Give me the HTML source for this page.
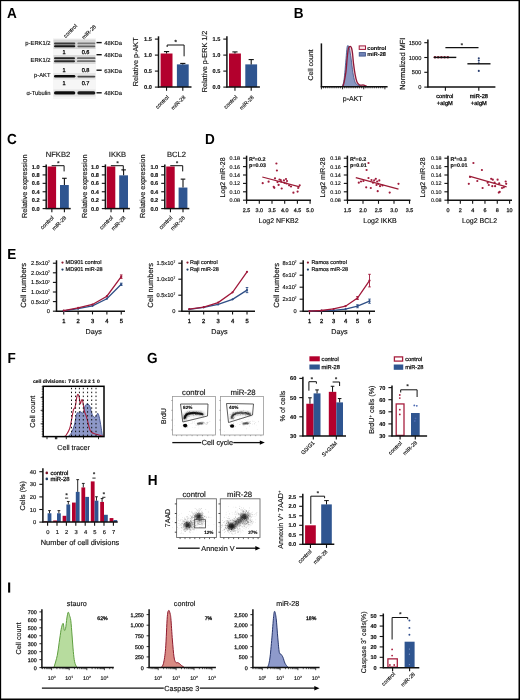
<!DOCTYPE html><html><head><meta charset="utf-8"><style>html,body{margin:0;padding:0;background:#fff;font-family:"Liberation Sans", sans-serif;}svg{display:block;will-change:transform;}</style></head><body><svg width="520" height="700" viewBox="0 0 520 700" font-family="&quot;Liberation Sans&quot;, sans-serif" text-rendering="geometricPrecision">
<defs><filter id="b1" x="-20%" y="-50%" width="140%" height="200%"><feGaussianBlur stdDeviation="0.6"/></filter><filter id="b2" x="-50%" y="-50%" width="200%" height="200%"><feGaussianBlur stdDeviation="1.2"/></filter><filter id="b3" x="-50%" y="-50%" width="200%" height="200%"><feGaussianBlur stdDeviation="0.35"/></filter></defs>
<rect x="0.00" y="0.00" width="520.00" height="700.00" fill="#fff"/>
<text transform="translate(7.00 18.00) scale(0.93 1)" font-size="14.6" font-weight="bold" fill="#000">A</text>
<rect x="53.00" y="38.00" width="43.00" height="61.00" fill="#f6f6f6"/>
<rect x="53.50" y="39.50" width="42.00" height="9.50" fill="#d6d6d6" filter="url(#b1)"/>
<rect x="53.50" y="55.00" width="42.00" height="9.00" fill="#d9d9d9" filter="url(#b1)"/>
<rect x="53.50" y="73.00" width="42.00" height="6.50" fill="#e4e4e4" filter="url(#b1)"/>
<rect x="53.50" y="89.50" width="42.00" height="7.00" fill="#e4e4e4" filter="url(#b1)"/>
<rect x="54.00" y="42.40" width="21.30" height="2.00" rx="1.00" fill="#3a3a3a" filter="url(#b1)"/>
<rect x="77.40" y="42.55" width="17.90" height="1.70" rx="0.85" fill="#7a7a7a" filter="url(#b1)"/>
<rect x="54.00" y="45.25" width="21.30" height="2.10" rx="1.05" fill="#151515" filter="url(#b1)"/>
<rect x="77.40" y="45.40" width="17.90" height="1.80" rx="0.90" fill="#5f5f5f" filter="url(#b1)"/>
<rect x="54.00" y="57.20" width="21.00" height="2.00" rx="1.00" fill="#222" filter="url(#b1)"/>
<rect x="77.00" y="57.30" width="18.50" height="1.80" rx="0.90" fill="#666" filter="url(#b1)"/>
<rect x="54.00" y="60.20" width="21.00" height="2.00" rx="1.00" fill="#2a2a2a" filter="url(#b1)"/>
<rect x="77.00" y="60.30" width="18.50" height="1.80" rx="0.90" fill="#6f6f6f" filter="url(#b1)"/>
<rect x="54.00" y="75.05" width="21.30" height="2.50" rx="1.25" fill="#111" filter="url(#b1)"/>
<rect x="77.40" y="75.65" width="17.90" height="1.90" rx="0.95" fill="#484848" filter="url(#b1)"/>
<rect x="54.00" y="91.20" width="21.30" height="3.40" rx="1.70" fill="#111" filter="url(#b1)"/>
<rect x="77.40" y="91.35" width="17.90" height="3.10" rx="1.55" fill="#1c1c1c" filter="url(#b1)"/>
<text x="64.00" y="54.42" font-size="5.6" text-anchor="middle" fill="#111" stroke="#111" stroke-width="0.3">1</text>
<text x="85.60" y="54.42" font-size="5.6" text-anchor="middle" fill="#111" stroke="#111" stroke-width="0.3">0.6</text>
<text x="64.00" y="71.52" font-size="5.6" text-anchor="middle" fill="#111" stroke="#111" stroke-width="0.3">1</text>
<text x="85.60" y="71.52" font-size="5.6" text-anchor="middle" fill="#111" stroke="#111" stroke-width="0.3">0.8</text>
<text x="64.00" y="85.02" font-size="5.6" text-anchor="middle" fill="#111" stroke="#111" stroke-width="0.3">1</text>
<text x="85.60" y="85.02" font-size="5.6" text-anchor="middle" fill="#111" stroke="#111" stroke-width="0.3">0.7</text>
<text x="50.50" y="45.09" font-size="5.8" text-anchor="end" fill="#111" stroke="#111" stroke-width="0.15">p-ERK1/2</text>
<text x="50.50" y="62.09" font-size="5.8" text-anchor="end" fill="#111" stroke="#111" stroke-width="0.15">ERK1/2</text>
<text x="50.50" y="76.59" font-size="5.8" text-anchor="end" fill="#111" stroke="#111" stroke-width="0.15">p-AKT</text>
<text x="50.50" y="95.09" font-size="5.8" text-anchor="end" fill="#111" stroke="#111" stroke-width="0.15">&#945;-Tubulin</text>
<line x1="96.50" y1="42.60" x2="101.70" y2="42.60" stroke="#111" stroke-width="1.4"/>
<text x="104.30" y="44.99" font-size="5.8" text-anchor="start" fill="#111" stroke="#111" stroke-width="0.15">48KDa</text>
<line x1="96.50" y1="54.70" x2="101.70" y2="54.70" stroke="#111" stroke-width="1.4"/>
<text x="104.30" y="57.09" font-size="5.8" text-anchor="start" fill="#111" stroke="#111" stroke-width="0.15">48KDa</text>
<line x1="96.50" y1="70.20" x2="101.70" y2="70.20" stroke="#111" stroke-width="1.4"/>
<text x="104.30" y="72.59" font-size="5.8" text-anchor="start" fill="#111" stroke="#111" stroke-width="0.15">63KDa</text>
<line x1="96.50" y1="92.80" x2="101.70" y2="92.80" stroke="#111" stroke-width="1.4"/>
<text x="104.30" y="95.19" font-size="5.8" text-anchor="start" fill="#111" stroke="#111" stroke-width="0.15">48KDa</text>
<text x="77.50" y="26.50" font-size="5.5" text-anchor="end" fill="#111" stroke="#111" stroke-width="0.15" transform="rotate(-45 77.50 26.50)">control</text>
<text x="96.50" y="27.00" font-size="5.5" text-anchor="end" fill="#111" stroke="#111" stroke-width="0.15" transform="rotate(-45 96.50 27.00)">miR-28</text>
<rect x="160.60" y="53.50" width="11.90" height="33.60" fill="#b3002d"/>
<rect x="176.90" y="64.38" width="11.80" height="22.72" fill="#2f5590"/>
<line x1="166.55" y1="53.50" x2="166.55" y2="51.58" stroke="#111" stroke-width="1.1"/>
<line x1="163.95" y1="51.58" x2="169.15" y2="51.58" stroke="#111" stroke-width="1.1"/>
<line x1="182.80" y1="64.38" x2="182.80" y2="63.42" stroke="#111" stroke-width="1.1"/>
<line x1="180.20" y1="63.42" x2="185.40" y2="63.42" stroke="#111" stroke-width="1.1"/>
<line x1="158.50" y1="36.30" x2="158.50" y2="87.60" stroke="#111" stroke-width="1.5"/>
<line x1="154.90" y1="39.10" x2="158.50" y2="39.10" stroke="#111" stroke-width="1.1"/>
<text x="151.90" y="41.12" font-size="5.6" text-anchor="end" font-weight="bold" fill="#111" stroke="#111" stroke-width="0.15">1.5</text>
<line x1="154.90" y1="55.10" x2="158.50" y2="55.10" stroke="#111" stroke-width="1.1"/>
<text x="151.90" y="57.12" font-size="5.6" text-anchor="end" font-weight="bold" fill="#111" stroke="#111" stroke-width="0.15">1.0</text>
<line x1="154.90" y1="71.10" x2="158.50" y2="71.10" stroke="#111" stroke-width="1.1"/>
<text x="151.90" y="73.12" font-size="5.6" text-anchor="end" font-weight="bold" fill="#111" stroke="#111" stroke-width="0.15">0.5</text>
<line x1="154.90" y1="87.10" x2="158.50" y2="87.10" stroke="#111" stroke-width="1.1"/>
<text x="151.90" y="89.12" font-size="5.6" text-anchor="end" font-weight="bold" fill="#111" stroke="#111" stroke-width="0.15">0.0</text>
<line x1="158.00" y1="87.10" x2="191.50" y2="87.10" stroke="#111" stroke-width="1.5"/>
<line x1="166.55" y1="87.10" x2="166.55" y2="90.70" stroke="#111" stroke-width="1.1"/>
<line x1="182.80" y1="87.10" x2="182.80" y2="90.70" stroke="#111" stroke-width="1.1"/>
<text x="169.35" y="97.60" font-size="5.5" text-anchor="end" fill="#111" stroke="#111" stroke-width="0.15" transform="rotate(-45 169.35 97.60)">control</text>
<text x="185.90" y="97.60" font-size="5.5" text-anchor="end" fill="#111" stroke="#111" stroke-width="0.15" transform="rotate(-45 185.90 97.60)">miR-28</text>
<text x="137.99" y="61.80" font-size="7.25" text-anchor="middle" fill="#111" stroke="#111" stroke-width="0.15" transform="rotate(-90 137.99 61.80)">Relative p-AKT</text>
<path d="M167.15,47 L167.15,45 L184.10,45 L184.10,56.3" fill="none" stroke="#111" stroke-width="1.0"/>
<text x="175.62" y="43.66" font-size="6" text-anchor="middle" font-weight="bold" fill="#111" stroke="#111" stroke-width="0.15">*</text>
<rect x="229.00" y="53.50" width="11.90" height="33.60" fill="#b3002d"/>
<rect x="245.30" y="64.38" width="11.80" height="22.72" fill="#2f5590"/>
<line x1="234.95" y1="53.50" x2="234.95" y2="51.90" stroke="#111" stroke-width="1.1"/>
<line x1="232.35" y1="51.90" x2="237.55" y2="51.90" stroke="#111" stroke-width="1.1"/>
<line x1="251.20" y1="64.38" x2="251.20" y2="59.58" stroke="#111" stroke-width="1.1"/>
<line x1="248.60" y1="59.58" x2="253.80" y2="59.58" stroke="#111" stroke-width="1.1"/>
<line x1="226.90" y1="36.30" x2="226.90" y2="87.60" stroke="#111" stroke-width="1.5"/>
<line x1="223.30" y1="39.10" x2="226.90" y2="39.10" stroke="#111" stroke-width="1.1"/>
<text x="220.30" y="41.12" font-size="5.6" text-anchor="end" font-weight="bold" fill="#111" stroke="#111" stroke-width="0.15">1.5</text>
<line x1="223.30" y1="55.10" x2="226.90" y2="55.10" stroke="#111" stroke-width="1.1"/>
<text x="220.30" y="57.12" font-size="5.6" text-anchor="end" font-weight="bold" fill="#111" stroke="#111" stroke-width="0.15">1.0</text>
<line x1="223.30" y1="71.10" x2="226.90" y2="71.10" stroke="#111" stroke-width="1.1"/>
<text x="220.30" y="73.12" font-size="5.6" text-anchor="end" font-weight="bold" fill="#111" stroke="#111" stroke-width="0.15">0.5</text>
<line x1="223.30" y1="87.10" x2="226.90" y2="87.10" stroke="#111" stroke-width="1.1"/>
<text x="220.30" y="89.12" font-size="5.6" text-anchor="end" font-weight="bold" fill="#111" stroke="#111" stroke-width="0.15">0.0</text>
<line x1="226.40" y1="87.10" x2="259.90" y2="87.10" stroke="#111" stroke-width="1.5"/>
<line x1="234.95" y1="87.10" x2="234.95" y2="90.70" stroke="#111" stroke-width="1.1"/>
<line x1="251.20" y1="87.10" x2="251.20" y2="90.70" stroke="#111" stroke-width="1.1"/>
<text x="237.75" y="97.60" font-size="5.5" text-anchor="end" fill="#111" stroke="#111" stroke-width="0.15" transform="rotate(-45 237.75 97.60)">control</text>
<text x="254.30" y="97.60" font-size="5.5" text-anchor="end" fill="#111" stroke="#111" stroke-width="0.15" transform="rotate(-45 254.30 97.60)">miR-28</text>
<text x="207.39" y="61.50" font-size="7.25" text-anchor="middle" fill="#111" stroke="#111" stroke-width="0.15" transform="rotate(-90 207.39 61.50)">Relative p-ERK 1/2</text>
<text transform="translate(293.70 17.70) scale(0.93 1)" font-size="14.6" font-weight="bold" fill="#000">B</text>
<path d="M342.80,86.50 C343.03,85.72 343.67,84.32 344.20,81.80 C344.73,79.28 345.52,75.23 346.00,71.40 C346.48,67.57 346.72,62.53 347.10,58.80 C347.48,55.07 347.92,51.00 348.30,49.00 C348.68,47.00 349.02,47.22 349.40,46.80 C349.78,46.38 350.23,46.27 350.60,46.50 C350.97,46.73 351.28,47.12 351.60,48.20 C351.92,49.28 352.18,50.47 352.50,53.00 C352.82,55.53 353.05,59.75 353.50,63.40 C353.95,67.05 354.63,71.83 355.20,74.90 C355.77,77.97 356.23,80.17 356.90,81.80 C357.57,83.43 358.43,84.13 359.20,84.70 C359.97,85.27 360.87,85.17 361.50,85.20 C362.13,85.23 362.42,84.83 363.00,84.90 C363.58,84.97 364.33,85.33 365.00,85.60 C365.67,85.87 366.67,86.35 367.00,86.50 Z" fill="#f4d6dc"/>
<path d="M342.20,86.50 C342.45,85.72 343.27,84.12 343.70,81.80 C344.13,79.48 344.42,76.43 344.80,72.60 C345.18,68.77 345.62,63.03 346.00,58.80 C346.38,54.57 346.72,49.37 347.10,47.20 C347.48,45.03 347.92,45.60 348.30,45.80 C348.68,46.00 348.93,46.23 349.40,48.40 C349.87,50.57 350.52,54.77 351.10,58.80 C351.68,62.83 352.32,68.95 352.90,72.60 C353.48,76.25 354.03,78.78 354.60,80.70 C355.17,82.62 355.53,83.28 356.30,84.10 C357.07,84.92 358.25,85.23 359.20,85.60 C360.15,85.97 360.87,86.15 362.00,86.30 C363.13,86.45 365.33,86.47 366.00,86.50 Z" fill="#7d8fbe" fill-opacity="0.9"/>
<path d="M342.20,86.50 C342.45,85.72 343.27,84.12 343.70,81.80 C344.13,79.48 344.42,76.43 344.80,72.60 C345.18,68.77 345.62,63.03 346.00,58.80 C346.38,54.57 346.72,49.37 347.10,47.20 C347.48,45.03 347.92,45.60 348.30,45.80 C348.68,46.00 348.93,46.23 349.40,48.40 C349.87,50.57 350.52,54.77 351.10,58.80 C351.68,62.83 352.32,68.95 352.90,72.60 C353.48,76.25 354.03,78.78 354.60,80.70 C355.17,82.62 355.53,83.28 356.30,84.10 C357.07,84.92 358.25,85.23 359.20,85.60 C360.15,85.97 360.87,86.15 362.00,86.30 C363.13,86.45 365.33,86.47 366.00,86.50" fill="none" stroke="#3b4f86" stroke-width="0.8"/>
<path d="M342.80,86.50 C343.03,85.72 343.67,84.32 344.20,81.80 C344.73,79.28 345.52,75.23 346.00,71.40 C346.48,67.57 346.72,62.53 347.10,58.80 C347.48,55.07 347.92,51.00 348.30,49.00 C348.68,47.00 349.02,47.22 349.40,46.80 C349.78,46.38 350.23,46.27 350.60,46.50 C350.97,46.73 351.28,47.12 351.60,48.20 C351.92,49.28 352.18,50.47 352.50,53.00 C352.82,55.53 353.05,59.75 353.50,63.40 C353.95,67.05 354.63,71.83 355.20,74.90 C355.77,77.97 356.23,80.17 356.90,81.80 C357.57,83.43 358.43,84.13 359.20,84.70 C359.97,85.27 360.87,85.17 361.50,85.20 C362.13,85.23 362.42,84.83 363.00,84.90 C363.58,84.97 364.33,85.33 365.00,85.60 C365.67,85.87 366.67,86.35 367.00,86.50" fill="none" stroke="#8e1838" stroke-width="1.3"/>
<line x1="321.40" y1="43.40" x2="321.40" y2="87.30" stroke="#111" stroke-width="1.5"/>
<line x1="320.80" y1="86.70" x2="387.60" y2="86.70" stroke="#111" stroke-width="1.5"/>
<line x1="321.40" y1="86.70" x2="321.40" y2="89.30" stroke="#111" stroke-width="0.9"/>
<line x1="323.52" y1="86.70" x2="323.52" y2="88.30" stroke="#111" stroke-width="0.8"/>
<line x1="325.63" y1="86.70" x2="325.63" y2="88.30" stroke="#111" stroke-width="0.8"/>
<line x1="327.75" y1="86.70" x2="327.75" y2="88.30" stroke="#111" stroke-width="0.8"/>
<line x1="329.87" y1="86.70" x2="329.87" y2="88.30" stroke="#111" stroke-width="0.8"/>
<line x1="331.98" y1="86.70" x2="331.98" y2="88.30" stroke="#111" stroke-width="0.8"/>
<line x1="334.10" y1="86.70" x2="334.10" y2="88.30" stroke="#111" stroke-width="0.8"/>
<line x1="336.22" y1="86.70" x2="336.22" y2="88.30" stroke="#111" stroke-width="0.8"/>
<line x1="338.33" y1="86.70" x2="338.33" y2="88.30" stroke="#111" stroke-width="0.8"/>
<line x1="340.45" y1="86.70" x2="340.45" y2="88.30" stroke="#111" stroke-width="0.8"/>
<line x1="342.57" y1="86.70" x2="342.57" y2="89.30" stroke="#111" stroke-width="0.9"/>
<line x1="344.68" y1="86.70" x2="344.68" y2="88.30" stroke="#111" stroke-width="0.8"/>
<line x1="346.80" y1="86.70" x2="346.80" y2="88.30" stroke="#111" stroke-width="0.8"/>
<line x1="348.92" y1="86.70" x2="348.92" y2="88.30" stroke="#111" stroke-width="0.8"/>
<line x1="351.03" y1="86.70" x2="351.03" y2="88.30" stroke="#111" stroke-width="0.8"/>
<line x1="353.15" y1="86.70" x2="353.15" y2="88.30" stroke="#111" stroke-width="0.8"/>
<line x1="355.27" y1="86.70" x2="355.27" y2="88.30" stroke="#111" stroke-width="0.8"/>
<line x1="357.38" y1="86.70" x2="357.38" y2="88.30" stroke="#111" stroke-width="0.8"/>
<line x1="359.50" y1="86.70" x2="359.50" y2="88.30" stroke="#111" stroke-width="0.8"/>
<line x1="361.62" y1="86.70" x2="361.62" y2="88.30" stroke="#111" stroke-width="0.8"/>
<line x1="363.73" y1="86.70" x2="363.73" y2="89.30" stroke="#111" stroke-width="0.9"/>
<line x1="365.85" y1="86.70" x2="365.85" y2="88.30" stroke="#111" stroke-width="0.8"/>
<line x1="367.97" y1="86.70" x2="367.97" y2="88.30" stroke="#111" stroke-width="0.8"/>
<line x1="370.08" y1="86.70" x2="370.08" y2="88.30" stroke="#111" stroke-width="0.8"/>
<line x1="372.20" y1="86.70" x2="372.20" y2="88.30" stroke="#111" stroke-width="0.8"/>
<line x1="374.32" y1="86.70" x2="374.32" y2="88.30" stroke="#111" stroke-width="0.8"/>
<line x1="376.43" y1="86.70" x2="376.43" y2="88.30" stroke="#111" stroke-width="0.8"/>
<line x1="378.55" y1="86.70" x2="378.55" y2="88.30" stroke="#111" stroke-width="0.8"/>
<line x1="380.67" y1="86.70" x2="380.67" y2="88.30" stroke="#111" stroke-width="0.8"/>
<line x1="382.78" y1="86.70" x2="382.78" y2="88.30" stroke="#111" stroke-width="0.8"/>
<line x1="384.90" y1="86.70" x2="384.90" y2="89.30" stroke="#111" stroke-width="0.9"/>
<rect x="359.20" y="45.90" width="6.30" height="3.50" fill="#fbe8ec" stroke="#a0183a" stroke-width="1.0"/>
<rect x="359.20" y="52.60" width="6.30" height="3.50" fill="#6f82b5" stroke="#3b4f86" stroke-width="0.8"/>
<text x="367.30" y="49.82" font-size="5.6" text-anchor="start" font-weight="bold" fill="#111" stroke="#111" stroke-width="0.15">control</text>
<text x="367.30" y="56.32" font-size="5.6" text-anchor="start" font-weight="bold" fill="#111" stroke="#111" stroke-width="0.15">miR-28</text>
<text x="313.11" y="65.00" font-size="7" text-anchor="middle" fill="#111" stroke="#111" stroke-width="0.15" transform="rotate(-90 313.11 65.00)">Cell count</text>
<text x="352.70" y="100.92" font-size="7" text-anchor="middle" fill="#111" stroke="#111" stroke-width="0.15">p-AKT</text>
<line x1="427.90" y1="39.60" x2="427.90" y2="87.60" stroke="#111" stroke-width="1.5"/>
<line x1="424.30" y1="42.70" x2="427.90" y2="42.70" stroke="#111" stroke-width="1.1"/>
<text x="421.30" y="44.75" font-size="5.7" text-anchor="end" fill="#111" stroke="#111" stroke-width="0.15">1500</text>
<line x1="424.30" y1="57.50" x2="427.90" y2="57.50" stroke="#111" stroke-width="1.1"/>
<text x="421.30" y="59.55" font-size="5.7" text-anchor="end" fill="#111" stroke="#111" stroke-width="0.15">1000</text>
<line x1="424.30" y1="72.30" x2="427.90" y2="72.30" stroke="#111" stroke-width="1.1"/>
<text x="421.30" y="74.35" font-size="5.7" text-anchor="end" fill="#111" stroke="#111" stroke-width="0.15">500</text>
<line x1="424.30" y1="87.10" x2="427.90" y2="87.10" stroke="#111" stroke-width="1.1"/>
<text x="421.30" y="89.15" font-size="5.7" text-anchor="end" fill="#111" stroke="#111" stroke-width="0.15">0</text>
<line x1="427.40" y1="87.10" x2="495.40" y2="87.10" stroke="#111" stroke-width="1.5"/>
<line x1="445.40" y1="87.10" x2="445.40" y2="90.70" stroke="#111" stroke-width="1.1"/>
<line x1="478.80" y1="87.10" x2="478.80" y2="90.70" stroke="#111" stroke-width="1.1"/>
<circle cx="435.00" cy="57.30" r="1.3" fill="#8a1830"/>
<circle cx="438.20" cy="57.30" r="1.3" fill="#8a1830"/>
<circle cx="441.40" cy="57.30" r="1.3" fill="#8a1830"/>
<circle cx="444.60" cy="57.30" r="1.3" fill="#8a1830"/>
<circle cx="447.80" cy="57.30" r="1.3" fill="#8a1830"/>
<line x1="433.80" y1="57.40" x2="456.30" y2="57.40" stroke="#111" stroke-width="1.4"/>
<circle cx="478.80" cy="58.20" r="1.05" fill="#2a3f70"/>
<circle cx="478.80" cy="60.60" r="1.05" fill="#2a3f70"/>
<circle cx="478.80" cy="63.30" r="1.05" fill="#2a3f70"/>
<circle cx="478.80" cy="70.90" r="1.05" fill="#2a3f70"/>
<line x1="467.40" y1="63.80" x2="490.50" y2="63.80" stroke="#111" stroke-width="1.4"/>
<line x1="445.40" y1="47.60" x2="478.50" y2="47.60" stroke="#111" stroke-width="1.4"/>
<text x="461.80" y="46.78" font-size="5.5" text-anchor="middle" font-weight="bold" fill="#111" stroke="#111" stroke-width="0.15">*</text>
<text x="444.80" y="98.35" font-size="5.7" text-anchor="middle" fill="#111" stroke="#111" stroke-width="0.3">control</text>
<text x="444.80" y="104.75" font-size="5.7" text-anchor="middle" fill="#111" stroke="#111" stroke-width="0.3">+aIgM</text>
<text x="478.80" y="98.35" font-size="5.7" text-anchor="middle" fill="#111" stroke="#111" stroke-width="0.3">miR-28</text>
<text x="478.80" y="104.75" font-size="5.7" text-anchor="middle" fill="#111" stroke="#111" stroke-width="0.3">+aIgM</text>
<text x="404.74" y="63.70" font-size="7.4" text-anchor="middle" fill="#111" stroke="#111" stroke-width="0.15" transform="rotate(-90 404.74 63.70)">Normalized MFI</text>
<text transform="translate(7.00 143.80) scale(0.93 1)" font-size="14.6" font-weight="bold" fill="#000">C</text>
<rect x="47.60" y="166.50" width="8.50" height="42.10" fill="#b3002d"/>
<rect x="60.00" y="185.02" width="8.80" height="23.58" fill="#2f5590"/>
<line x1="64.40" y1="185.02" x2="64.40" y2="178.29" stroke="#111" stroke-width="1.1"/>
<line x1="62.10" y1="178.29" x2="66.70" y2="178.29" stroke="#111" stroke-width="1.1"/>
<line x1="46.20" y1="164.40" x2="46.20" y2="209.10" stroke="#111" stroke-width="1.5"/>
<line x1="42.60" y1="208.60" x2="46.20" y2="208.60" stroke="#111" stroke-width="1.1"/>
<text x="39.60" y="210.62" font-size="5.6" text-anchor="end" font-weight="bold" fill="#111" stroke="#111" stroke-width="0.15">0.0</text>
<line x1="42.60" y1="200.18" x2="46.20" y2="200.18" stroke="#111" stroke-width="1.1"/>
<text x="39.60" y="202.20" font-size="5.6" text-anchor="end" font-weight="bold" fill="#111" stroke="#111" stroke-width="0.15">0.2</text>
<line x1="42.60" y1="191.76" x2="46.20" y2="191.76" stroke="#111" stroke-width="1.1"/>
<text x="39.60" y="193.78" font-size="5.6" text-anchor="end" font-weight="bold" fill="#111" stroke="#111" stroke-width="0.15">0.4</text>
<line x1="42.60" y1="183.34" x2="46.20" y2="183.34" stroke="#111" stroke-width="1.1"/>
<text x="39.60" y="185.36" font-size="5.6" text-anchor="end" font-weight="bold" fill="#111" stroke="#111" stroke-width="0.15">0.6</text>
<line x1="42.60" y1="174.92" x2="46.20" y2="174.92" stroke="#111" stroke-width="1.1"/>
<text x="39.60" y="176.94" font-size="5.6" text-anchor="end" font-weight="bold" fill="#111" stroke="#111" stroke-width="0.15">0.8</text>
<line x1="42.60" y1="166.50" x2="46.20" y2="166.50" stroke="#111" stroke-width="1.1"/>
<text x="39.60" y="168.52" font-size="5.6" text-anchor="end" font-weight="bold" fill="#111" stroke="#111" stroke-width="0.15">1.0</text>
<line x1="45.70" y1="208.60" x2="70.70" y2="208.60" stroke="#111" stroke-width="1.5"/>
<line x1="51.85" y1="208.60" x2="51.85" y2="212.20" stroke="#111" stroke-width="1.1"/>
<line x1="64.40" y1="208.60" x2="64.40" y2="212.20" stroke="#111" stroke-width="1.1"/>
<text x="54.25" y="218.20" font-size="5.5" text-anchor="end" fill="#111" stroke="#111" stroke-width="0.15" transform="rotate(-45 54.25 218.20)">control</text>
<text x="66.80" y="218.20" font-size="5.5" text-anchor="end" fill="#111" stroke="#111" stroke-width="0.15" transform="rotate(-45 66.80 218.20)">miR-28</text>
<text x="58.00" y="157.14" font-size="7.6" text-anchor="middle" fill="#111" stroke="#111" stroke-width="0.15">NFKB2</text>
<text x="27.21" y="186.20" font-size="7.3" text-anchor="middle" fill="#111" stroke="#111" stroke-width="0.15" transform="rotate(-90 27.21 186.20)">Relative expression</text>
<path d="M51.65,165.7 L64.10,165.7 L64.10,171.4" fill="none" stroke="#111" stroke-width="1.0"/>
<text x="58.38" y="164.58" font-size="5.5" text-anchor="middle" font-weight="bold" fill="#111" stroke="#111" stroke-width="0.15">*</text>
<rect x="106.80" y="166.50" width="8.50" height="42.10" fill="#b3002d"/>
<rect x="119.20" y="175.34" width="8.80" height="33.26" fill="#2f5590"/>
<line x1="123.60" y1="175.34" x2="123.60" y2="169.87" stroke="#111" stroke-width="1.1"/>
<line x1="121.30" y1="169.87" x2="125.90" y2="169.87" stroke="#111" stroke-width="1.1"/>
<line x1="105.40" y1="164.40" x2="105.40" y2="209.10" stroke="#111" stroke-width="1.5"/>
<line x1="101.80" y1="208.60" x2="105.40" y2="208.60" stroke="#111" stroke-width="1.1"/>
<text x="98.80" y="210.62" font-size="5.6" text-anchor="end" font-weight="bold" fill="#111" stroke="#111" stroke-width="0.15">0.0</text>
<line x1="101.80" y1="200.18" x2="105.40" y2="200.18" stroke="#111" stroke-width="1.1"/>
<text x="98.80" y="202.20" font-size="5.6" text-anchor="end" font-weight="bold" fill="#111" stroke="#111" stroke-width="0.15">0.2</text>
<line x1="101.80" y1="191.76" x2="105.40" y2="191.76" stroke="#111" stroke-width="1.1"/>
<text x="98.80" y="193.78" font-size="5.6" text-anchor="end" font-weight="bold" fill="#111" stroke="#111" stroke-width="0.15">0.4</text>
<line x1="101.80" y1="183.34" x2="105.40" y2="183.34" stroke="#111" stroke-width="1.1"/>
<text x="98.80" y="185.36" font-size="5.6" text-anchor="end" font-weight="bold" fill="#111" stroke="#111" stroke-width="0.15">0.6</text>
<line x1="101.80" y1="174.92" x2="105.40" y2="174.92" stroke="#111" stroke-width="1.1"/>
<text x="98.80" y="176.94" font-size="5.6" text-anchor="end" font-weight="bold" fill="#111" stroke="#111" stroke-width="0.15">0.8</text>
<line x1="101.80" y1="166.50" x2="105.40" y2="166.50" stroke="#111" stroke-width="1.1"/>
<text x="98.80" y="168.52" font-size="5.6" text-anchor="end" font-weight="bold" fill="#111" stroke="#111" stroke-width="0.15">1.0</text>
<line x1="104.90" y1="208.60" x2="129.90" y2="208.60" stroke="#111" stroke-width="1.5"/>
<line x1="111.05" y1="208.60" x2="111.05" y2="212.20" stroke="#111" stroke-width="1.1"/>
<line x1="123.60" y1="208.60" x2="123.60" y2="212.20" stroke="#111" stroke-width="1.1"/>
<text x="113.45" y="218.20" font-size="5.5" text-anchor="end" fill="#111" stroke="#111" stroke-width="0.15" transform="rotate(-45 113.45 218.20)">control</text>
<text x="126.00" y="218.20" font-size="5.5" text-anchor="end" fill="#111" stroke="#111" stroke-width="0.15" transform="rotate(-45 126.00 218.20)">miR-28</text>
<text x="117.50" y="157.14" font-size="7.6" text-anchor="middle" fill="#111" stroke="#111" stroke-width="0.15">IKKB</text>
<text x="86.61" y="186.20" font-size="7.3" text-anchor="middle" fill="#111" stroke="#111" stroke-width="0.15" transform="rotate(-90 86.61 186.20)">Relative expression</text>
<path d="M110.85,165.7 L123.30,165.7 L123.30,171.4" fill="none" stroke="#111" stroke-width="1.0"/>
<text x="117.58" y="164.58" font-size="5.5" text-anchor="middle" font-weight="bold" fill="#111" stroke="#111" stroke-width="0.15">*</text>
<rect x="166.20" y="166.50" width="8.50" height="42.10" fill="#b3002d"/>
<rect x="178.60" y="187.55" width="8.80" height="21.05" fill="#2f5590"/>
<line x1="183.00" y1="187.55" x2="183.00" y2="179.13" stroke="#111" stroke-width="1.1"/>
<line x1="180.70" y1="179.13" x2="185.30" y2="179.13" stroke="#111" stroke-width="1.1"/>
<line x1="164.80" y1="164.40" x2="164.80" y2="209.10" stroke="#111" stroke-width="1.5"/>
<line x1="161.20" y1="208.60" x2="164.80" y2="208.60" stroke="#111" stroke-width="1.1"/>
<text x="158.20" y="210.62" font-size="5.6" text-anchor="end" font-weight="bold" fill="#111" stroke="#111" stroke-width="0.15">0.0</text>
<line x1="161.20" y1="200.18" x2="164.80" y2="200.18" stroke="#111" stroke-width="1.1"/>
<text x="158.20" y="202.20" font-size="5.6" text-anchor="end" font-weight="bold" fill="#111" stroke="#111" stroke-width="0.15">0.2</text>
<line x1="161.20" y1="191.76" x2="164.80" y2="191.76" stroke="#111" stroke-width="1.1"/>
<text x="158.20" y="193.78" font-size="5.6" text-anchor="end" font-weight="bold" fill="#111" stroke="#111" stroke-width="0.15">0.4</text>
<line x1="161.20" y1="183.34" x2="164.80" y2="183.34" stroke="#111" stroke-width="1.1"/>
<text x="158.20" y="185.36" font-size="5.6" text-anchor="end" font-weight="bold" fill="#111" stroke="#111" stroke-width="0.15">0.6</text>
<line x1="161.20" y1="174.92" x2="164.80" y2="174.92" stroke="#111" stroke-width="1.1"/>
<text x="158.20" y="176.94" font-size="5.6" text-anchor="end" font-weight="bold" fill="#111" stroke="#111" stroke-width="0.15">0.8</text>
<line x1="161.20" y1="166.50" x2="164.80" y2="166.50" stroke="#111" stroke-width="1.1"/>
<text x="158.20" y="168.52" font-size="5.6" text-anchor="end" font-weight="bold" fill="#111" stroke="#111" stroke-width="0.15">1.0</text>
<line x1="164.30" y1="208.60" x2="189.30" y2="208.60" stroke="#111" stroke-width="1.5"/>
<line x1="170.45" y1="208.60" x2="170.45" y2="212.20" stroke="#111" stroke-width="1.1"/>
<line x1="183.00" y1="208.60" x2="183.00" y2="212.20" stroke="#111" stroke-width="1.1"/>
<text x="172.85" y="218.20" font-size="5.5" text-anchor="end" fill="#111" stroke="#111" stroke-width="0.15" transform="rotate(-45 172.85 218.20)">control</text>
<text x="185.40" y="218.20" font-size="5.5" text-anchor="end" fill="#111" stroke="#111" stroke-width="0.15" transform="rotate(-45 185.40 218.20)">miR-28</text>
<text x="176.50" y="157.14" font-size="7.6" text-anchor="middle" fill="#111" stroke="#111" stroke-width="0.15">BCL2</text>
<text x="144.91" y="186.20" font-size="7.3" text-anchor="middle" fill="#111" stroke="#111" stroke-width="0.15" transform="rotate(-90 144.91 186.20)">Relative expression</text>
<path d="M170.25,165.7 L182.70,165.7 L182.70,171.4" fill="none" stroke="#111" stroke-width="1.0"/>
<text x="176.98" y="164.58" font-size="5.5" text-anchor="middle" font-weight="bold" fill="#111" stroke="#111" stroke-width="0.15">*</text>
<text transform="translate(205.10 143.90) scale(0.93 1)" font-size="14.6" font-weight="bold" fill="#000">D</text>
<line x1="246.60" y1="155.70" x2="246.60" y2="200.70" stroke="#111" stroke-width="1.5"/>
<line x1="243.00" y1="200.20" x2="246.60" y2="200.20" stroke="#111" stroke-width="1.1"/>
<text x="240.00" y="202.14" font-size="5.4" text-anchor="end" fill="#111" stroke="#111" stroke-width="0.15">0.08</text>
<line x1="243.00" y1="191.80" x2="246.60" y2="191.80" stroke="#111" stroke-width="1.1"/>
<text x="240.00" y="193.74" font-size="5.4" text-anchor="end" fill="#111" stroke="#111" stroke-width="0.15">0.10</text>
<line x1="243.00" y1="183.40" x2="246.60" y2="183.40" stroke="#111" stroke-width="1.1"/>
<text x="240.00" y="185.34" font-size="5.4" text-anchor="end" fill="#111" stroke="#111" stroke-width="0.15">0.12</text>
<line x1="243.00" y1="175.00" x2="246.60" y2="175.00" stroke="#111" stroke-width="1.1"/>
<text x="240.00" y="176.94" font-size="5.4" text-anchor="end" fill="#111" stroke="#111" stroke-width="0.15">0.14</text>
<line x1="243.00" y1="166.60" x2="246.60" y2="166.60" stroke="#111" stroke-width="1.1"/>
<text x="240.00" y="168.54" font-size="5.4" text-anchor="end" fill="#111" stroke="#111" stroke-width="0.15">0.16</text>
<line x1="243.00" y1="158.20" x2="246.60" y2="158.20" stroke="#111" stroke-width="1.1"/>
<text x="240.00" y="160.14" font-size="5.4" text-anchor="end" fill="#111" stroke="#111" stroke-width="0.15">0.18</text>
<line x1="246.10" y1="200.20" x2="311.00" y2="200.20" stroke="#111" stroke-width="1.5"/>
<line x1="246.60" y1="200.20" x2="246.60" y2="203.80" stroke="#111" stroke-width="1.1"/>
<text x="246.60" y="211.54" font-size="5.4" text-anchor="middle" fill="#111" stroke="#111" stroke-width="0.25">2.5</text>
<line x1="259.30" y1="200.20" x2="259.30" y2="203.80" stroke="#111" stroke-width="1.1"/>
<text x="259.30" y="211.54" font-size="5.4" text-anchor="middle" fill="#111" stroke="#111" stroke-width="0.25">3.0</text>
<line x1="272.00" y1="200.20" x2="272.00" y2="203.80" stroke="#111" stroke-width="1.1"/>
<text x="272.00" y="211.54" font-size="5.4" text-anchor="middle" fill="#111" stroke="#111" stroke-width="0.25">3.5</text>
<line x1="284.70" y1="200.20" x2="284.70" y2="203.80" stroke="#111" stroke-width="1.1"/>
<text x="284.70" y="211.54" font-size="5.4" text-anchor="middle" fill="#111" stroke="#111" stroke-width="0.25">4.0</text>
<line x1="297.40" y1="200.20" x2="297.40" y2="203.80" stroke="#111" stroke-width="1.1"/>
<text x="297.40" y="211.54" font-size="5.4" text-anchor="middle" fill="#111" stroke="#111" stroke-width="0.25">4.5</text>
<line x1="310.10" y1="200.20" x2="310.10" y2="203.80" stroke="#111" stroke-width="1.1"/>
<text x="310.10" y="211.54" font-size="5.4" text-anchor="middle" fill="#111" stroke="#111" stroke-width="0.25">5.0</text>
<text x="278.60" y="223.22" font-size="7" text-anchor="middle" fill="#111" stroke="#111" stroke-width="0.15">Log2 NFKB2</text>
<text x="224.81" y="177.50" font-size="7" text-anchor="middle" fill="#111" stroke="#111" stroke-width="0.15" transform="rotate(-90 224.81 177.50)">Log2 miR-28</text>
<text x="249.10" y="160.54" font-size="5.4" text-anchor="start" font-weight="bold" fill="#111" stroke="#111" stroke-width="0.15">R<tspan font-size="3.2" dy="-1.8">2</tspan><tspan dy="1.8">=0.2</tspan></text>
<text x="249.10" y="166.74" font-size="5.4" text-anchor="start" font-weight="bold" fill="#111" stroke="#111" stroke-width="0.15">p=0.03</text>
<circle cx="262.70" cy="183.20" r="1.1" fill="#a01c3c"/>
<circle cx="268.60" cy="181.70" r="1.1" fill="#a01c3c"/>
<circle cx="276.40" cy="163.50" r="1.1" fill="#a01c3c"/>
<circle cx="276.90" cy="170.50" r="1.1" fill="#a01c3c"/>
<circle cx="275.00" cy="178.30" r="1.1" fill="#a01c3c"/>
<circle cx="273.70" cy="186.80" r="1.1" fill="#a01c3c"/>
<circle cx="274.30" cy="187.80" r="1.1" fill="#a01c3c"/>
<circle cx="278.60" cy="184.90" r="1.1" fill="#a01c3c"/>
<circle cx="280.70" cy="180.00" r="1.1" fill="#a01c3c"/>
<circle cx="281.30" cy="181.70" r="1.1" fill="#a01c3c"/>
<circle cx="281.70" cy="188.50" r="1.1" fill="#a01c3c"/>
<circle cx="283.90" cy="180.40" r="1.1" fill="#a01c3c"/>
<circle cx="286.00" cy="179.00" r="1.1" fill="#a01c3c"/>
<circle cx="287.00" cy="181.00" r="1.1" fill="#a01c3c"/>
<circle cx="289.10" cy="185.30" r="1.1" fill="#a01c3c"/>
<circle cx="293.40" cy="192.70" r="1.1" fill="#a01c3c"/>
<circle cx="297.60" cy="191.60" r="1.1" fill="#a01c3c"/>
<circle cx="298.20" cy="188.00" r="1.1" fill="#a01c3c"/>
<circle cx="299.70" cy="185.30" r="1.1" fill="#a01c3c"/>
<circle cx="277.50" cy="182.10" r="1.1" fill="#a01c3c"/>
<circle cx="279.50" cy="179.50" r="1.1" fill="#a01c3c"/>
<circle cx="284.50" cy="182.80" r="1.1" fill="#a01c3c"/>
<circle cx="291.00" cy="186.50" r="1.1" fill="#a01c3c"/>
<circle cx="286.50" cy="183.50" r="1.1" fill="#a01c3c"/>
<line x1="262.30" y1="177.00" x2="299.70" y2="186.80" stroke="#9b1b35" stroke-width="1.2"/>
<line x1="347.40" y1="155.70" x2="347.40" y2="200.70" stroke="#111" stroke-width="1.5"/>
<line x1="343.80" y1="200.20" x2="347.40" y2="200.20" stroke="#111" stroke-width="1.1"/>
<text x="340.80" y="202.14" font-size="5.4" text-anchor="end" fill="#111" stroke="#111" stroke-width="0.15">0.08</text>
<line x1="343.80" y1="191.80" x2="347.40" y2="191.80" stroke="#111" stroke-width="1.1"/>
<text x="340.80" y="193.74" font-size="5.4" text-anchor="end" fill="#111" stroke="#111" stroke-width="0.15">0.10</text>
<line x1="343.80" y1="183.40" x2="347.40" y2="183.40" stroke="#111" stroke-width="1.1"/>
<text x="340.80" y="185.34" font-size="5.4" text-anchor="end" fill="#111" stroke="#111" stroke-width="0.15">0.12</text>
<line x1="343.80" y1="175.00" x2="347.40" y2="175.00" stroke="#111" stroke-width="1.1"/>
<text x="340.80" y="176.94" font-size="5.4" text-anchor="end" fill="#111" stroke="#111" stroke-width="0.15">0.14</text>
<line x1="343.80" y1="166.60" x2="347.40" y2="166.60" stroke="#111" stroke-width="1.1"/>
<text x="340.80" y="168.54" font-size="5.4" text-anchor="end" fill="#111" stroke="#111" stroke-width="0.15">0.16</text>
<line x1="343.80" y1="158.20" x2="347.40" y2="158.20" stroke="#111" stroke-width="1.1"/>
<text x="340.80" y="160.14" font-size="5.4" text-anchor="end" fill="#111" stroke="#111" stroke-width="0.15">0.18</text>
<line x1="346.90" y1="200.20" x2="410.50" y2="200.20" stroke="#111" stroke-width="1.5"/>
<line x1="347.50" y1="200.20" x2="347.50" y2="203.80" stroke="#111" stroke-width="1.1"/>
<text x="347.50" y="211.54" font-size="5.4" text-anchor="middle" fill="#111" stroke="#111" stroke-width="0.25">1.5</text>
<line x1="363.00" y1="200.20" x2="363.00" y2="203.80" stroke="#111" stroke-width="1.1"/>
<text x="363.00" y="211.54" font-size="5.4" text-anchor="middle" fill="#111" stroke="#111" stroke-width="0.25">2.0</text>
<line x1="378.50" y1="200.20" x2="378.50" y2="203.80" stroke="#111" stroke-width="1.1"/>
<text x="378.50" y="211.54" font-size="5.4" text-anchor="middle" fill="#111" stroke="#111" stroke-width="0.25">2.5</text>
<line x1="394.00" y1="200.20" x2="394.00" y2="203.80" stroke="#111" stroke-width="1.1"/>
<text x="394.00" y="211.54" font-size="5.4" text-anchor="middle" fill="#111" stroke="#111" stroke-width="0.25">3.0</text>
<line x1="409.50" y1="200.20" x2="409.50" y2="203.80" stroke="#111" stroke-width="1.1"/>
<text x="409.50" y="211.54" font-size="5.4" text-anchor="middle" fill="#111" stroke="#111" stroke-width="0.25">3.5</text>
<text x="380.00" y="223.22" font-size="7" text-anchor="middle" fill="#111" stroke="#111" stroke-width="0.15">Log2 IKKB</text>
<text x="324.61" y="177.50" font-size="7" text-anchor="middle" fill="#111" stroke="#111" stroke-width="0.15" transform="rotate(-90 324.61 177.50)">Log2 miR-28</text>
<text x="349.90" y="160.54" font-size="5.4" text-anchor="start" font-weight="bold" fill="#111" stroke="#111" stroke-width="0.15">R<tspan font-size="3.2" dy="-1.8">2</tspan><tspan dy="1.8">=0.2</tspan></text>
<text x="349.90" y="166.74" font-size="5.4" text-anchor="start" font-weight="bold" fill="#111" stroke="#111" stroke-width="0.15">p=0.01</text>
<circle cx="368.50" cy="163.00" r="1.1" fill="#a01c3c"/>
<circle cx="366.60" cy="170.00" r="1.1" fill="#a01c3c"/>
<circle cx="358.80" cy="182.70" r="1.1" fill="#a01c3c"/>
<circle cx="363.40" cy="181.00" r="1.1" fill="#a01c3c"/>
<circle cx="366.20" cy="187.30" r="1.1" fill="#a01c3c"/>
<circle cx="370.80" cy="188.00" r="1.1" fill="#a01c3c"/>
<circle cx="373.00" cy="182.70" r="1.1" fill="#a01c3c"/>
<circle cx="374.20" cy="180.40" r="1.1" fill="#a01c3c"/>
<circle cx="375.80" cy="178.80" r="1.1" fill="#a01c3c"/>
<circle cx="377.20" cy="181.50" r="1.1" fill="#a01c3c"/>
<circle cx="378.20" cy="183.80" r="1.1" fill="#a01c3c"/>
<circle cx="379.30" cy="180.40" r="1.1" fill="#a01c3c"/>
<circle cx="377.70" cy="191.20" r="1.1" fill="#a01c3c"/>
<circle cx="380.00" cy="186.20" r="1.1" fill="#a01c3c"/>
<circle cx="389.70" cy="192.60" r="1.1" fill="#a01c3c"/>
<circle cx="398.50" cy="183.80" r="1.1" fill="#a01c3c"/>
<circle cx="361.00" cy="181.50" r="1.1" fill="#a01c3c"/>
<circle cx="368.50" cy="178.00" r="1.1" fill="#a01c3c"/>
<circle cx="371.50" cy="180.00" r="1.1" fill="#a01c3c"/>
<circle cx="376.50" cy="185.00" r="1.1" fill="#a01c3c"/>
<circle cx="382.50" cy="185.50" r="1.1" fill="#a01c3c"/>
<line x1="355.80" y1="177.60" x2="398.50" y2="189.20" stroke="#9b1b35" stroke-width="1.2"/>
<line x1="448.00" y1="155.70" x2="448.00" y2="200.70" stroke="#111" stroke-width="1.5"/>
<line x1="444.40" y1="200.20" x2="448.00" y2="200.20" stroke="#111" stroke-width="1.1"/>
<text x="441.40" y="202.14" font-size="5.4" text-anchor="end" fill="#111" stroke="#111" stroke-width="0.15">0.08</text>
<line x1="444.40" y1="191.80" x2="448.00" y2="191.80" stroke="#111" stroke-width="1.1"/>
<text x="441.40" y="193.74" font-size="5.4" text-anchor="end" fill="#111" stroke="#111" stroke-width="0.15">0.10</text>
<line x1="444.40" y1="183.40" x2="448.00" y2="183.40" stroke="#111" stroke-width="1.1"/>
<text x="441.40" y="185.34" font-size="5.4" text-anchor="end" fill="#111" stroke="#111" stroke-width="0.15">0.12</text>
<line x1="444.40" y1="175.00" x2="448.00" y2="175.00" stroke="#111" stroke-width="1.1"/>
<text x="441.40" y="176.94" font-size="5.4" text-anchor="end" fill="#111" stroke="#111" stroke-width="0.15">0.14</text>
<line x1="444.40" y1="166.60" x2="448.00" y2="166.60" stroke="#111" stroke-width="1.1"/>
<text x="441.40" y="168.54" font-size="5.4" text-anchor="end" fill="#111" stroke="#111" stroke-width="0.15">0.16</text>
<line x1="444.40" y1="158.20" x2="448.00" y2="158.20" stroke="#111" stroke-width="1.1"/>
<text x="441.40" y="160.14" font-size="5.4" text-anchor="end" fill="#111" stroke="#111" stroke-width="0.15">0.18</text>
<line x1="447.50" y1="200.20" x2="512.00" y2="200.20" stroke="#111" stroke-width="1.5"/>
<line x1="448.00" y1="200.20" x2="448.00" y2="203.80" stroke="#111" stroke-width="1.1"/>
<text x="448.00" y="211.54" font-size="5.4" text-anchor="middle" fill="#111" stroke="#111" stroke-width="0.25">0</text>
<line x1="460.32" y1="200.20" x2="460.32" y2="203.80" stroke="#111" stroke-width="1.1"/>
<text x="460.32" y="211.54" font-size="5.4" text-anchor="middle" fill="#111" stroke="#111" stroke-width="0.25">2</text>
<line x1="472.64" y1="200.20" x2="472.64" y2="203.80" stroke="#111" stroke-width="1.1"/>
<text x="472.64" y="211.54" font-size="5.4" text-anchor="middle" fill="#111" stroke="#111" stroke-width="0.25">4</text>
<line x1="484.96" y1="200.20" x2="484.96" y2="203.80" stroke="#111" stroke-width="1.1"/>
<text x="484.96" y="211.54" font-size="5.4" text-anchor="middle" fill="#111" stroke="#111" stroke-width="0.25">6</text>
<line x1="497.28" y1="200.20" x2="497.28" y2="203.80" stroke="#111" stroke-width="1.1"/>
<text x="497.28" y="211.54" font-size="5.4" text-anchor="middle" fill="#111" stroke="#111" stroke-width="0.25">8</text>
<line x1="509.60" y1="200.20" x2="509.60" y2="203.80" stroke="#111" stroke-width="1.1"/>
<text x="509.60" y="211.54" font-size="5.4" text-anchor="middle" fill="#111" stroke="#111" stroke-width="0.25">10</text>
<text x="479.60" y="223.22" font-size="7" text-anchor="middle" fill="#111" stroke="#111" stroke-width="0.15">Log2 BCL2</text>
<text x="424.91" y="177.50" font-size="7" text-anchor="middle" fill="#111" stroke="#111" stroke-width="0.15" transform="rotate(-90 424.91 177.50)">Log2 miR-28</text>
<text x="450.50" y="160.54" font-size="5.4" text-anchor="start" font-weight="bold" fill="#111" stroke="#111" stroke-width="0.15">R<tspan font-size="3.2" dy="-1.8">2</tspan><tspan dy="1.8">=0.3</tspan></text>
<text x="450.50" y="166.74" font-size="5.4" text-anchor="start" font-weight="bold" fill="#111" stroke="#111" stroke-width="0.15">p=0.01</text>
<circle cx="473.40" cy="163.00" r="1.1" fill="#a01c3c"/>
<circle cx="481.90" cy="170.00" r="1.1" fill="#a01c3c"/>
<circle cx="468.80" cy="183.80" r="1.1" fill="#a01c3c"/>
<circle cx="470.00" cy="177.00" r="1.1" fill="#a01c3c"/>
<circle cx="477.30" cy="181.00" r="1.1" fill="#a01c3c"/>
<circle cx="482.60" cy="188.00" r="1.1" fill="#a01c3c"/>
<circle cx="487.70" cy="182.70" r="1.1" fill="#a01c3c"/>
<circle cx="491.20" cy="178.80" r="1.1" fill="#a01c3c"/>
<circle cx="492.80" cy="179.70" r="1.1" fill="#a01c3c"/>
<circle cx="494.60" cy="182.70" r="1.1" fill="#a01c3c"/>
<circle cx="495.10" cy="186.20" r="1.1" fill="#a01c3c"/>
<circle cx="497.60" cy="179.70" r="1.1" fill="#a01c3c"/>
<circle cx="499.20" cy="183.40" r="1.1" fill="#a01c3c"/>
<circle cx="499.70" cy="191.90" r="1.1" fill="#a01c3c"/>
<circle cx="498.80" cy="192.60" r="1.1" fill="#a01c3c"/>
<circle cx="502.00" cy="188.00" r="1.1" fill="#a01c3c"/>
<circle cx="503.80" cy="187.30" r="1.1" fill="#a01c3c"/>
<circle cx="505.70" cy="181.50" r="1.1" fill="#a01c3c"/>
<circle cx="506.20" cy="183.80" r="1.1" fill="#a01c3c"/>
<circle cx="492.30" cy="186.20" r="1.1" fill="#a01c3c"/>
<circle cx="488.80" cy="185.00" r="1.1" fill="#a01c3c"/>
<line x1="469.20" y1="176.20" x2="506.60" y2="186.80" stroke="#9b1b35" stroke-width="1.2"/>
<text transform="translate(7.30 258.70) scale(0.93 1)" font-size="14.6" font-weight="bold" fill="#000">E</text>
<line x1="56.50" y1="260.30" x2="56.50" y2="311.80" stroke="#111" stroke-width="1.5"/>
<line x1="52.90" y1="311.20" x2="56.50" y2="311.20" stroke="#111" stroke-width="1.1"/>
<text x="49.90" y="313.25" font-size="5.7" text-anchor="end" fill="#111" stroke="#111" stroke-width="0.15">0</text>
<line x1="52.90" y1="301.60" x2="56.50" y2="301.60" stroke="#111" stroke-width="1.1"/>
<text x="49.90" y="303.65" font-size="5.7" text-anchor="end" fill="#111" stroke="#111" stroke-width="0.15">0.5x10<tspan font-size="3.2" dy="-1.8">7</tspan></text>
<line x1="52.90" y1="292.00" x2="56.50" y2="292.00" stroke="#111" stroke-width="1.1"/>
<text x="49.90" y="294.05" font-size="5.7" text-anchor="end" fill="#111" stroke="#111" stroke-width="0.15">1.0x10<tspan font-size="3.2" dy="-1.8">7</tspan></text>
<line x1="52.90" y1="282.40" x2="56.50" y2="282.40" stroke="#111" stroke-width="1.1"/>
<text x="49.90" y="284.45" font-size="5.7" text-anchor="end" fill="#111" stroke="#111" stroke-width="0.15">1.5x10<tspan font-size="3.2" dy="-1.8">7</tspan></text>
<line x1="52.90" y1="272.80" x2="56.50" y2="272.80" stroke="#111" stroke-width="1.1"/>
<text x="49.90" y="274.85" font-size="5.7" text-anchor="end" fill="#111" stroke="#111" stroke-width="0.15">2.0x10<tspan font-size="3.2" dy="-1.8">7</tspan></text>
<line x1="52.90" y1="263.20" x2="56.50" y2="263.20" stroke="#111" stroke-width="1.1"/>
<text x="49.90" y="265.25" font-size="5.7" text-anchor="end" fill="#111" stroke="#111" stroke-width="0.15">2.5x10<tspan font-size="3.2" dy="-1.8">7</tspan></text>
<line x1="55.90" y1="311.20" x2="125.00" y2="311.20" stroke="#111" stroke-width="1.5"/>
<line x1="63.75" y1="311.20" x2="63.75" y2="314.40" stroke="#111" stroke-width="1.1"/>
<text x="63.75" y="322.69" font-size="5.8" text-anchor="middle" fill="#111" stroke="#111" stroke-width="0.3">1</text>
<line x1="78.12" y1="311.20" x2="78.12" y2="314.40" stroke="#111" stroke-width="1.1"/>
<text x="78.12" y="322.69" font-size="5.8" text-anchor="middle" fill="#111" stroke="#111" stroke-width="0.3">2</text>
<line x1="92.50" y1="311.20" x2="92.50" y2="314.40" stroke="#111" stroke-width="1.1"/>
<text x="92.50" y="322.69" font-size="5.8" text-anchor="middle" fill="#111" stroke="#111" stroke-width="0.3">3</text>
<line x1="106.88" y1="311.20" x2="106.88" y2="314.40" stroke="#111" stroke-width="1.1"/>
<text x="106.88" y="322.69" font-size="5.8" text-anchor="middle" fill="#111" stroke="#111" stroke-width="0.3">4</text>
<line x1="121.25" y1="311.20" x2="121.25" y2="314.40" stroke="#111" stroke-width="1.1"/>
<text x="121.25" y="322.69" font-size="5.8" text-anchor="middle" fill="#111" stroke="#111" stroke-width="0.3">5</text>
<text x="93.75" y="334.09" font-size="7.2" text-anchor="middle" fill="#111" stroke="#111" stroke-width="0.15">Days</text>
<text x="25.51" y="285.30" font-size="7.6" text-anchor="middle" fill="#111" stroke="#111" stroke-width="0.15" transform="rotate(-90 25.51 285.30)">Cell numbers</text>
<path d="M63.75,310.82 L78.12,308.70 L92.50,305.82 L106.88,298.72 L121.25,284.32" fill="none" stroke="#2f4f86" stroke-width="1.3"/>
<circle cx="63.75" cy="310.82" r="1.1" fill="#2f4f86"/>
<circle cx="78.12" cy="308.70" r="1.1" fill="#2f4f86"/>
<circle cx="92.50" cy="305.82" r="1.1" fill="#2f4f86"/>
<circle cx="106.88" cy="298.72" r="1.1" fill="#2f4f86"/>
<circle cx="121.25" cy="284.32" r="1.1" fill="#2f4f86"/>
<line x1="121.25" y1="283.17" x2="121.25" y2="285.47" stroke="#2f4f86" stroke-width="0.9"/>
<line x1="119.95" y1="283.17" x2="122.55" y2="283.17" stroke="#2f4f86" stroke-width="0.9"/>
<line x1="119.95" y1="285.47" x2="122.55" y2="285.47" stroke="#2f4f86" stroke-width="0.9"/>
<path d="M63.75,310.62 L78.12,307.94 L92.50,304.48 L106.88,296.22 L121.25,276.64" fill="none" stroke="#a0183a" stroke-width="1.3"/>
<circle cx="63.75" cy="310.62" r="1.1" fill="#a0183a"/>
<circle cx="78.12" cy="307.94" r="1.1" fill="#a0183a"/>
<circle cx="92.50" cy="304.48" r="1.1" fill="#a0183a"/>
<circle cx="106.88" cy="296.22" r="1.1" fill="#a0183a"/>
<circle cx="121.25" cy="276.64" r="1.1" fill="#a0183a"/>
<line x1="121.25" y1="274.91" x2="121.25" y2="278.37" stroke="#a0183a" stroke-width="0.9"/>
<line x1="119.95" y1="274.91" x2="122.55" y2="274.91" stroke="#a0183a" stroke-width="0.9"/>
<line x1="119.95" y1="278.37" x2="122.55" y2="278.37" stroke="#a0183a" stroke-width="0.9"/>
<circle cx="62.50" cy="262.60" r="1.1" fill="#8a1a30"/>
<circle cx="62.50" cy="269.60" r="1.1" fill="#1f3f66"/>
<text x="65.60" y="264.28" font-size="5.5" text-anchor="start" fill="#111" stroke="#111" stroke-width="0.2">MD901 control</text>
<text x="65.60" y="271.38" font-size="5.5" text-anchor="start" fill="#111" stroke="#111" stroke-width="0.2">MD901 miR-28</text>
<line x1="181.90" y1="260.30" x2="181.90" y2="311.80" stroke="#111" stroke-width="1.5"/>
<line x1="178.30" y1="311.20" x2="181.90" y2="311.20" stroke="#111" stroke-width="1.1"/>
<text x="175.30" y="313.25" font-size="5.7" text-anchor="end" fill="#111" stroke="#111" stroke-width="0.15">0</text>
<line x1="178.30" y1="295.20" x2="181.90" y2="295.20" stroke="#111" stroke-width="1.1"/>
<text x="175.30" y="297.25" font-size="5.7" text-anchor="end" fill="#111" stroke="#111" stroke-width="0.15">0.5x10<tspan font-size="3.2" dy="-1.8">7</tspan></text>
<line x1="178.30" y1="279.20" x2="181.90" y2="279.20" stroke="#111" stroke-width="1.1"/>
<text x="175.30" y="281.25" font-size="5.7" text-anchor="end" fill="#111" stroke="#111" stroke-width="0.15">1.0x10<tspan font-size="3.2" dy="-1.8">7</tspan></text>
<line x1="178.30" y1="263.20" x2="181.90" y2="263.20" stroke="#111" stroke-width="1.1"/>
<text x="175.30" y="265.25" font-size="5.7" text-anchor="end" fill="#111" stroke="#111" stroke-width="0.15">1.5x10<tspan font-size="3.2" dy="-1.8">7</tspan></text>
<line x1="181.30" y1="311.20" x2="255.00" y2="311.20" stroke="#111" stroke-width="1.5"/>
<line x1="189.25" y1="311.20" x2="189.25" y2="314.40" stroke="#111" stroke-width="1.1"/>
<text x="189.25" y="322.69" font-size="5.8" text-anchor="middle" fill="#111" stroke="#111" stroke-width="0.3">1</text>
<line x1="203.69" y1="311.20" x2="203.69" y2="314.40" stroke="#111" stroke-width="1.1"/>
<text x="203.69" y="322.69" font-size="5.8" text-anchor="middle" fill="#111" stroke="#111" stroke-width="0.3">2</text>
<line x1="218.13" y1="311.20" x2="218.13" y2="314.40" stroke="#111" stroke-width="1.1"/>
<text x="218.13" y="322.69" font-size="5.8" text-anchor="middle" fill="#111" stroke="#111" stroke-width="0.3">3</text>
<line x1="232.57" y1="311.20" x2="232.57" y2="314.40" stroke="#111" stroke-width="1.1"/>
<text x="232.57" y="322.69" font-size="5.8" text-anchor="middle" fill="#111" stroke="#111" stroke-width="0.3">4</text>
<line x1="247.01" y1="311.20" x2="247.01" y2="314.40" stroke="#111" stroke-width="1.1"/>
<text x="247.01" y="322.69" font-size="5.8" text-anchor="middle" fill="#111" stroke="#111" stroke-width="0.3">5</text>
<text x="219.50" y="334.09" font-size="7.2" text-anchor="middle" fill="#111" stroke="#111" stroke-width="0.15">Days</text>
<text x="152.51" y="285.30" font-size="7.6" text-anchor="middle" fill="#111" stroke="#111" stroke-width="0.15" transform="rotate(-90 152.51 285.30)">Cell numbers</text>
<path d="M189.25,309.28 L203.69,307.36 L218.13,304.48 L232.57,299.36 L247.01,290.08" fill="none" stroke="#2f4f86" stroke-width="1.3"/>
<circle cx="189.25" cy="309.28" r="1.1" fill="#2f4f86"/>
<circle cx="203.69" cy="307.36" r="1.1" fill="#2f4f86"/>
<circle cx="218.13" cy="304.48" r="1.1" fill="#2f4f86"/>
<circle cx="232.57" cy="299.36" r="1.1" fill="#2f4f86"/>
<circle cx="247.01" cy="290.08" r="1.1" fill="#2f4f86"/>
<line x1="247.01" y1="287.52" x2="247.01" y2="292.64" stroke="#2f4f86" stroke-width="0.9"/>
<line x1="245.71" y1="287.52" x2="248.31" y2="287.52" stroke="#2f4f86" stroke-width="0.9"/>
<line x1="245.71" y1="292.64" x2="248.31" y2="292.64" stroke="#2f4f86" stroke-width="0.9"/>
<path d="M189.25,309.20 L203.69,307.04 L218.13,302.56 L232.57,292.32 L247.01,271.84" fill="none" stroke="#a0183a" stroke-width="1.3"/>
<circle cx="189.25" cy="309.20" r="1.1" fill="#a0183a"/>
<circle cx="203.69" cy="307.04" r="1.1" fill="#a0183a"/>
<circle cx="218.13" cy="302.56" r="1.1" fill="#a0183a"/>
<circle cx="232.57" cy="292.32" r="1.1" fill="#a0183a"/>
<circle cx="247.01" cy="271.84" r="1.1" fill="#a0183a"/>
<circle cx="187.50" cy="262.60" r="1.1" fill="#8a1a30"/>
<circle cx="187.50" cy="269.60" r="1.1" fill="#1f3f66"/>
<text x="190.10" y="264.28" font-size="5.5" text-anchor="start" fill="#111" stroke="#111" stroke-width="0.2">Raji control</text>
<text x="190.10" y="271.38" font-size="5.5" text-anchor="start" fill="#111" stroke="#111" stroke-width="0.2">Raji miR-28</text>
<line x1="303.20" y1="260.30" x2="303.20" y2="311.80" stroke="#111" stroke-width="1.5"/>
<line x1="299.60" y1="311.20" x2="303.20" y2="311.20" stroke="#111" stroke-width="1.1"/>
<text x="296.60" y="313.25" font-size="5.7" text-anchor="end" fill="#111" stroke="#111" stroke-width="0.15">0</text>
<line x1="299.60" y1="299.20" x2="303.20" y2="299.20" stroke="#111" stroke-width="1.1"/>
<text x="296.60" y="301.25" font-size="5.7" text-anchor="end" fill="#111" stroke="#111" stroke-width="0.15">2x10<tspan font-size="3.2" dy="-1.8">7</tspan></text>
<line x1="299.60" y1="287.20" x2="303.20" y2="287.20" stroke="#111" stroke-width="1.1"/>
<text x="296.60" y="289.25" font-size="5.7" text-anchor="end" fill="#111" stroke="#111" stroke-width="0.15">4x10<tspan font-size="3.2" dy="-1.8">7</tspan></text>
<line x1="299.60" y1="275.20" x2="303.20" y2="275.20" stroke="#111" stroke-width="1.1"/>
<text x="296.60" y="277.25" font-size="5.7" text-anchor="end" fill="#111" stroke="#111" stroke-width="0.15">6x10<tspan font-size="3.2" dy="-1.8">7</tspan></text>
<line x1="299.60" y1="263.20" x2="303.20" y2="263.20" stroke="#111" stroke-width="1.1"/>
<text x="296.60" y="265.25" font-size="5.7" text-anchor="end" fill="#111" stroke="#111" stroke-width="0.15">8x10<tspan font-size="3.2" dy="-1.8">7</tspan></text>
<line x1="302.60" y1="311.20" x2="375.00" y2="311.20" stroke="#111" stroke-width="1.5"/>
<line x1="309.50" y1="311.20" x2="309.50" y2="314.40" stroke="#111" stroke-width="1.1"/>
<text x="309.50" y="322.69" font-size="5.8" text-anchor="middle" fill="#111" stroke="#111" stroke-width="0.3">1</text>
<line x1="321.50" y1="311.20" x2="321.50" y2="314.40" stroke="#111" stroke-width="1.1"/>
<text x="321.50" y="322.69" font-size="5.8" text-anchor="middle" fill="#111" stroke="#111" stroke-width="0.3">2</text>
<line x1="333.50" y1="311.20" x2="333.50" y2="314.40" stroke="#111" stroke-width="1.1"/>
<text x="333.50" y="322.69" font-size="5.8" text-anchor="middle" fill="#111" stroke="#111" stroke-width="0.3">3</text>
<line x1="345.50" y1="311.20" x2="345.50" y2="314.40" stroke="#111" stroke-width="1.1"/>
<text x="345.50" y="322.69" font-size="5.8" text-anchor="middle" fill="#111" stroke="#111" stroke-width="0.3">4</text>
<line x1="357.50" y1="311.20" x2="357.50" y2="314.40" stroke="#111" stroke-width="1.1"/>
<text x="357.50" y="322.69" font-size="5.8" text-anchor="middle" fill="#111" stroke="#111" stroke-width="0.3">5</text>
<line x1="369.50" y1="311.20" x2="369.50" y2="314.40" stroke="#111" stroke-width="1.1"/>
<text x="369.50" y="322.69" font-size="5.8" text-anchor="middle" fill="#111" stroke="#111" stroke-width="0.3">6</text>
<text x="339.50" y="334.09" font-size="7.2" text-anchor="middle" fill="#111" stroke="#111" stroke-width="0.15">Days</text>
<text x="278.76" y="285.30" font-size="7.6" text-anchor="middle" fill="#111" stroke="#111" stroke-width="0.15" transform="rotate(-90 278.76 285.30)">Cell numbers</text>
<path d="M309.50,311.20 L321.50,310.60 L333.50,310.30 L345.50,309.22 L357.50,306.22 L369.50,301.18" fill="none" stroke="#2f4f86" stroke-width="1.3"/>
<circle cx="309.50" cy="311.20" r="1.1" fill="#2f4f86"/>
<circle cx="321.50" cy="310.60" r="1.1" fill="#2f4f86"/>
<circle cx="333.50" cy="310.30" r="1.1" fill="#2f4f86"/>
<circle cx="345.50" cy="309.22" r="1.1" fill="#2f4f86"/>
<circle cx="357.50" cy="306.22" r="1.1" fill="#2f4f86"/>
<line x1="357.50" y1="304.72" x2="357.50" y2="307.72" stroke="#2f4f86" stroke-width="0.9"/>
<line x1="356.20" y1="304.72" x2="358.80" y2="304.72" stroke="#2f4f86" stroke-width="0.9"/>
<line x1="356.20" y1="307.72" x2="358.80" y2="307.72" stroke="#2f4f86" stroke-width="0.9"/>
<circle cx="369.50" cy="301.18" r="1.1" fill="#2f4f86"/>
<line x1="369.50" y1="299.08" x2="369.50" y2="303.28" stroke="#2f4f86" stroke-width="0.9"/>
<line x1="368.20" y1="299.08" x2="370.80" y2="299.08" stroke="#2f4f86" stroke-width="0.9"/>
<line x1="368.20" y1="303.28" x2="370.80" y2="303.28" stroke="#2f4f86" stroke-width="0.9"/>
<path d="M309.50,311.20 L321.50,310.48 L333.50,308.98 L345.50,306.22 L357.50,298.00 L369.50,280.60" fill="none" stroke="#a0183a" stroke-width="1.3"/>
<circle cx="309.50" cy="311.20" r="1.1" fill="#a0183a"/>
<circle cx="321.50" cy="310.48" r="1.1" fill="#a0183a"/>
<circle cx="333.50" cy="308.98" r="1.1" fill="#a0183a"/>
<circle cx="345.50" cy="306.22" r="1.1" fill="#a0183a"/>
<circle cx="357.50" cy="298.00" r="1.1" fill="#a0183a"/>
<line x1="357.50" y1="296.50" x2="357.50" y2="299.50" stroke="#a0183a" stroke-width="0.9"/>
<line x1="356.20" y1="296.50" x2="358.80" y2="296.50" stroke="#a0183a" stroke-width="0.9"/>
<line x1="356.20" y1="299.50" x2="358.80" y2="299.50" stroke="#a0183a" stroke-width="0.9"/>
<circle cx="369.50" cy="280.60" r="1.1" fill="#a0183a"/>
<line x1="369.50" y1="274.30" x2="369.50" y2="286.90" stroke="#a0183a" stroke-width="0.9"/>
<line x1="368.20" y1="274.30" x2="370.80" y2="274.30" stroke="#a0183a" stroke-width="0.9"/>
<line x1="368.20" y1="286.90" x2="370.80" y2="286.90" stroke="#a0183a" stroke-width="0.9"/>
<circle cx="307.90" cy="262.60" r="1.1" fill="#8a1a30"/>
<circle cx="307.90" cy="269.60" r="1.1" fill="#1f3f66"/>
<text x="311.40" y="264.28" font-size="5.5" text-anchor="start" fill="#111" stroke="#111" stroke-width="0.2">Ramos control</text>
<text x="311.40" y="271.38" font-size="5.5" text-anchor="start" fill="#111" stroke="#111" stroke-width="0.2">Ramos miR-28</text>
<text transform="translate(7.60 362.70) scale(0.93 1)" font-size="14.6" font-weight="bold" fill="#000">F</text>
<path d="M68.50,436.40 C68.60,436.27 68.60,436.22 69.10,435.60 C69.60,434.98 70.62,434.47 71.50,432.70 C72.38,430.93 73.60,427.88 74.40,425.00 C75.20,422.12 75.73,417.48 76.30,415.40 C76.87,413.32 77.32,412.82 77.80,412.50 C78.28,412.18 78.72,413.67 79.20,413.50 C79.68,413.33 80.22,411.50 80.70,411.50 C81.18,411.50 81.62,413.50 82.10,413.50 C82.58,413.50 83.15,412.63 83.60,411.50 C84.05,410.37 84.43,407.82 84.80,406.70 C85.17,405.58 85.37,405.28 85.80,404.80 C86.23,404.32 86.90,403.80 87.40,403.80 C87.90,403.80 88.37,404.32 88.80,404.80 C89.23,405.28 89.63,405.73 90.00,406.70 C90.37,407.67 90.63,409.32 91.00,410.60 C91.37,411.88 91.83,413.45 92.20,414.40 C92.57,415.35 92.80,415.82 93.20,416.30 C93.60,416.78 94.13,417.30 94.60,417.30 C95.07,417.30 95.52,416.93 96.00,416.30 C96.48,415.67 97.08,413.82 97.50,413.50 C97.92,413.18 98.10,413.28 98.50,414.40 C98.90,415.52 99.43,417.80 99.90,420.20 C100.37,422.60 100.90,426.40 101.30,428.80 C101.70,431.20 101.97,433.33 102.30,434.60 C102.63,435.87 103.13,436.10 103.30,436.40 Z" fill="#8d98c8"/>
<path d="M68.50,436.40 C68.60,436.27 68.60,436.22 69.10,435.60 C69.60,434.98 70.62,434.47 71.50,432.70 C72.38,430.93 73.60,427.88 74.40,425.00 C75.20,422.12 75.73,417.48 76.30,415.40 C76.87,413.32 77.32,412.82 77.80,412.50 C78.28,412.18 78.72,413.67 79.20,413.50 C79.68,413.33 80.22,411.50 80.70,411.50 C81.18,411.50 81.62,413.50 82.10,413.50 C82.58,413.50 83.15,412.63 83.60,411.50 C84.05,410.37 84.43,407.82 84.80,406.70 C85.17,405.58 85.37,405.28 85.80,404.80 C86.23,404.32 86.90,403.80 87.40,403.80 C87.90,403.80 88.37,404.32 88.80,404.80 C89.23,405.28 89.63,405.73 90.00,406.70 C90.37,407.67 90.63,409.32 91.00,410.60 C91.37,411.88 91.83,413.45 92.20,414.40 C92.57,415.35 92.80,415.82 93.20,416.30 C93.60,416.78 94.13,417.30 94.60,417.30 C95.07,417.30 95.52,416.93 96.00,416.30 C96.48,415.67 97.08,413.82 97.50,413.50 C97.92,413.18 98.10,413.28 98.50,414.40 C98.90,415.52 99.43,417.80 99.90,420.20 C100.37,422.60 100.90,426.40 101.30,428.80 C101.70,431.20 101.97,433.33 102.30,434.60 C102.63,435.87 103.13,436.10 103.30,436.40" fill="none" stroke="#3b4c8a" stroke-width="0.9"/>
<path d="M64.50,436.40 C64.72,436.27 64.95,436.87 65.80,435.60 C66.65,434.33 68.57,431.85 69.60,428.80 C70.63,425.75 71.35,420.50 72.00,417.30 C72.65,414.10 73.02,411.20 73.50,409.60 C73.98,408.00 74.50,408.82 74.90,407.70 C75.30,406.58 75.58,404.67 75.90,402.90 C76.22,401.13 76.48,398.55 76.80,397.10 C77.12,395.65 77.40,394.20 77.80,394.20 C78.20,394.20 78.80,395.50 79.20,397.10 C79.60,398.70 79.80,403.32 80.20,403.80 C80.60,404.28 81.20,400.55 81.60,400.00 C82.00,399.45 82.27,399.38 82.60,400.50 C82.93,401.62 83.28,404.87 83.60,406.70 C83.92,408.53 84.10,410.05 84.50,411.50 C84.90,412.95 85.52,413.95 86.00,415.40 C86.48,416.85 86.93,418.43 87.40,420.20 C87.87,421.97 88.32,424.23 88.80,426.00 C89.28,427.77 89.73,429.68 90.30,430.80 C90.87,431.92 91.48,432.22 92.20,432.70 C92.92,433.18 93.72,433.38 94.60,433.70 C95.48,434.02 96.53,434.28 97.50,434.60 C98.47,434.92 99.52,435.33 100.40,435.60 C101.28,435.87 102.40,436.10 102.80,436.20" fill="none" stroke="#a8203f" stroke-width="1.1"/>
<line x1="71.50" y1="387.80" x2="71.50" y2="436.60" stroke="#111" stroke-width="1.0" stroke-dasharray="1.5 2.4"/>
<line x1="75.60" y1="387.80" x2="75.60" y2="436.60" stroke="#111" stroke-width="1.0" stroke-dasharray="1.5 2.4"/>
<line x1="79.40" y1="387.80" x2="79.40" y2="436.60" stroke="#111" stroke-width="1.0" stroke-dasharray="1.5 2.4"/>
<line x1="83.30" y1="387.80" x2="83.30" y2="436.60" stroke="#111" stroke-width="1.0" stroke-dasharray="1.5 2.4"/>
<line x1="87.60" y1="387.80" x2="87.60" y2="436.60" stroke="#111" stroke-width="1.0" stroke-dasharray="1.5 2.4"/>
<line x1="91.70" y1="387.80" x2="91.70" y2="436.60" stroke="#111" stroke-width="1.0" stroke-dasharray="1.5 2.4"/>
<line x1="96.00" y1="387.80" x2="96.00" y2="436.60" stroke="#111" stroke-width="1.0" stroke-dasharray="1.5 2.4"/>
<rect x="43.20" y="386.30" width="60.80" height="50.30" fill="none" stroke="#000" stroke-width="1.5"/>
<line x1="41.70" y1="436.60" x2="43.20" y2="436.60" stroke="#111" stroke-width="0.6"/>
<line x1="41.70" y1="434.10" x2="43.20" y2="434.10" stroke="#111" stroke-width="0.6"/>
<line x1="41.70" y1="431.60" x2="43.20" y2="431.60" stroke="#111" stroke-width="0.6"/>
<line x1="41.70" y1="429.10" x2="43.20" y2="429.10" stroke="#111" stroke-width="0.6"/>
<line x1="41.70" y1="426.60" x2="43.20" y2="426.60" stroke="#111" stroke-width="0.6"/>
<line x1="41.70" y1="424.10" x2="43.20" y2="424.10" stroke="#111" stroke-width="0.6"/>
<line x1="41.70" y1="421.60" x2="43.20" y2="421.60" stroke="#111" stroke-width="0.6"/>
<line x1="41.70" y1="419.10" x2="43.20" y2="419.10" stroke="#111" stroke-width="0.6"/>
<line x1="41.70" y1="416.60" x2="43.20" y2="416.60" stroke="#111" stroke-width="0.6"/>
<line x1="41.70" y1="414.10" x2="43.20" y2="414.10" stroke="#111" stroke-width="0.6"/>
<line x1="41.70" y1="411.60" x2="43.20" y2="411.60" stroke="#111" stroke-width="0.6"/>
<line x1="41.70" y1="409.10" x2="43.20" y2="409.10" stroke="#111" stroke-width="0.6"/>
<line x1="41.70" y1="406.60" x2="43.20" y2="406.60" stroke="#111" stroke-width="0.6"/>
<line x1="41.70" y1="404.10" x2="43.20" y2="404.10" stroke="#111" stroke-width="0.6"/>
<line x1="41.70" y1="401.60" x2="43.20" y2="401.60" stroke="#111" stroke-width="0.6"/>
<line x1="41.70" y1="399.10" x2="43.20" y2="399.10" stroke="#111" stroke-width="0.6"/>
<line x1="41.70" y1="396.60" x2="43.20" y2="396.60" stroke="#111" stroke-width="0.6"/>
<line x1="41.70" y1="394.10" x2="43.20" y2="394.10" stroke="#111" stroke-width="0.6"/>
<line x1="41.70" y1="391.60" x2="43.20" y2="391.60" stroke="#111" stroke-width="0.6"/>
<line x1="41.70" y1="389.10" x2="43.20" y2="389.10" stroke="#111" stroke-width="0.6"/>
<line x1="41.70" y1="386.60" x2="43.20" y2="386.60" stroke="#111" stroke-width="0.6"/>
<line x1="40.60" y1="397.50" x2="43.20" y2="397.50" stroke="#111" stroke-width="0.8"/>
<line x1="40.60" y1="410.40" x2="43.20" y2="410.40" stroke="#111" stroke-width="0.8"/>
<line x1="40.60" y1="423.80" x2="43.20" y2="423.80" stroke="#111" stroke-width="0.8"/>
<line x1="47.00" y1="436.60" x2="47.00" y2="439.20" stroke="#111" stroke-width="0.9"/>
<line x1="55.40" y1="436.60" x2="55.40" y2="439.20" stroke="#111" stroke-width="0.9"/>
<line x1="56.10" y1="436.60" x2="56.10" y2="439.20" stroke="#111" stroke-width="0.9"/>
<line x1="56.80" y1="436.60" x2="56.80" y2="439.20" stroke="#111" stroke-width="0.9"/>
<line x1="66.30" y1="436.60" x2="66.30" y2="439.20" stroke="#111" stroke-width="0.9"/>
<line x1="83.50" y1="436.60" x2="83.50" y2="439.20" stroke="#111" stroke-width="0.9"/>
<line x1="98.50" y1="436.60" x2="98.50" y2="439.20" stroke="#111" stroke-width="0.9"/>
<text x="33.00" y="383.20" font-size="5.0" text-anchor="start" font-weight="bold" fill="#111" stroke="#111" stroke-width="0.15">cell divisions:</text>
<text x="69.60" y="383.20" font-size="5.0" text-anchor="middle" font-weight="bold" fill="#111" stroke="#111" stroke-width="0.15">7</text>
<text x="73.50" y="383.20" font-size="5.0" text-anchor="middle" font-weight="bold" fill="#111" stroke="#111" stroke-width="0.15">6</text>
<text x="77.30" y="383.20" font-size="5.0" text-anchor="middle" font-weight="bold" fill="#111" stroke="#111" stroke-width="0.15">5</text>
<text x="81.30" y="383.20" font-size="5.0" text-anchor="middle" font-weight="bold" fill="#111" stroke="#111" stroke-width="0.15">4</text>
<text x="85.20" y="383.20" font-size="5.0" text-anchor="middle" font-weight="bold" fill="#111" stroke="#111" stroke-width="0.15">3</text>
<text x="89.30" y="383.20" font-size="5.0" text-anchor="middle" font-weight="bold" fill="#111" stroke="#111" stroke-width="0.15">2</text>
<text x="93.70" y="383.20" font-size="5.0" text-anchor="middle" font-weight="bold" fill="#111" stroke="#111" stroke-width="0.15">1</text>
<text x="98.50" y="383.20" font-size="5.0" text-anchor="middle" font-weight="bold" fill="#111" stroke="#111" stroke-width="0.15">0</text>
<text x="34.88" y="411.70" font-size="7.2" text-anchor="middle" fill="#111" stroke="#111" stroke-width="0.15" transform="rotate(-90 34.88 411.70)">Cell count</text>
<text x="73.60" y="449.59" font-size="7.2" text-anchor="middle" fill="#111" stroke="#111" stroke-width="0.15">Cell tracer</text>
<rect x="43.80" y="521.34" width="3.80" height="0.76" fill="#b3002d"/>
<rect x="47.60" y="513.28" width="3.80" height="8.82" fill="#2f5590"/>
<line x1="49.50" y1="513.28" x2="49.50" y2="510.63" stroke="#111" stroke-width="0.9"/>
<line x1="48.10" y1="510.63" x2="50.90" y2="510.63" stroke="#111" stroke-width="0.9"/>
<line x1="47.60" y1="522.10" x2="47.60" y2="525.70" stroke="#111" stroke-width="1.1"/>
<text x="47.90" y="533.59" font-size="5.8" text-anchor="middle" fill="#111" stroke="#111" stroke-width="0.15">0</text>
<rect x="53.20" y="520.46" width="3.80" height="1.64" fill="#b3002d"/>
<rect x="57.00" y="513.28" width="3.80" height="8.82" fill="#2f5590"/>
<line x1="58.90" y1="513.28" x2="58.90" y2="510.63" stroke="#111" stroke-width="0.9"/>
<line x1="57.50" y1="510.63" x2="60.30" y2="510.63" stroke="#111" stroke-width="0.9"/>
<line x1="57.00" y1="522.10" x2="57.00" y2="525.70" stroke="#111" stroke-width="1.1"/>
<text x="57.30" y="533.59" font-size="5.8" text-anchor="middle" fill="#111" stroke="#111" stroke-width="0.15">1</text>
<rect x="62.60" y="515.80" width="3.80" height="6.30" fill="#b3002d"/>
<rect x="66.40" y="504.46" width="3.80" height="17.64" fill="#2f5590"/>
<line x1="68.30" y1="504.46" x2="68.30" y2="501.44" stroke="#111" stroke-width="0.9"/>
<line x1="66.90" y1="501.44" x2="69.70" y2="501.44" stroke="#111" stroke-width="0.9"/>
<line x1="66.40" y1="522.10" x2="66.40" y2="525.70" stroke="#111" stroke-width="1.1"/>
<text x="66.70" y="533.59" font-size="5.8" text-anchor="middle" fill="#111" stroke="#111" stroke-width="0.15">2</text>
<rect x="72.00" y="502.57" width="3.80" height="19.53" fill="#b3002d"/>
<rect x="75.80" y="491.86" width="3.80" height="30.24" fill="#2f5590"/>
<line x1="77.70" y1="491.86" x2="77.70" y2="479.64" stroke="#111" stroke-width="0.9"/>
<line x1="76.30" y1="479.64" x2="79.10" y2="479.64" stroke="#111" stroke-width="0.9"/>
<line x1="75.80" y1="522.10" x2="75.80" y2="525.70" stroke="#111" stroke-width="1.1"/>
<text x="76.10" y="533.59" font-size="5.8" text-anchor="middle" fill="#111" stroke="#111" stroke-width="0.15">3</text>
<rect x="81.40" y="487.45" width="3.80" height="34.65" fill="#b3002d"/>
<rect x="85.20" y="496.90" width="3.80" height="25.20" fill="#2f5590"/>
<line x1="83.30" y1="487.45" x2="83.30" y2="483.42" stroke="#111" stroke-width="0.9"/>
<line x1="81.90" y1="483.42" x2="84.70" y2="483.42" stroke="#111" stroke-width="0.9"/>
<line x1="85.20" y1="522.10" x2="85.20" y2="525.70" stroke="#111" stroke-width="1.1"/>
<text x="85.50" y="533.59" font-size="5.8" text-anchor="middle" fill="#111" stroke="#111" stroke-width="0.15">4</text>
<rect x="90.80" y="481.40" width="3.80" height="40.70" fill="#b3002d"/>
<rect x="94.60" y="500.68" width="3.80" height="21.42" fill="#2f5590"/>
<line x1="96.50" y1="500.68" x2="96.50" y2="496.77" stroke="#111" stroke-width="0.9"/>
<line x1="95.10" y1="496.77" x2="97.90" y2="496.77" stroke="#111" stroke-width="0.9"/>
<line x1="94.60" y1="522.10" x2="94.60" y2="525.70" stroke="#111" stroke-width="1.1"/>
<text x="94.90" y="533.59" font-size="5.8" text-anchor="middle" fill="#111" stroke="#111" stroke-width="0.15">5</text>
<rect x="100.20" y="501.94" width="3.80" height="20.16" fill="#b3002d"/>
<rect x="104.00" y="514.79" width="3.80" height="7.31" fill="#2f5590"/>
<line x1="102.10" y1="501.94" x2="102.10" y2="498.54" stroke="#111" stroke-width="0.9"/>
<line x1="100.70" y1="498.54" x2="103.50" y2="498.54" stroke="#111" stroke-width="0.9"/>
<line x1="104.00" y1="522.10" x2="104.00" y2="525.70" stroke="#111" stroke-width="1.1"/>
<text x="104.30" y="533.59" font-size="5.8" text-anchor="middle" fill="#111" stroke="#111" stroke-width="0.15">6</text>
<rect x="109.60" y="518.07" width="3.80" height="4.03" fill="#b3002d"/>
<rect x="113.40" y="520.08" width="3.80" height="2.02" fill="#2f5590"/>
<line x1="113.40" y1="522.10" x2="113.40" y2="525.70" stroke="#111" stroke-width="1.1"/>
<text x="113.70" y="533.59" font-size="5.8" text-anchor="middle" fill="#111" stroke="#111" stroke-width="0.15">7</text>
<line x1="42.90" y1="468.20" x2="42.90" y2="522.60" stroke="#111" stroke-width="1.5"/>
<line x1="39.30" y1="522.10" x2="42.90" y2="522.10" stroke="#111" stroke-width="1.1"/>
<text x="36.30" y="524.19" font-size="5.8" text-anchor="end" fill="#111" stroke="#111" stroke-width="0.15">0</text>
<line x1="39.30" y1="509.50" x2="42.90" y2="509.50" stroke="#111" stroke-width="1.1"/>
<text x="36.30" y="511.59" font-size="5.8" text-anchor="end" fill="#111" stroke="#111" stroke-width="0.15">10</text>
<line x1="39.30" y1="496.90" x2="42.90" y2="496.90" stroke="#111" stroke-width="1.1"/>
<text x="36.30" y="498.99" font-size="5.8" text-anchor="end" fill="#111" stroke="#111" stroke-width="0.15">20</text>
<line x1="39.30" y1="484.30" x2="42.90" y2="484.30" stroke="#111" stroke-width="1.1"/>
<text x="36.30" y="486.39" font-size="5.8" text-anchor="end" fill="#111" stroke="#111" stroke-width="0.15">30</text>
<line x1="39.30" y1="471.70" x2="42.90" y2="471.70" stroke="#111" stroke-width="1.1"/>
<text x="36.30" y="473.79" font-size="5.8" text-anchor="end" fill="#111" stroke="#111" stroke-width="0.15">40</text>
<line x1="42.40" y1="522.10" x2="117.70" y2="522.10" stroke="#111" stroke-width="1.5"/>
<text x="66.60" y="497.08" font-size="5.5" text-anchor="middle" font-weight="bold" fill="#111" stroke="#111" stroke-width="0.15">*</text>
<line x1="65.00" y1="498.10" x2="68.20" y2="498.10" stroke="#111" stroke-width="0.9"/>
<text x="94.00" y="476.18" font-size="5.5" text-anchor="middle" font-weight="bold" fill="#111" stroke="#111" stroke-width="0.15">*</text>
<line x1="92.40" y1="478.10" x2="95.60" y2="478.10" stroke="#111" stroke-width="0.9"/>
<text x="103.80" y="495.88" font-size="5.5" text-anchor="middle" font-weight="bold" fill="#111" stroke="#111" stroke-width="0.15">*</text>
<line x1="102.20" y1="497.30" x2="105.40" y2="497.30" stroke="#111" stroke-width="0.9"/>
<circle cx="46.80" cy="472.90" r="1.3" fill="#7a1428"/>
<circle cx="46.80" cy="478.90" r="1.3" fill="#1f3a60"/>
<text x="50.60" y="475.02" font-size="5.9" text-anchor="start" fill="#111" stroke="#111" stroke-width="0.3">control</text>
<text x="50.60" y="481.02" font-size="5.9" text-anchor="start" fill="#111" stroke="#111" stroke-width="0.3">miR-28</text>
<text x="25.08" y="495.80" font-size="7.2" text-anchor="middle" fill="#111" stroke="#111" stroke-width="0.15" transform="rotate(-90 25.08 495.80)">Cells (%)</text>
<text x="80.00" y="544.58" font-size="7.45" text-anchor="middle" fill="#111" stroke="#111" stroke-width="0.15">Number of cell divisions</text>
<text transform="translate(146.90 362.50) scale(0.93 1)" font-size="14.6" font-weight="bold" fill="#000">G</text>
<rect x="172.50" y="396.50" width="43.00" height="38.50" fill="none" stroke="#999" stroke-width="0.8"/>
<line x1="171.30" y1="400.50" x2="172.50" y2="400.50" stroke="#777" stroke-width="0.6"/>
<line x1="171.30" y1="410.30" x2="172.50" y2="410.30" stroke="#777" stroke-width="0.6"/>
<line x1="171.30" y1="420.10" x2="172.50" y2="420.10" stroke="#777" stroke-width="0.6"/>
<line x1="171.30" y1="429.90" x2="172.50" y2="429.90" stroke="#777" stroke-width="0.6"/>
<line x1="176.50" y1="435.00" x2="176.50" y2="436.20" stroke="#777" stroke-width="0.6"/>
<line x1="181.70" y1="435.00" x2="181.70" y2="436.20" stroke="#777" stroke-width="0.6"/>
<line x1="186.90" y1="435.00" x2="186.90" y2="436.20" stroke="#777" stroke-width="0.6"/>
<line x1="192.10" y1="435.00" x2="192.10" y2="436.20" stroke="#777" stroke-width="0.6"/>
<line x1="197.30" y1="435.00" x2="197.30" y2="436.20" stroke="#777" stroke-width="0.6"/>
<line x1="202.50" y1="435.00" x2="202.50" y2="436.20" stroke="#777" stroke-width="0.6"/>
<line x1="207.70" y1="435.00" x2="207.70" y2="436.20" stroke="#777" stroke-width="0.6"/>
<line x1="212.90" y1="435.00" x2="212.90" y2="436.20" stroke="#777" stroke-width="0.6"/>
<text x="193.80" y="395.01" font-size="7.8" text-anchor="middle" fill="#111" stroke="#111" stroke-width="0.15">control</text>
<path d="M180.50,404.00 L208.00,404.00 L207.50,416.00 L182.80,422.00 Z" fill="none" stroke="#333" stroke-width="0.8"/>
<text x="183.10" y="409.06" font-size="4.6" text-anchor="start" font-weight="bold" fill="#111" stroke="#111" stroke-width="0.15">82%</text>
<path d="M184.60,418.20 C184.77,417.77 185.07,416.32 185.60,415.60 C186.13,414.88 186.90,414.30 187.80,413.90 C188.70,413.50 189.80,413.33 191.00,413.20 C192.20,413.07 193.67,413.07 195.00,413.10 C196.33,413.13 197.75,413.22 199.00,413.40 C200.25,413.58 201.92,414.07 202.50,414.20" fill="none" stroke="#555" stroke-width="4.2" stroke-linecap="round" stroke-opacity="0.4275" filter="url(#b2)"/>
<path d="M184.60,418.20 C184.77,417.77 185.07,416.32 185.60,415.60 C186.13,414.88 186.90,414.30 187.80,413.90 C188.70,413.50 189.80,413.33 191.00,413.20 C192.20,413.07 193.67,413.07 195.00,413.10 C196.33,413.13 197.75,413.22 199.00,413.40 C200.25,413.58 201.92,414.07 202.50,414.20" fill="none" stroke="#111" stroke-width="2.0" stroke-linecap="round" stroke-opacity="0.855" filter="url(#b1)"/>
<g fill="#000" fill-opacity="0.35"><circle cx="190.6" cy="413.4" r="0.4"/><circle cx="193.7" cy="412.0" r="0.4"/><circle cx="185.4" cy="415.7" r="0.4"/><circle cx="186.2" cy="417.2" r="0.4"/><circle cx="186.7" cy="414.3" r="0.4"/><circle cx="196.9" cy="413.2" r="0.4"/><circle cx="186.5" cy="415.5" r="0.4"/><circle cx="189.4" cy="413.1" r="0.4"/><circle cx="196.8" cy="414.2" r="0.4"/><circle cx="184.4" cy="415.9" r="0.4"/><circle cx="196.2" cy="414.4" r="0.4"/><circle cx="192.5" cy="413.8" r="0.4"/><circle cx="185.5" cy="416.6" r="0.4"/><circle cx="189.5" cy="416.1" r="0.4"/><circle cx="185.5" cy="417.7" r="0.4"/><circle cx="193.0" cy="413.1" r="0.4"/><circle cx="197.8" cy="412.7" r="0.4"/><circle cx="198.6" cy="413.7" r="0.4"/><circle cx="186.4" cy="415.6" r="0.4"/><circle cx="199.1" cy="412.6" r="0.4"/><circle cx="199.3" cy="412.7" r="0.4"/><circle cx="193.3" cy="415.1" r="0.4"/><circle cx="188.6" cy="414.0" r="0.4"/><circle cx="188.2" cy="414.8" r="0.4"/><circle cx="190.2" cy="413.6" r="0.4"/><circle cx="187.9" cy="413.6" r="0.4"/><circle cx="194.6" cy="412.2" r="0.4"/><circle cx="186.2" cy="416.0" r="0.4"/><circle cx="185.9" cy="415.0" r="0.4"/><circle cx="187.1" cy="414.4" r="0.4"/><circle cx="197.5" cy="414.6" r="0.4"/><circle cx="197.6" cy="412.2" r="0.4"/><circle cx="201.1" cy="414.7" r="0.4"/><circle cx="184.6" cy="417.3" r="0.4"/><circle cx="187.5" cy="415.7" r="0.4"/><circle cx="184.8" cy="418.6" r="0.4"/><circle cx="190.3" cy="413.8" r="0.4"/><circle cx="191.6" cy="414.1" r="0.4"/><circle cx="190.1" cy="414.3" r="0.4"/><circle cx="192.7" cy="413.7" r="0.4"/><circle cx="200.0" cy="415.5" r="0.4"/><circle cx="187.4" cy="417.1" r="0.4"/><circle cx="188.1" cy="413.7" r="0.4"/><circle cx="195.9" cy="412.8" r="0.4"/><circle cx="190.2" cy="413.0" r="0.4"/><circle cx="186.9" cy="413.8" r="0.4"/><circle cx="187.3" cy="412.9" r="0.4"/><circle cx="188.0" cy="412.7" r="0.4"/><circle cx="184.6" cy="415.3" r="0.4"/><circle cx="184.8" cy="416.3" r="0.4"/><circle cx="196.8" cy="414.2" r="0.4"/><circle cx="190.4" cy="413.8" r="0.4"/><circle cx="186.1" cy="415.8" r="0.4"/><circle cx="197.1" cy="413.5" r="0.4"/><circle cx="198.2" cy="411.6" r="0.4"/><circle cx="201.1" cy="414.1" r="0.4"/><circle cx="200.9" cy="411.1" r="0.4"/><circle cx="192.8" cy="412.7" r="0.4"/><circle cx="186.3" cy="415.7" r="0.4"/><circle cx="195.2" cy="414.6" r="0.4"/><circle cx="193.0" cy="414.2" r="0.4"/><circle cx="186.1" cy="414.0" r="0.4"/><circle cx="186.0" cy="416.4" r="0.4"/><circle cx="187.6" cy="414.9" r="0.4"/><circle cx="189.5" cy="412.7" r="0.4"/><circle cx="198.0" cy="414.8" r="0.4"/><circle cx="189.8" cy="411.7" r="0.4"/><circle cx="197.6" cy="412.6" r="0.4"/><circle cx="193.8" cy="413.0" r="0.4"/><circle cx="187.0" cy="414.0" r="0.4"/><circle cx="186.5" cy="413.5" r="0.4"/><circle cx="189.0" cy="413.2" r="0.4"/><circle cx="186.0" cy="416.1" r="0.4"/><circle cx="184.2" cy="416.1" r="0.4"/><circle cx="184.2" cy="416.3" r="0.4"/><circle cx="195.6" cy="414.3" r="0.4"/><circle cx="193.0" cy="414.4" r="0.4"/><circle cx="191.2" cy="412.8" r="0.4"/><circle cx="192.3" cy="413.9" r="0.4"/><circle cx="184.7" cy="416.8" r="0.4"/><circle cx="190.7" cy="413.0" r="0.4"/><circle cx="200.8" cy="414.5" r="0.4"/><circle cx="188.2" cy="416.4" r="0.4"/><circle cx="195.2" cy="414.4" r="0.4"/><circle cx="185.0" cy="415.8" r="0.4"/><circle cx="188.9" cy="413.9" r="0.4"/><circle cx="186.9" cy="413.5" r="0.4"/><circle cx="184.2" cy="417.1" r="0.4"/><circle cx="185.3" cy="417.6" r="0.4"/><circle cx="184.4" cy="420.1" r="0.4"/><circle cx="186.8" cy="415.9" r="0.4"/><circle cx="201.8" cy="414.6" r="0.4"/><circle cx="197.2" cy="412.9" r="0.4"/><circle cx="186.2" cy="418.1" r="0.4"/><circle cx="189.7" cy="411.9" r="0.4"/><circle cx="185.3" cy="417.4" r="0.4"/><circle cx="184.4" cy="418.1" r="0.4"/><circle cx="191.2" cy="413.9" r="0.4"/><circle cx="185.5" cy="416.3" r="0.4"/><circle cx="189.2" cy="413.3" r="0.4"/><circle cx="193.4" cy="414.0" r="0.4"/><circle cx="185.8" cy="415.7" r="0.4"/><circle cx="197.6" cy="414.3" r="0.4"/><circle cx="191.8" cy="412.2" r="0.4"/><circle cx="195.0" cy="411.4" r="0.4"/><circle cx="190.8" cy="413.3" r="0.4"/><circle cx="203.3" cy="416.3" r="0.4"/><circle cx="186.7" cy="416.1" r="0.4"/><circle cx="190.4" cy="414.1" r="0.4"/><circle cx="194.1" cy="412.4" r="0.4"/><circle cx="187.7" cy="414.6" r="0.4"/><circle cx="189.0" cy="416.1" r="0.4"/><circle cx="198.1" cy="413.6" r="0.4"/><circle cx="187.3" cy="415.0" r="0.4"/><circle cx="191.7" cy="412.5" r="0.4"/><circle cx="184.9" cy="417.5" r="0.4"/><circle cx="195.9" cy="413.2" r="0.4"/><circle cx="187.5" cy="414.9" r="0.4"/><circle cx="186.7" cy="412.5" r="0.4"/><circle cx="193.9" cy="412.0" r="0.4"/><circle cx="189.9" cy="413.2" r="0.4"/><circle cx="201.1" cy="412.9" r="0.4"/><circle cx="194.5" cy="413.0" r="0.4"/><circle cx="183.8" cy="415.0" r="0.4"/><circle cx="202.1" cy="413.8" r="0.4"/><circle cx="184.5" cy="418.2" r="0.4"/><circle cx="192.4" cy="412.1" r="0.4"/><circle cx="199.8" cy="414.7" r="0.4"/><circle cx="184.2" cy="416.2" r="0.4"/><circle cx="200.8" cy="412.7" r="0.4"/><circle cx="185.6" cy="417.7" r="0.4"/><circle cx="188.3" cy="414.2" r="0.4"/><circle cx="191.9" cy="412.8" r="0.4"/><circle cx="185.0" cy="416.3" r="0.4"/><circle cx="185.5" cy="413.8" r="0.4"/><circle cx="197.6" cy="413.3" r="0.4"/><circle cx="191.4" cy="413.6" r="0.4"/><circle cx="191.2" cy="413.1" r="0.4"/><circle cx="195.2" cy="413.1" r="0.4"/><circle cx="191.1" cy="413.1" r="0.4"/><circle cx="188.4" cy="413.1" r="0.4"/><circle cx="190.8" cy="412.5" r="0.4"/><circle cx="185.9" cy="417.6" r="0.4"/><circle cx="188.7" cy="412.7" r="0.4"/><circle cx="185.5" cy="418.5" r="0.4"/><circle cx="193.8" cy="415.2" r="0.4"/><circle cx="200.4" cy="414.3" r="0.4"/><circle cx="189.6" cy="414.3" r="0.4"/><circle cx="190.4" cy="412.9" r="0.4"/><circle cx="187.8" cy="413.9" r="0.4"/><circle cx="186.6" cy="415.1" r="0.4"/><circle cx="184.3" cy="417.6" r="0.4"/><circle cx="186.1" cy="417.9" r="0.4"/><circle cx="202.3" cy="414.9" r="0.4"/><circle cx="196.5" cy="411.5" r="0.4"/><circle cx="195.0" cy="411.8" r="0.4"/><circle cx="197.1" cy="413.0" r="0.4"/><circle cx="200.1" cy="413.4" r="0.4"/><circle cx="190.3" cy="412.9" r="0.4"/><circle cx="186.2" cy="415.5" r="0.4"/><circle cx="201.1" cy="413.2" r="0.4"/><circle cx="185.4" cy="414.7" r="0.4"/><circle cx="188.0" cy="415.0" r="0.4"/><circle cx="192.4" cy="413.4" r="0.4"/><circle cx="192.1" cy="412.9" r="0.4"/><circle cx="186.9" cy="415.4" r="0.4"/><circle cx="190.4" cy="413.5" r="0.4"/><circle cx="192.5" cy="412.5" r="0.4"/><circle cx="189.6" cy="414.0" r="0.4"/><circle cx="186.9" cy="413.8" r="0.4"/><circle cx="186.5" cy="414.8" r="0.4"/><circle cx="202.2" cy="413.2" r="0.4"/><circle cx="183.4" cy="418.6" r="0.4"/><circle cx="194.5" cy="413.1" r="0.4"/><circle cx="199.1" cy="413.2" r="0.4"/><circle cx="186.2" cy="419.8" r="0.4"/><circle cx="185.3" cy="414.3" r="0.4"/><circle cx="191.3" cy="413.1" r="0.4"/><circle cx="187.2" cy="414.5" r="0.4"/><circle cx="190.1" cy="412.4" r="0.4"/><circle cx="194.1" cy="413.4" r="0.4"/><circle cx="199.0" cy="414.1" r="0.4"/><circle cx="192.1" cy="412.3" r="0.4"/><circle cx="189.7" cy="411.6" r="0.4"/><circle cx="192.9" cy="413.1" r="0.4"/><circle cx="193.8" cy="413.3" r="0.4"/><circle cx="194.3" cy="412.8" r="0.4"/><circle cx="187.6" cy="414.1" r="0.4"/><circle cx="185.1" cy="415.5" r="0.4"/><circle cx="192.2" cy="411.6" r="0.4"/><circle cx="194.7" cy="413.1" r="0.4"/><circle cx="186.4" cy="416.9" r="0.4"/><circle cx="187.3" cy="412.9" r="0.4"/><circle cx="186.9" cy="414.6" r="0.4"/><circle cx="195.1" cy="413.6" r="0.4"/><circle cx="195.9" cy="413.3" r="0.4"/><circle cx="192.6" cy="412.3" r="0.4"/><circle cx="186.3" cy="415.2" r="0.4"/><circle cx="186.0" cy="414.3" r="0.4"/><circle cx="189.3" cy="414.1" r="0.4"/><circle cx="189.5" cy="413.8" r="0.4"/><circle cx="185.4" cy="417.1" r="0.4"/><circle cx="186.5" cy="414.1" r="0.4"/><circle cx="191.2" cy="412.6" r="0.4"/><circle cx="199.0" cy="414.3" r="0.4"/><circle cx="189.7" cy="414.2" r="0.4"/><circle cx="191.5" cy="413.3" r="0.4"/><circle cx="184.8" cy="415.4" r="0.4"/><circle cx="187.8" cy="415.8" r="0.4"/><circle cx="184.7" cy="416.7" r="0.4"/><circle cx="188.5" cy="412.4" r="0.4"/><circle cx="203.9" cy="414.9" r="0.4"/><circle cx="187.2" cy="416.3" r="0.4"/><circle cx="195.6" cy="412.2" r="0.4"/><circle cx="188.3" cy="415.7" r="0.4"/><circle cx="199.9" cy="413.1" r="0.4"/><circle cx="186.0" cy="415.9" r="0.4"/><circle cx="195.8" cy="414.7" r="0.4"/><circle cx="185.9" cy="414.0" r="0.4"/><circle cx="198.2" cy="412.9" r="0.4"/><circle cx="185.2" cy="417.7" r="0.4"/><circle cx="195.5" cy="413.0" r="0.4"/><circle cx="185.5" cy="413.9" r="0.4"/><circle cx="201.1" cy="412.2" r="0.4"/><circle cx="187.9" cy="413.3" r="0.4"/><circle cx="199.4" cy="413.8" r="0.4"/><circle cx="186.8" cy="414.5" r="0.4"/><circle cx="188.0" cy="414.6" r="0.4"/><circle cx="196.4" cy="411.8" r="0.4"/><circle cx="183.1" cy="418.2" r="0.4"/><circle cx="195.4" cy="413.3" r="0.4"/><circle cx="183.3" cy="417.0" r="0.4"/><circle cx="186.4" cy="415.5" r="0.4"/><circle cx="193.6" cy="411.7" r="0.4"/><circle cx="183.7" cy="417.1" r="0.4"/><circle cx="185.5" cy="415.8" r="0.4"/><circle cx="187.7" cy="411.7" r="0.4"/><circle cx="184.7" cy="416.6" r="0.4"/><circle cx="196.7" cy="414.9" r="0.4"/><circle cx="195.6" cy="414.2" r="0.4"/><circle cx="200.7" cy="413.5" r="0.4"/><circle cx="186.1" cy="417.9" r="0.4"/><circle cx="200.8" cy="413.4" r="0.4"/><circle cx="198.4" cy="413.5" r="0.4"/><circle cx="189.2" cy="414.1" r="0.4"/><circle cx="185.3" cy="417.5" r="0.4"/><circle cx="185.7" cy="416.4" r="0.4"/></g>
<ellipse cx="185.2" cy="425.6" rx="2.1" ry="1.8" fill="#000" filter="url(#b3)"/>
<g fill="#000" fill-opacity="0.4"><circle cx="185.3" cy="425.7" r="0.35"/><circle cx="183.6" cy="425.1" r="0.35"/><circle cx="185.6" cy="425.4" r="0.35"/><circle cx="184.4" cy="424.9" r="0.35"/><circle cx="184.5" cy="425.6" r="0.35"/><circle cx="184.9" cy="426.8" r="0.35"/><circle cx="185.7" cy="425.4" r="0.35"/><circle cx="183.0" cy="425.7" r="0.35"/><circle cx="186.0" cy="425.5" r="0.35"/><circle cx="187.2" cy="427.3" r="0.35"/><circle cx="186.6" cy="425.4" r="0.35"/><circle cx="187.8" cy="426.4" r="0.35"/><circle cx="183.2" cy="427.0" r="0.35"/><circle cx="183.6" cy="424.3" r="0.35"/><circle cx="186.3" cy="427.1" r="0.35"/><circle cx="185.4" cy="426.6" r="0.35"/><circle cx="186.5" cy="424.1" r="0.35"/><circle cx="185.5" cy="426.2" r="0.35"/><circle cx="184.0" cy="426.3" r="0.35"/><circle cx="184.7" cy="425.9" r="0.35"/><circle cx="185.2" cy="427.2" r="0.35"/><circle cx="185.5" cy="425.4" r="0.35"/><circle cx="183.3" cy="425.0" r="0.35"/><circle cx="187.4" cy="426.1" r="0.35"/><circle cx="186.4" cy="426.5" r="0.35"/></g>
<ellipse cx="200.0" cy="423.4" rx="3.2" ry="1.2" fill="#222" fill-opacity="0.75" transform="rotate(-8 200.0 423.4)" filter="url(#b3)"/>
<g fill="#000" fill-opacity="0.25"><circle cx="197.8" cy="423.3" r="0.35"/><circle cx="201.4" cy="424.1" r="0.35"/><circle cx="199.3" cy="423.0" r="0.35"/><circle cx="200.4" cy="422.5" r="0.35"/><circle cx="201.8" cy="423.3" r="0.35"/><circle cx="199.5" cy="422.8" r="0.35"/><circle cx="203.2" cy="424.5" r="0.35"/><circle cx="203.1" cy="422.0" r="0.35"/><circle cx="204.3" cy="423.8" r="0.35"/><circle cx="204.0" cy="423.2" r="0.35"/><circle cx="201.1" cy="423.4" r="0.35"/><circle cx="198.7" cy="423.9" r="0.35"/><circle cx="207.3" cy="422.8" r="0.35"/><circle cx="207.5" cy="423.2" r="0.35"/><circle cx="203.1" cy="422.0" r="0.35"/><circle cx="206.4" cy="423.0" r="0.35"/><circle cx="196.5" cy="425.4" r="0.35"/><circle cx="207.2" cy="423.9" r="0.35"/><circle cx="208.1" cy="422.4" r="0.35"/><circle cx="203.3" cy="422.5" r="0.35"/><circle cx="206.5" cy="422.5" r="0.35"/><circle cx="209.9" cy="421.7" r="0.35"/><circle cx="205.8" cy="424.1" r="0.35"/><circle cx="203.6" cy="422.8" r="0.35"/><circle cx="199.2" cy="424.7" r="0.35"/><circle cx="206.7" cy="424.2" r="0.35"/><circle cx="201.7" cy="424.8" r="0.35"/><circle cx="205.1" cy="423.6" r="0.35"/><circle cx="204.5" cy="422.6" r="0.35"/><circle cx="202.3" cy="424.2" r="0.35"/><circle cx="202.1" cy="423.4" r="0.35"/><circle cx="203.4" cy="423.5" r="0.35"/><circle cx="207.3" cy="422.0" r="0.35"/><circle cx="204.1" cy="422.6" r="0.35"/><circle cx="202.8" cy="422.6" r="0.35"/><circle cx="197.6" cy="423.4" r="0.35"/><circle cx="198.2" cy="425.0" r="0.35"/><circle cx="198.1" cy="423.2" r="0.35"/><circle cx="203.7" cy="422.7" r="0.35"/><circle cx="207.4" cy="422.5" r="0.35"/></g>
<g fill="#000" fill-opacity="0.15"><circle cx="181.2" cy="426.4" r="0.35"/><circle cx="190.2" cy="434.2" r="0.35"/><circle cx="185.8" cy="420.2" r="0.35"/><circle cx="193.3" cy="417.7" r="0.35"/><circle cx="198.4" cy="427.9" r="0.35"/><circle cx="206.6" cy="424.2" r="0.35"/><circle cx="192.2" cy="427.7" r="0.35"/><circle cx="203.1" cy="421.5" r="0.35"/><circle cx="188.9" cy="419.0" r="0.35"/><circle cx="194.6" cy="422.0" r="0.35"/><circle cx="199.0" cy="426.5" r="0.35"/><circle cx="183.8" cy="424.0" r="0.35"/><circle cx="195.9" cy="420.7" r="0.35"/><circle cx="194.2" cy="427.8" r="0.35"/><circle cx="193.1" cy="422.0" r="0.35"/><circle cx="190.2" cy="423.5" r="0.35"/><circle cx="188.9" cy="424.2" r="0.35"/><circle cx="183.3" cy="419.3" r="0.35"/><circle cx="195.7" cy="427.4" r="0.35"/><circle cx="188.2" cy="422.3" r="0.35"/><circle cx="198.0" cy="420.8" r="0.35"/><circle cx="194.6" cy="423.4" r="0.35"/><circle cx="182.0" cy="415.8" r="0.35"/><circle cx="194.1" cy="418.0" r="0.35"/><circle cx="192.4" cy="422.6" r="0.35"/><circle cx="186.2" cy="417.9" r="0.35"/><circle cx="185.7" cy="426.7" r="0.35"/><circle cx="174.8" cy="425.3" r="0.35"/><circle cx="191.9" cy="419.0" r="0.35"/><circle cx="194.5" cy="421.3" r="0.35"/><circle cx="184.5" cy="421.2" r="0.35"/><circle cx="192.7" cy="423.4" r="0.35"/><circle cx="192.7" cy="421.4" r="0.35"/><circle cx="174.4" cy="419.0" r="0.35"/><circle cx="195.8" cy="424.1" r="0.35"/><circle cx="185.1" cy="419.0" r="0.35"/><circle cx="183.3" cy="416.3" r="0.35"/><circle cx="195.6" cy="425.1" r="0.35"/><circle cx="191.7" cy="423.2" r="0.35"/><circle cx="203.2" cy="417.5" r="0.35"/></g>
<rect x="220.50" y="396.50" width="43.00" height="38.50" fill="none" stroke="#999" stroke-width="0.8"/>
<line x1="219.30" y1="400.50" x2="220.50" y2="400.50" stroke="#777" stroke-width="0.6"/>
<line x1="219.30" y1="410.30" x2="220.50" y2="410.30" stroke="#777" stroke-width="0.6"/>
<line x1="219.30" y1="420.10" x2="220.50" y2="420.10" stroke="#777" stroke-width="0.6"/>
<line x1="219.30" y1="429.90" x2="220.50" y2="429.90" stroke="#777" stroke-width="0.6"/>
<line x1="224.50" y1="435.00" x2="224.50" y2="436.20" stroke="#777" stroke-width="0.6"/>
<line x1="229.70" y1="435.00" x2="229.70" y2="436.20" stroke="#777" stroke-width="0.6"/>
<line x1="234.90" y1="435.00" x2="234.90" y2="436.20" stroke="#777" stroke-width="0.6"/>
<line x1="240.10" y1="435.00" x2="240.10" y2="436.20" stroke="#777" stroke-width="0.6"/>
<line x1="245.30" y1="435.00" x2="245.30" y2="436.20" stroke="#777" stroke-width="0.6"/>
<line x1="250.50" y1="435.00" x2="250.50" y2="436.20" stroke="#777" stroke-width="0.6"/>
<line x1="255.70" y1="435.00" x2="255.70" y2="436.20" stroke="#777" stroke-width="0.6"/>
<line x1="260.90" y1="435.00" x2="260.90" y2="436.20" stroke="#777" stroke-width="0.6"/>
<text x="243.00" y="395.01" font-size="7.8" text-anchor="middle" fill="#111" stroke="#111" stroke-width="0.15">miR-28</text>
<path d="M226.50,403.50 L253.50,404.00 L252.50,415.00 L228.50,422.50 Z" fill="none" stroke="#333" stroke-width="0.8"/>
<text x="229.10" y="409.06" font-size="4.6" text-anchor="start" font-weight="bold" fill="#111" stroke="#111" stroke-width="0.15">40%</text>
<path d="M231.80,418.00 C231.97,417.57 232.27,416.10 232.80,415.40 C233.33,414.70 234.05,414.20 235.00,413.80 C235.95,413.40 237.25,413.15 238.50,413.00 C239.75,412.85 241.17,412.85 242.50,412.90 C243.83,412.95 245.25,413.08 246.50,413.30 C247.75,413.52 249.42,414.05 250.00,414.20" fill="none" stroke="#555" stroke-width="4.2" stroke-linecap="round" stroke-opacity="0.27" filter="url(#b2)"/>
<path d="M231.80,418.00 C231.97,417.57 232.27,416.10 232.80,415.40 C233.33,414.70 234.05,414.20 235.00,413.80 C235.95,413.40 237.25,413.15 238.50,413.00 C239.75,412.85 241.17,412.85 242.50,412.90 C243.83,412.95 245.25,413.08 246.50,413.30 C247.75,413.52 249.42,414.05 250.00,414.20" fill="none" stroke="#111" stroke-width="2.0" stroke-linecap="round" stroke-opacity="0.54" filter="url(#b1)"/>
<g fill="#000" fill-opacity="0.35"><circle cx="247.7" cy="414.5" r="0.4"/><circle cx="238.5" cy="412.5" r="0.4"/><circle cx="231.8" cy="416.9" r="0.4"/><circle cx="250.4" cy="413.9" r="0.4"/><circle cx="231.2" cy="417.0" r="0.4"/><circle cx="245.8" cy="415.5" r="0.4"/><circle cx="232.4" cy="415.2" r="0.4"/><circle cx="234.8" cy="414.6" r="0.4"/><circle cx="234.7" cy="414.5" r="0.4"/><circle cx="241.2" cy="411.8" r="0.4"/><circle cx="248.5" cy="413.8" r="0.4"/><circle cx="245.9" cy="412.3" r="0.4"/><circle cx="248.5" cy="412.3" r="0.4"/><circle cx="242.7" cy="414.0" r="0.4"/><circle cx="233.8" cy="416.2" r="0.4"/><circle cx="233.7" cy="415.0" r="0.4"/><circle cx="231.8" cy="417.4" r="0.4"/><circle cx="233.6" cy="416.6" r="0.4"/><circle cx="236.8" cy="413.3" r="0.4"/><circle cx="248.1" cy="411.7" r="0.4"/><circle cx="239.0" cy="413.5" r="0.4"/><circle cx="234.0" cy="414.6" r="0.4"/><circle cx="232.1" cy="415.2" r="0.4"/><circle cx="232.3" cy="416.3" r="0.4"/><circle cx="236.0" cy="413.6" r="0.4"/><circle cx="239.7" cy="413.6" r="0.4"/><circle cx="236.9" cy="412.5" r="0.4"/><circle cx="238.1" cy="413.5" r="0.4"/><circle cx="241.4" cy="413.6" r="0.4"/><circle cx="232.7" cy="418.5" r="0.4"/><circle cx="232.2" cy="417.5" r="0.4"/><circle cx="243.5" cy="410.2" r="0.4"/><circle cx="233.3" cy="418.0" r="0.4"/><circle cx="233.0" cy="412.5" r="0.4"/><circle cx="244.2" cy="412.7" r="0.4"/><circle cx="234.9" cy="414.5" r="0.4"/><circle cx="246.4" cy="414.2" r="0.4"/><circle cx="245.1" cy="412.5" r="0.4"/><circle cx="243.4" cy="411.9" r="0.4"/><circle cx="242.7" cy="413.0" r="0.4"/><circle cx="236.0" cy="413.3" r="0.4"/><circle cx="246.2" cy="413.8" r="0.4"/><circle cx="248.6" cy="413.2" r="0.4"/><circle cx="237.5" cy="412.6" r="0.4"/><circle cx="245.9" cy="414.1" r="0.4"/><circle cx="237.7" cy="414.1" r="0.4"/><circle cx="247.6" cy="414.3" r="0.4"/><circle cx="248.3" cy="413.0" r="0.4"/><circle cx="233.7" cy="413.7" r="0.4"/><circle cx="234.4" cy="417.4" r="0.4"/><circle cx="250.7" cy="415.5" r="0.4"/><circle cx="235.2" cy="414.6" r="0.4"/><circle cx="247.5" cy="414.0" r="0.4"/><circle cx="232.8" cy="416.5" r="0.4"/><circle cx="232.6" cy="415.5" r="0.4"/><circle cx="246.4" cy="413.5" r="0.4"/><circle cx="235.9" cy="414.2" r="0.4"/><circle cx="240.2" cy="412.2" r="0.4"/><circle cx="233.2" cy="412.7" r="0.4"/><circle cx="249.8" cy="412.7" r="0.4"/><circle cx="246.3" cy="413.7" r="0.4"/><circle cx="245.5" cy="414.2" r="0.4"/><circle cx="250.0" cy="415.6" r="0.4"/><circle cx="239.7" cy="412.2" r="0.4"/><circle cx="250.1" cy="412.4" r="0.4"/><circle cx="236.9" cy="413.9" r="0.4"/><circle cx="231.3" cy="417.7" r="0.4"/><circle cx="234.9" cy="415.3" r="0.4"/><circle cx="243.2" cy="413.0" r="0.4"/><circle cx="235.0" cy="414.7" r="0.4"/><circle cx="235.4" cy="414.9" r="0.4"/><circle cx="231.6" cy="415.2" r="0.4"/><circle cx="235.8" cy="413.7" r="0.4"/><circle cx="241.2" cy="411.8" r="0.4"/><circle cx="243.8" cy="414.6" r="0.4"/><circle cx="248.7" cy="413.2" r="0.4"/><circle cx="240.4" cy="414.2" r="0.4"/><circle cx="246.3" cy="412.2" r="0.4"/><circle cx="232.5" cy="413.4" r="0.4"/><circle cx="240.1" cy="414.2" r="0.4"/><circle cx="233.0" cy="414.5" r="0.4"/><circle cx="232.9" cy="415.5" r="0.4"/><circle cx="239.6" cy="413.1" r="0.4"/><circle cx="235.8" cy="412.8" r="0.4"/><circle cx="239.4" cy="411.8" r="0.4"/><circle cx="235.2" cy="414.6" r="0.4"/><circle cx="233.9" cy="414.9" r="0.4"/><circle cx="233.3" cy="415.6" r="0.4"/><circle cx="247.8" cy="412.9" r="0.4"/><circle cx="235.6" cy="412.4" r="0.4"/><circle cx="234.2" cy="414.6" r="0.4"/><circle cx="242.6" cy="414.8" r="0.4"/><circle cx="248.0" cy="414.4" r="0.4"/><circle cx="246.0" cy="412.7" r="0.4"/><circle cx="248.8" cy="414.4" r="0.4"/><circle cx="248.9" cy="413.8" r="0.4"/><circle cx="233.5" cy="414.3" r="0.4"/><circle cx="241.0" cy="413.9" r="0.4"/><circle cx="238.0" cy="412.0" r="0.4"/><circle cx="233.5" cy="414.3" r="0.4"/><circle cx="246.6" cy="413.8" r="0.4"/><circle cx="245.9" cy="412.3" r="0.4"/><circle cx="233.2" cy="418.4" r="0.4"/><circle cx="238.7" cy="413.8" r="0.4"/><circle cx="232.6" cy="414.0" r="0.4"/><circle cx="234.9" cy="413.0" r="0.4"/><circle cx="245.3" cy="412.7" r="0.4"/><circle cx="234.9" cy="412.8" r="0.4"/><circle cx="235.4" cy="413.6" r="0.4"/><circle cx="237.7" cy="413.7" r="0.4"/><circle cx="241.3" cy="413.7" r="0.4"/><circle cx="235.8" cy="413.6" r="0.4"/><circle cx="231.3" cy="416.6" r="0.4"/><circle cx="242.7" cy="413.0" r="0.4"/><circle cx="233.1" cy="414.4" r="0.4"/><circle cx="233.6" cy="415.2" r="0.4"/><circle cx="242.5" cy="411.6" r="0.4"/><circle cx="248.0" cy="413.7" r="0.4"/><circle cx="249.6" cy="414.4" r="0.4"/><circle cx="233.9" cy="418.3" r="0.4"/><circle cx="232.9" cy="415.5" r="0.4"/><circle cx="245.7" cy="412.7" r="0.4"/><circle cx="230.9" cy="417.8" r="0.4"/><circle cx="230.6" cy="416.4" r="0.4"/><circle cx="241.7" cy="412.4" r="0.4"/><circle cx="230.1" cy="414.5" r="0.4"/><circle cx="249.0" cy="414.3" r="0.4"/><circle cx="230.0" cy="418.2" r="0.4"/><circle cx="247.9" cy="413.4" r="0.4"/><circle cx="233.2" cy="414.9" r="0.4"/><circle cx="233.4" cy="417.8" r="0.4"/><circle cx="233.7" cy="412.4" r="0.4"/><circle cx="237.3" cy="411.3" r="0.4"/><circle cx="248.8" cy="415.2" r="0.4"/><circle cx="241.0" cy="412.6" r="0.4"/><circle cx="232.7" cy="416.1" r="0.4"/><circle cx="248.2" cy="413.2" r="0.4"/><circle cx="238.5" cy="414.9" r="0.4"/><circle cx="240.0" cy="415.2" r="0.4"/><circle cx="247.8" cy="413.2" r="0.4"/><circle cx="231.4" cy="415.9" r="0.4"/><circle cx="240.6" cy="411.9" r="0.4"/><circle cx="237.1" cy="412.8" r="0.4"/><circle cx="231.5" cy="414.9" r="0.4"/><circle cx="241.9" cy="411.3" r="0.4"/><circle cx="233.8" cy="415.4" r="0.4"/><circle cx="233.1" cy="413.6" r="0.4"/><circle cx="234.6" cy="414.2" r="0.4"/><circle cx="237.1" cy="415.5" r="0.4"/><circle cx="233.3" cy="418.9" r="0.4"/><circle cx="244.7" cy="412.7" r="0.4"/><circle cx="246.0" cy="412.7" r="0.4"/><circle cx="231.5" cy="416.7" r="0.4"/><circle cx="249.9" cy="415.5" r="0.4"/><circle cx="247.4" cy="411.5" r="0.4"/><circle cx="245.8" cy="412.1" r="0.4"/></g>
<ellipse cx="232.1" cy="426" rx="2.1" ry="1.8" fill="#000" filter="url(#b3)"/>
<g fill="#000" fill-opacity="0.4"><circle cx="234.0" cy="426.9" r="0.35"/><circle cx="232.2" cy="425.3" r="0.35"/><circle cx="229.9" cy="425.0" r="0.35"/><circle cx="233.2" cy="425.2" r="0.35"/><circle cx="230.5" cy="426.2" r="0.35"/><circle cx="232.4" cy="426.6" r="0.35"/><circle cx="232.9" cy="427.4" r="0.35"/><circle cx="231.1" cy="427.0" r="0.35"/><circle cx="230.9" cy="426.7" r="0.35"/><circle cx="232.3" cy="426.2" r="0.35"/><circle cx="233.3" cy="426.0" r="0.35"/><circle cx="233.4" cy="426.9" r="0.35"/><circle cx="232.3" cy="425.4" r="0.35"/><circle cx="231.2" cy="425.5" r="0.35"/><circle cx="231.9" cy="426.0" r="0.35"/><circle cx="235.7" cy="426.6" r="0.35"/><circle cx="233.0" cy="425.1" r="0.35"/><circle cx="231.2" cy="425.7" r="0.35"/><circle cx="232.3" cy="425.0" r="0.35"/><circle cx="234.0" cy="425.4" r="0.35"/><circle cx="233.4" cy="423.7" r="0.35"/><circle cx="232.1" cy="426.3" r="0.35"/><circle cx="232.3" cy="426.6" r="0.35"/><circle cx="232.4" cy="426.2" r="0.35"/><circle cx="229.8" cy="425.3" r="0.35"/></g>
<ellipse cx="245.5" cy="423.4" rx="3.2" ry="1.2" fill="#222" fill-opacity="0.75" transform="rotate(-8 245.5 423.4)" filter="url(#b3)"/>
<g fill="#000" fill-opacity="0.25"><circle cx="239.9" cy="424.6" r="0.35"/><circle cx="249.0" cy="422.8" r="0.35"/><circle cx="245.1" cy="422.9" r="0.35"/><circle cx="254.6" cy="423.9" r="0.35"/><circle cx="247.9" cy="424.3" r="0.35"/><circle cx="242.3" cy="422.0" r="0.35"/><circle cx="246.2" cy="422.5" r="0.35"/><circle cx="246.1" cy="423.5" r="0.35"/><circle cx="258.4" cy="421.2" r="0.35"/><circle cx="248.2" cy="423.3" r="0.35"/><circle cx="248.0" cy="423.9" r="0.35"/><circle cx="254.0" cy="421.2" r="0.35"/><circle cx="248.5" cy="422.8" r="0.35"/><circle cx="249.1" cy="421.6" r="0.35"/><circle cx="241.6" cy="421.8" r="0.35"/><circle cx="249.8" cy="423.1" r="0.35"/><circle cx="248.0" cy="421.0" r="0.35"/><circle cx="246.6" cy="422.6" r="0.35"/><circle cx="243.0" cy="422.9" r="0.35"/><circle cx="250.5" cy="423.3" r="0.35"/><circle cx="248.0" cy="423.6" r="0.35"/><circle cx="245.9" cy="423.4" r="0.35"/><circle cx="248.2" cy="423.6" r="0.35"/><circle cx="247.7" cy="423.0" r="0.35"/><circle cx="247.5" cy="422.6" r="0.35"/><circle cx="255.8" cy="422.6" r="0.35"/><circle cx="249.7" cy="425.0" r="0.35"/><circle cx="252.7" cy="421.1" r="0.35"/><circle cx="250.5" cy="423.6" r="0.35"/><circle cx="254.7" cy="423.5" r="0.35"/><circle cx="250.6" cy="421.7" r="0.35"/><circle cx="245.0" cy="423.7" r="0.35"/><circle cx="249.6" cy="422.0" r="0.35"/><circle cx="246.6" cy="422.9" r="0.35"/><circle cx="248.2" cy="423.4" r="0.35"/><circle cx="246.9" cy="422.1" r="0.35"/><circle cx="252.5" cy="424.0" r="0.35"/><circle cx="247.7" cy="424.1" r="0.35"/><circle cx="249.6" cy="423.5" r="0.35"/><circle cx="249.6" cy="422.2" r="0.35"/></g>
<g fill="#000" fill-opacity="0.15"><circle cx="245.1" cy="426.0" r="0.35"/><circle cx="233.3" cy="429.9" r="0.35"/><circle cx="257.2" cy="429.3" r="0.35"/><circle cx="256.4" cy="425.0" r="0.35"/><circle cx="237.8" cy="419.6" r="0.35"/><circle cx="234.0" cy="422.5" r="0.35"/><circle cx="240.2" cy="424.7" r="0.35"/><circle cx="224.3" cy="431.2" r="0.35"/><circle cx="258.7" cy="421.9" r="0.35"/><circle cx="245.9" cy="423.9" r="0.35"/><circle cx="242.7" cy="421.2" r="0.35"/><circle cx="239.5" cy="418.7" r="0.35"/><circle cx="241.9" cy="421.9" r="0.35"/><circle cx="243.1" cy="418.6" r="0.35"/><circle cx="240.8" cy="422.2" r="0.35"/><circle cx="245.3" cy="417.7" r="0.35"/><circle cx="243.9" cy="425.9" r="0.35"/><circle cx="245.3" cy="420.5" r="0.35"/><circle cx="236.6" cy="421.1" r="0.35"/><circle cx="246.3" cy="428.2" r="0.35"/><circle cx="239.2" cy="419.4" r="0.35"/><circle cx="243.5" cy="422.8" r="0.35"/><circle cx="233.2" cy="419.1" r="0.35"/><circle cx="239.7" cy="424.7" r="0.35"/><circle cx="231.0" cy="417.9" r="0.35"/><circle cx="244.5" cy="417.1" r="0.35"/><circle cx="241.4" cy="423.4" r="0.35"/><circle cx="239.6" cy="417.9" r="0.35"/><circle cx="240.0" cy="420.7" r="0.35"/><circle cx="243.2" cy="418.6" r="0.35"/><circle cx="249.2" cy="415.3" r="0.35"/><circle cx="239.1" cy="422.0" r="0.35"/><circle cx="248.2" cy="419.6" r="0.35"/><circle cx="244.9" cy="419.7" r="0.35"/><circle cx="246.4" cy="428.9" r="0.35"/><circle cx="237.3" cy="423.8" r="0.35"/><circle cx="233.1" cy="425.9" r="0.35"/><circle cx="250.2" cy="422.1" r="0.35"/><circle cx="231.4" cy="423.6" r="0.35"/><circle cx="249.7" cy="426.4" r="0.35"/></g>
<text x="166.11" y="416.00" font-size="7" text-anchor="middle" fill="#111" stroke="#111" stroke-width="0.15" transform="rotate(-90 166.11 416.00)">BrdU</text>
<line x1="172.30" y1="442.60" x2="201.30" y2="442.60" stroke="#111" stroke-width="1.3"/>
<text x="217.40" y="445.23" font-size="7.3" text-anchor="middle" fill="#111" stroke="#111" stroke-width="0.15">Cell cycle</text>
<line x1="233.30" y1="442.60" x2="261.00" y2="442.60" stroke="#111" stroke-width="1.3"/>
<path d="M264.8,442.6 L259.8,440.4 L259.8,444.8 Z" fill="#000"/>
<rect x="306.30" y="403.74" width="7.30" height="32.26" fill="#b3002d"/>
<line x1="309.95" y1="403.74" x2="309.95" y2="397.79" stroke="#111" stroke-width="1.0"/>
<line x1="308.15" y1="397.79" x2="311.75" y2="397.79" stroke="#111" stroke-width="1.0"/>
<rect x="313.60" y="393.38" width="6.90" height="42.62" fill="#2f5590"/>
<line x1="317.05" y1="393.38" x2="317.05" y2="389.92" stroke="#111" stroke-width="1.0"/>
<line x1="315.25" y1="389.92" x2="318.85" y2="389.92" stroke="#111" stroke-width="1.0"/>
<rect x="328.80" y="391.84" width="7.50" height="44.16" fill="#b3002d"/>
<line x1="332.55" y1="391.84" x2="332.55" y2="386.27" stroke="#111" stroke-width="1.0"/>
<line x1="330.75" y1="386.27" x2="334.35" y2="386.27" stroke="#111" stroke-width="1.0"/>
<rect x="336.30" y="402.40" width="6.70" height="33.60" fill="#2f5590"/>
<line x1="339.65" y1="402.40" x2="339.65" y2="398.56" stroke="#111" stroke-width="1.0"/>
<line x1="337.85" y1="398.56" x2="341.45" y2="398.56" stroke="#111" stroke-width="1.0"/>
<line x1="302.90" y1="376.80" x2="302.90" y2="436.50" stroke="#111" stroke-width="1.5"/>
<line x1="299.30" y1="436.00" x2="302.90" y2="436.00" stroke="#111" stroke-width="1.1"/>
<text x="296.30" y="438.02" font-size="5.6" text-anchor="end" font-weight="bold" fill="#111" stroke="#111" stroke-width="0.15">30</text>
<line x1="299.30" y1="416.80" x2="302.90" y2="416.80" stroke="#111" stroke-width="1.1"/>
<text x="296.30" y="418.82" font-size="5.6" text-anchor="end" font-weight="bold" fill="#111" stroke="#111" stroke-width="0.15">40</text>
<line x1="299.30" y1="397.60" x2="302.90" y2="397.60" stroke="#111" stroke-width="1.1"/>
<text x="296.30" y="399.62" font-size="5.6" text-anchor="end" font-weight="bold" fill="#111" stroke="#111" stroke-width="0.15">50</text>
<line x1="299.30" y1="378.40" x2="302.90" y2="378.40" stroke="#111" stroke-width="1.1"/>
<text x="296.30" y="380.42" font-size="5.6" text-anchor="end" font-weight="bold" fill="#111" stroke="#111" stroke-width="0.15">60</text>
<line x1="302.40" y1="436.00" x2="346.00" y2="436.00" stroke="#111" stroke-width="1.5"/>
<line x1="313.30" y1="436.00" x2="313.30" y2="439.60" stroke="#111" stroke-width="1.1"/>
<line x1="336.30" y1="436.00" x2="336.30" y2="439.60" stroke="#111" stroke-width="1.1"/>
<path d="M308.9,390.7 L308.9,381.7 L316.4,381.7 L316.4,383.7" fill="none" stroke="#111" stroke-width="1.0"/>
<path d="M332.6,382 L339.6,382 L339.6,386" fill="none" stroke="#111" stroke-width="1.0"/>
<text x="311.90" y="380.88" font-size="5.5" text-anchor="middle" font-weight="bold" fill="#111" stroke="#111" stroke-width="0.15">*</text>
<text x="336.10" y="380.88" font-size="5.5" text-anchor="middle" font-weight="bold" fill="#111" stroke="#111" stroke-width="0.15">*</text>
<rect x="309.40" y="356.30" width="10.40" height="5.00" fill="#b3002d"/>
<rect x="309.40" y="364.50" width="10.40" height="5.00" fill="#2f5590"/>
<text x="321.60" y="360.85" font-size="5.7" text-anchor="start" fill="#111" stroke="#111" stroke-width="0.25">control</text>
<text x="321.60" y="369.05" font-size="5.7" text-anchor="start" fill="#111" stroke="#111" stroke-width="0.25">miR-28</text>
<text x="285.38" y="406.00" font-size="7.2" text-anchor="middle" fill="#111" stroke="#111" stroke-width="0.15" transform="rotate(-90 285.38 406.00)">% of cells</text>
<text x="315.00" y="443.30" font-size="5.6" text-anchor="end" fill="#111" stroke="#111" stroke-width="0.15" transform="rotate(-45 315.00 443.30)">G0/G1</text>
<text x="337.60" y="443.60" font-size="5.6" text-anchor="end" fill="#111" stroke="#111" stroke-width="0.15" transform="rotate(-45 337.60 443.60)">S+G2M</text>
<rect x="396.20" y="403.94" width="7.80" height="31.46" fill="none" stroke="#a8203f" stroke-width="1.3"/>
<rect x="411.00" y="413.01" width="8.70" height="22.99" fill="#2f5590"/>
<circle cx="399.80" cy="395.00" r="0.9" fill="#a8203f"/>
<circle cx="399.80" cy="398.10" r="0.9" fill="#a8203f"/>
<circle cx="399.80" cy="409.70" r="0.9" fill="#a8203f"/>
<circle cx="399.80" cy="414.40" r="0.9" fill="#a8203f"/>
<circle cx="414.30" cy="405.40" r="0.9" fill="#4a68b0"/>
<circle cx="416.80" cy="405.80" r="0.9" fill="#4a68b0"/>
<circle cx="415.50" cy="418.30" r="0.9" fill="#4a68b0"/>
<circle cx="414.80" cy="421.00" r="0.9" fill="#4a68b0"/>
<line x1="392.00" y1="385.50" x2="392.00" y2="436.50" stroke="#111" stroke-width="1.5"/>
<line x1="388.40" y1="436.00" x2="392.00" y2="436.00" stroke="#111" stroke-width="1.1"/>
<text x="385.40" y="438.02" font-size="5.6" text-anchor="end" font-weight="bold" fill="#111" stroke="#111" stroke-width="0.15">30</text>
<line x1="388.40" y1="423.90" x2="392.00" y2="423.90" stroke="#111" stroke-width="1.1"/>
<text x="385.40" y="425.92" font-size="5.6" text-anchor="end" font-weight="bold" fill="#111" stroke="#111" stroke-width="0.15">40</text>
<line x1="388.40" y1="411.80" x2="392.00" y2="411.80" stroke="#111" stroke-width="1.1"/>
<text x="385.40" y="413.82" font-size="5.6" text-anchor="end" font-weight="bold" fill="#111" stroke="#111" stroke-width="0.15">50</text>
<line x1="388.40" y1="399.70" x2="392.00" y2="399.70" stroke="#111" stroke-width="1.1"/>
<text x="385.40" y="401.72" font-size="5.6" text-anchor="end" font-weight="bold" fill="#111" stroke="#111" stroke-width="0.15">60</text>
<line x1="388.40" y1="387.60" x2="392.00" y2="387.60" stroke="#111" stroke-width="1.1"/>
<text x="385.40" y="389.62" font-size="5.6" text-anchor="end" font-weight="bold" fill="#111" stroke="#111" stroke-width="0.15">70</text>
<line x1="391.50" y1="436.00" x2="427.10" y2="436.00" stroke="#111" stroke-width="1.5"/>
<line x1="400.10" y1="436.00" x2="400.10" y2="439.60" stroke="#111" stroke-width="1.1"/>
<line x1="415.30" y1="436.00" x2="415.30" y2="439.60" stroke="#111" stroke-width="1.1"/>
<path d="M400.7,392.5 L400.7,389.8 L417.1,389.8 L417.1,397" fill="none" stroke="#111" stroke-width="1.0"/>
<text x="407.60" y="388.28" font-size="5.5" text-anchor="middle" font-weight="bold" fill="#111" stroke="#111" stroke-width="0.15">*</text>
<rect x="394.40" y="356.90" width="8.20" height="4.20" fill="#fff" stroke="#a8203f" stroke-width="1.3"/>
<rect x="393.75" y="364.50" width="9.50" height="5.30" fill="#2f5590"/>
<text x="405.20" y="360.95" font-size="5.7" text-anchor="start" fill="#111" stroke="#111" stroke-width="0.25">control</text>
<text x="405.20" y="369.15" font-size="5.7" text-anchor="start" fill="#111" stroke="#111" stroke-width="0.25">miR-28</text>
<text x="374.48" y="409.70" font-size="7.2" text-anchor="middle" fill="#111" stroke="#111" stroke-width="0.15" transform="rotate(-90 374.48 409.70)">BrdU<tspan font-size="4" dy="-2.2">+</tspan><tspan dy="2.2"> cells (%)</tspan></text>
<text x="402.30" y="443.60" font-size="5.5" text-anchor="end" fill="#111" stroke="#111" stroke-width="0.15" transform="rotate(-45 402.30 443.60)">control</text>
<text x="417.60" y="443.00" font-size="5.5" text-anchor="end" fill="#111" stroke="#111" stroke-width="0.15" transform="rotate(-45 417.60 443.00)">miR-28</text>
<text transform="translate(147.70 484.70) scale(0.93 1)" font-size="14.6" font-weight="bold" fill="#000">H</text>
<rect x="176.60" y="498.80" width="39.80" height="38.70" fill="none" stroke="#6a6a6a" stroke-width="0.9"/>
<line x1="174.80" y1="503.90" x2="176.60" y2="503.90" stroke="#333" stroke-width="0.9"/>
<line x1="174.80" y1="513.50" x2="176.60" y2="513.50" stroke="#333" stroke-width="0.9"/>
<line x1="174.80" y1="522.60" x2="176.60" y2="522.60" stroke="#333" stroke-width="0.9"/>
<line x1="174.80" y1="532.20" x2="176.60" y2="532.20" stroke="#333" stroke-width="0.9"/>
<line x1="180.10" y1="537.50" x2="180.10" y2="539.10" stroke="#444" stroke-width="0.8"/>
<line x1="185.00" y1="537.50" x2="185.00" y2="539.10" stroke="#444" stroke-width="0.8"/>
<line x1="189.90" y1="537.50" x2="189.90" y2="539.10" stroke="#444" stroke-width="0.8"/>
<line x1="194.80" y1="537.50" x2="194.80" y2="539.10" stroke="#444" stroke-width="0.8"/>
<line x1="199.70" y1="537.50" x2="199.70" y2="539.10" stroke="#444" stroke-width="0.8"/>
<line x1="204.60" y1="537.50" x2="204.60" y2="539.10" stroke="#444" stroke-width="0.8"/>
<line x1="209.50" y1="537.50" x2="209.50" y2="539.10" stroke="#444" stroke-width="0.8"/>
<line x1="214.40" y1="537.50" x2="214.40" y2="539.10" stroke="#444" stroke-width="0.8"/>
<text x="194.10" y="496.81" font-size="7.8" text-anchor="middle" fill="#111" stroke="#111" stroke-width="0.15">control</text>
<g fill="#000" fill-opacity="0.18"><circle cx="199.5" cy="510.0" r="0.35"/><circle cx="187.6" cy="529.5" r="0.35"/><circle cx="183.2" cy="527.8" r="0.35"/><circle cx="208.1" cy="525.6" r="0.35"/><circle cx="202.0" cy="519.0" r="0.35"/><circle cx="183.2" cy="520.4" r="0.35"/><circle cx="191.4" cy="520.7" r="0.35"/><circle cx="198.6" cy="520.1" r="0.35"/><circle cx="194.5" cy="523.5" r="0.35"/><circle cx="193.0" cy="532.1" r="0.35"/><circle cx="196.5" cy="521.5" r="0.35"/><circle cx="191.3" cy="517.2" r="0.35"/><circle cx="203.8" cy="521.9" r="0.35"/><circle cx="184.4" cy="517.6" r="0.35"/><circle cx="191.9" cy="518.3" r="0.35"/><circle cx="201.7" cy="514.0" r="0.35"/><circle cx="196.9" cy="521.9" r="0.35"/><circle cx="183.6" cy="521.3" r="0.35"/><circle cx="192.2" cy="524.0" r="0.35"/><circle cx="189.4" cy="522.8" r="0.35"/><circle cx="179.7" cy="514.5" r="0.35"/><circle cx="199.3" cy="527.2" r="0.35"/><circle cx="192.9" cy="517.4" r="0.35"/><circle cx="201.7" cy="508.4" r="0.35"/><circle cx="186.6" cy="525.0" r="0.35"/><circle cx="198.2" cy="514.8" r="0.35"/><circle cx="177.9" cy="529.7" r="0.35"/><circle cx="194.2" cy="515.6" r="0.35"/><circle cx="193.4" cy="526.4" r="0.35"/><circle cx="172.3" cy="527.7" r="0.35"/><circle cx="198.9" cy="508.5" r="0.35"/><circle cx="199.2" cy="510.3" r="0.35"/><circle cx="202.1" cy="523.4" r="0.35"/><circle cx="211.0" cy="517.3" r="0.35"/><circle cx="193.0" cy="527.3" r="0.35"/><circle cx="187.9" cy="516.8" r="0.35"/><circle cx="190.0" cy="520.6" r="0.35"/><circle cx="184.3" cy="523.9" r="0.35"/><circle cx="197.3" cy="521.4" r="0.35"/><circle cx="206.6" cy="519.0" r="0.35"/><circle cx="203.5" cy="517.7" r="0.35"/><circle cx="199.0" cy="509.4" r="0.35"/><circle cx="194.6" cy="519.9" r="0.35"/><circle cx="189.0" cy="517.3" r="0.35"/><circle cx="190.2" cy="516.7" r="0.35"/><circle cx="175.5" cy="517.4" r="0.35"/><circle cx="188.6" cy="517.9" r="0.35"/><circle cx="184.5" cy="520.2" r="0.35"/><circle cx="199.3" cy="519.5" r="0.35"/><circle cx="189.1" cy="529.1" r="0.35"/><circle cx="200.8" cy="526.5" r="0.35"/><circle cx="202.2" cy="519.0" r="0.35"/><circle cx="192.0" cy="527.7" r="0.35"/><circle cx="188.6" cy="520.3" r="0.35"/><circle cx="196.0" cy="523.2" r="0.35"/><circle cx="190.8" cy="526.9" r="0.35"/><circle cx="191.6" cy="525.4" r="0.35"/><circle cx="201.6" cy="525.0" r="0.35"/><circle cx="198.9" cy="514.0" r="0.35"/><circle cx="182.5" cy="517.3" r="0.35"/><circle cx="196.8" cy="530.0" r="0.35"/><circle cx="183.2" cy="522.8" r="0.35"/><circle cx="186.2" cy="516.6" r="0.35"/><circle cx="190.8" cy="525.2" r="0.35"/><circle cx="194.7" cy="528.1" r="0.35"/><circle cx="185.1" cy="526.3" r="0.35"/><circle cx="200.4" cy="521.4" r="0.35"/><circle cx="196.8" cy="517.6" r="0.35"/><circle cx="184.3" cy="518.6" r="0.35"/><circle cx="187.9" cy="538.3" r="0.35"/><circle cx="189.1" cy="530.9" r="0.35"/><circle cx="194.6" cy="522.9" r="0.35"/><circle cx="198.9" cy="516.3" r="0.35"/><circle cx="200.3" cy="523.3" r="0.35"/><circle cx="180.9" cy="524.6" r="0.35"/><circle cx="197.4" cy="523.7" r="0.35"/><circle cx="205.7" cy="518.5" r="0.35"/><circle cx="197.1" cy="525.5" r="0.35"/><circle cx="185.8" cy="528.2" r="0.35"/><circle cx="181.4" cy="513.2" r="0.35"/><circle cx="197.2" cy="514.5" r="0.35"/><circle cx="192.1" cy="511.1" r="0.35"/><circle cx="193.6" cy="514.2" r="0.35"/><circle cx="195.7" cy="511.8" r="0.35"/><circle cx="196.6" cy="519.4" r="0.35"/><circle cx="193.5" cy="520.6" r="0.35"/><circle cx="194.0" cy="513.1" r="0.35"/><circle cx="172.5" cy="521.2" r="0.35"/><circle cx="185.5" cy="518.3" r="0.35"/><circle cx="196.4" cy="509.1" r="0.35"/><circle cx="186.9" cy="517.3" r="0.35"/><circle cx="184.5" cy="523.0" r="0.35"/><circle cx="191.9" cy="516.1" r="0.35"/><circle cx="185.1" cy="525.8" r="0.35"/><circle cx="187.7" cy="524.5" r="0.35"/><circle cx="196.6" cy="509.6" r="0.35"/><circle cx="184.3" cy="521.0" r="0.35"/><circle cx="195.7" cy="525.7" r="0.35"/><circle cx="199.4" cy="527.2" r="0.35"/><circle cx="190.0" cy="519.7" r="0.35"/><circle cx="199.2" cy="518.4" r="0.35"/><circle cx="201.5" cy="511.5" r="0.35"/><circle cx="198.2" cy="520.0" r="0.35"/><circle cx="177.3" cy="526.9" r="0.35"/><circle cx="195.5" cy="521.1" r="0.35"/><circle cx="184.4" cy="518.2" r="0.35"/><circle cx="205.1" cy="516.0" r="0.35"/><circle cx="165.2" cy="515.9" r="0.35"/><circle cx="183.4" cy="520.2" r="0.35"/><circle cx="189.9" cy="515.5" r="0.35"/><circle cx="186.3" cy="527.3" r="0.35"/><circle cx="181.5" cy="532.7" r="0.35"/><circle cx="188.6" cy="514.4" r="0.35"/><circle cx="199.3" cy="524.4" r="0.35"/><circle cx="184.7" cy="525.5" r="0.35"/><circle cx="178.3" cy="515.5" r="0.35"/><circle cx="202.0" cy="519.5" r="0.35"/><circle cx="182.6" cy="524.1" r="0.35"/><circle cx="200.3" cy="520.9" r="0.35"/><circle cx="178.5" cy="518.9" r="0.35"/></g>
<g fill="#000" fill-opacity="0.28"><circle cx="189.4" cy="527.5" r="0.4"/><circle cx="194.6" cy="524.2" r="0.4"/><circle cx="186.2" cy="524.9" r="0.4"/><circle cx="192.2" cy="521.9" r="0.4"/><circle cx="192.6" cy="515.9" r="0.4"/><circle cx="190.8" cy="522.8" r="0.4"/><circle cx="189.6" cy="527.3" r="0.4"/><circle cx="183.6" cy="524.7" r="0.4"/><circle cx="188.8" cy="526.9" r="0.4"/><circle cx="184.6" cy="521.7" r="0.4"/><circle cx="181.0" cy="533.4" r="0.4"/><circle cx="187.2" cy="524.3" r="0.4"/><circle cx="182.5" cy="528.1" r="0.4"/><circle cx="186.0" cy="529.7" r="0.4"/><circle cx="191.0" cy="525.1" r="0.4"/><circle cx="190.5" cy="521.3" r="0.4"/><circle cx="186.7" cy="523.1" r="0.4"/><circle cx="183.3" cy="525.1" r="0.4"/><circle cx="187.4" cy="529.7" r="0.4"/><circle cx="175.8" cy="522.8" r="0.4"/><circle cx="184.6" cy="523.5" r="0.4"/><circle cx="189.4" cy="526.3" r="0.4"/><circle cx="188.0" cy="523.4" r="0.4"/><circle cx="189.7" cy="526.2" r="0.4"/><circle cx="181.3" cy="524.1" r="0.4"/><circle cx="183.0" cy="521.1" r="0.4"/><circle cx="188.4" cy="525.2" r="0.4"/><circle cx="188.3" cy="522.1" r="0.4"/><circle cx="187.2" cy="522.0" r="0.4"/><circle cx="189.3" cy="527.3" r="0.4"/><circle cx="194.2" cy="529.2" r="0.4"/><circle cx="185.0" cy="523.5" r="0.4"/><circle cx="184.5" cy="526.0" r="0.4"/><circle cx="195.0" cy="527.3" r="0.4"/><circle cx="180.0" cy="520.9" r="0.4"/><circle cx="183.2" cy="526.7" r="0.4"/><circle cx="187.9" cy="526.0" r="0.4"/><circle cx="194.3" cy="522.3" r="0.4"/><circle cx="184.8" cy="531.5" r="0.4"/><circle cx="189.1" cy="522.4" r="0.4"/><circle cx="180.6" cy="520.0" r="0.4"/><circle cx="179.1" cy="525.2" r="0.4"/><circle cx="188.1" cy="528.3" r="0.4"/><circle cx="187.4" cy="522.7" r="0.4"/><circle cx="185.2" cy="531.3" r="0.4"/><circle cx="181.5" cy="525.6" r="0.4"/><circle cx="188.0" cy="527.0" r="0.4"/><circle cx="186.4" cy="526.6" r="0.4"/><circle cx="190.8" cy="524.5" r="0.4"/><circle cx="186.3" cy="524.4" r="0.4"/><circle cx="184.4" cy="524.3" r="0.4"/><circle cx="186.8" cy="525.7" r="0.4"/><circle cx="192.7" cy="529.3" r="0.4"/><circle cx="186.3" cy="527.0" r="0.4"/><circle cx="189.0" cy="527.5" r="0.4"/><circle cx="188.0" cy="525.9" r="0.4"/><circle cx="186.2" cy="522.4" r="0.4"/><circle cx="191.0" cy="529.3" r="0.4"/><circle cx="190.3" cy="526.4" r="0.4"/><circle cx="188.9" cy="523.5" r="0.4"/><circle cx="181.5" cy="527.2" r="0.4"/><circle cx="188.6" cy="523.2" r="0.4"/><circle cx="184.4" cy="529.2" r="0.4"/><circle cx="181.4" cy="530.8" r="0.4"/><circle cx="190.2" cy="532.8" r="0.4"/><circle cx="185.3" cy="524.9" r="0.4"/><circle cx="186.1" cy="525.5" r="0.4"/><circle cx="187.1" cy="522.5" r="0.4"/><circle cx="191.8" cy="522.4" r="0.4"/><circle cx="186.1" cy="526.8" r="0.4"/><circle cx="186.0" cy="523.6" r="0.4"/><circle cx="189.2" cy="523.8" r="0.4"/><circle cx="183.4" cy="524.7" r="0.4"/><circle cx="187.1" cy="530.6" r="0.4"/><circle cx="184.0" cy="528.2" r="0.4"/><circle cx="185.1" cy="523.8" r="0.4"/><circle cx="186.7" cy="525.9" r="0.4"/><circle cx="191.0" cy="530.8" r="0.4"/><circle cx="185.6" cy="529.4" r="0.4"/><circle cx="191.5" cy="527.7" r="0.4"/><circle cx="185.2" cy="528.0" r="0.4"/><circle cx="187.5" cy="526.2" r="0.4"/><circle cx="186.9" cy="527.2" r="0.4"/><circle cx="191.9" cy="528.7" r="0.4"/><circle cx="187.2" cy="528.3" r="0.4"/><circle cx="193.1" cy="521.9" r="0.4"/><circle cx="193.2" cy="520.6" r="0.4"/><circle cx="189.9" cy="527.0" r="0.4"/><circle cx="193.2" cy="525.9" r="0.4"/><circle cx="186.2" cy="522.4" r="0.4"/><circle cx="183.4" cy="527.5" r="0.4"/><circle cx="187.0" cy="522.6" r="0.4"/><circle cx="189.8" cy="522.5" r="0.4"/><circle cx="186.3" cy="523.5" r="0.4"/><circle cx="193.9" cy="529.8" r="0.4"/><circle cx="187.3" cy="519.8" r="0.4"/><circle cx="188.9" cy="525.2" r="0.4"/><circle cx="189.2" cy="526.9" r="0.4"/><circle cx="186.7" cy="528.1" r="0.4"/><circle cx="190.9" cy="525.7" r="0.4"/><circle cx="186.4" cy="523.4" r="0.4"/><circle cx="190.4" cy="521.4" r="0.4"/><circle cx="187.3" cy="522.5" r="0.4"/><circle cx="182.9" cy="527.0" r="0.4"/><circle cx="187.8" cy="525.1" r="0.4"/><circle cx="191.0" cy="520.1" r="0.4"/><circle cx="187.7" cy="526.0" r="0.4"/><circle cx="190.9" cy="521.4" r="0.4"/><circle cx="190.5" cy="525.7" r="0.4"/><circle cx="192.8" cy="528.8" r="0.4"/><circle cx="189.9" cy="532.1" r="0.4"/><circle cx="187.9" cy="523.6" r="0.4"/><circle cx="186.7" cy="521.9" r="0.4"/><circle cx="187.8" cy="518.8" r="0.4"/><circle cx="187.6" cy="526.4" r="0.4"/><circle cx="191.5" cy="523.9" r="0.4"/><circle cx="192.9" cy="522.9" r="0.4"/><circle cx="187.4" cy="518.8" r="0.4"/><circle cx="185.2" cy="522.4" r="0.4"/><circle cx="193.2" cy="526.7" r="0.4"/><circle cx="184.0" cy="526.7" r="0.4"/><circle cx="189.6" cy="524.2" r="0.4"/><circle cx="188.0" cy="524.0" r="0.4"/><circle cx="186.0" cy="519.3" r="0.4"/><circle cx="187.6" cy="529.1" r="0.4"/><circle cx="192.9" cy="524.1" r="0.4"/><circle cx="185.3" cy="524.3" r="0.4"/><circle cx="191.1" cy="526.1" r="0.4"/><circle cx="185.8" cy="526.2" r="0.4"/><circle cx="187.2" cy="526.7" r="0.4"/><circle cx="186.5" cy="520.3" r="0.4"/><circle cx="188.1" cy="527.4" r="0.4"/><circle cx="184.0" cy="524.7" r="0.4"/><circle cx="191.0" cy="523.8" r="0.4"/><circle cx="185.6" cy="531.5" r="0.4"/><circle cx="190.8" cy="528.3" r="0.4"/><circle cx="184.6" cy="530.2" r="0.4"/><circle cx="182.1" cy="523.3" r="0.4"/><circle cx="190.5" cy="529.3" r="0.4"/><circle cx="184.6" cy="522.9" r="0.4"/><circle cx="188.6" cy="518.8" r="0.4"/><circle cx="190.1" cy="526.8" r="0.4"/><circle cx="186.3" cy="526.7" r="0.4"/><circle cx="190.6" cy="526.0" r="0.4"/><circle cx="189.7" cy="529.9" r="0.4"/><circle cx="186.2" cy="525.5" r="0.4"/><circle cx="186.1" cy="528.3" r="0.4"/><circle cx="186.5" cy="526.5" r="0.4"/><circle cx="188.4" cy="525.2" r="0.4"/><circle cx="193.9" cy="524.7" r="0.4"/><circle cx="192.8" cy="527.6" r="0.4"/><circle cx="192.5" cy="524.5" r="0.4"/><circle cx="191.1" cy="527.4" r="0.4"/><circle cx="185.8" cy="525.9" r="0.4"/><circle cx="187.5" cy="524.9" r="0.4"/><circle cx="192.4" cy="522.7" r="0.4"/><circle cx="182.0" cy="519.4" r="0.4"/><circle cx="186.3" cy="522.9" r="0.4"/><circle cx="187.9" cy="526.8" r="0.4"/><circle cx="194.0" cy="526.0" r="0.4"/><circle cx="189.5" cy="522.7" r="0.4"/><circle cx="189.9" cy="529.3" r="0.4"/><circle cx="192.6" cy="518.8" r="0.4"/><circle cx="191.0" cy="530.0" r="0.4"/><circle cx="190.8" cy="520.2" r="0.4"/><circle cx="186.8" cy="526.9" r="0.4"/><circle cx="189.3" cy="522.4" r="0.4"/><circle cx="184.8" cy="528.1" r="0.4"/><circle cx="183.3" cy="529.6" r="0.4"/><circle cx="188.0" cy="526.0" r="0.4"/><circle cx="183.3" cy="523.1" r="0.4"/><circle cx="190.3" cy="520.3" r="0.4"/><circle cx="195.1" cy="520.5" r="0.4"/><circle cx="183.7" cy="525.1" r="0.4"/><circle cx="189.6" cy="527.3" r="0.4"/><circle cx="186.6" cy="524.3" r="0.4"/><circle cx="187.1" cy="523.2" r="0.4"/><circle cx="179.0" cy="528.1" r="0.4"/><circle cx="188.8" cy="525.5" r="0.4"/><circle cx="185.7" cy="525.8" r="0.4"/><circle cx="187.9" cy="524.8" r="0.4"/><circle cx="191.7" cy="519.5" r="0.4"/><circle cx="188.8" cy="521.6" r="0.4"/><circle cx="186.8" cy="529.8" r="0.4"/><circle cx="184.2" cy="524.7" r="0.4"/><circle cx="185.9" cy="528.0" r="0.4"/><circle cx="184.5" cy="519.7" r="0.4"/><circle cx="189.7" cy="523.9" r="0.4"/><circle cx="186.8" cy="528.4" r="0.4"/><circle cx="184.8" cy="523.8" r="0.4"/><circle cx="188.4" cy="526.3" r="0.4"/><circle cx="186.1" cy="528.3" r="0.4"/><circle cx="195.6" cy="523.7" r="0.4"/><circle cx="194.4" cy="518.3" r="0.4"/><circle cx="192.8" cy="523.9" r="0.4"/><circle cx="188.4" cy="523.9" r="0.4"/><circle cx="185.7" cy="521.0" r="0.4"/><circle cx="186.5" cy="529.1" r="0.4"/><circle cx="191.8" cy="523.9" r="0.4"/><circle cx="186.1" cy="522.8" r="0.4"/><circle cx="183.8" cy="530.7" r="0.4"/><circle cx="190.2" cy="525.4" r="0.4"/><circle cx="186.2" cy="521.8" r="0.4"/><circle cx="192.5" cy="527.5" r="0.4"/><circle cx="184.6" cy="528.1" r="0.4"/><circle cx="184.1" cy="527.0" r="0.4"/><circle cx="184.6" cy="523.7" r="0.4"/><circle cx="189.6" cy="526.4" r="0.4"/><circle cx="191.4" cy="522.3" r="0.4"/><circle cx="193.4" cy="529.3" r="0.4"/><circle cx="187.9" cy="526.5" r="0.4"/><circle cx="185.2" cy="524.5" r="0.4"/><circle cx="183.3" cy="525.3" r="0.4"/><circle cx="188.6" cy="529.3" r="0.4"/><circle cx="191.2" cy="527.6" r="0.4"/><circle cx="186.6" cy="524.3" r="0.4"/><circle cx="186.7" cy="525.7" r="0.4"/><circle cx="181.2" cy="527.4" r="0.4"/><circle cx="182.5" cy="523.4" r="0.4"/><circle cx="188.0" cy="523.4" r="0.4"/><circle cx="193.6" cy="524.7" r="0.4"/><circle cx="193.3" cy="528.7" r="0.4"/><circle cx="186.2" cy="526.3" r="0.4"/><circle cx="192.4" cy="523.9" r="0.4"/><circle cx="188.2" cy="523.2" r="0.4"/><circle cx="188.1" cy="523.9" r="0.4"/><circle cx="188.2" cy="528.2" r="0.4"/><circle cx="192.7" cy="525.4" r="0.4"/><circle cx="188.6" cy="527.7" r="0.4"/><circle cx="186.9" cy="521.6" r="0.4"/><circle cx="191.7" cy="522.0" r="0.4"/><circle cx="191.1" cy="521.9" r="0.4"/><circle cx="194.2" cy="521.7" r="0.4"/><circle cx="190.8" cy="529.8" r="0.4"/><circle cx="184.6" cy="529.7" r="0.4"/><circle cx="185.1" cy="519.4" r="0.4"/><circle cx="190.4" cy="527.2" r="0.4"/><circle cx="187.2" cy="517.0" r="0.4"/><circle cx="187.7" cy="524.0" r="0.4"/><circle cx="186.6" cy="524.1" r="0.4"/><circle cx="181.7" cy="523.2" r="0.4"/><circle cx="194.1" cy="529.9" r="0.4"/><circle cx="186.7" cy="522.7" r="0.4"/><circle cx="189.3" cy="528.4" r="0.4"/><circle cx="190.4" cy="521.3" r="0.4"/><circle cx="188.5" cy="525.4" r="0.4"/><circle cx="192.9" cy="528.8" r="0.4"/><circle cx="189.7" cy="528.9" r="0.4"/><circle cx="186.5" cy="529.9" r="0.4"/><circle cx="186.4" cy="526.3" r="0.4"/><circle cx="191.1" cy="522.1" r="0.4"/><circle cx="185.5" cy="519.4" r="0.4"/><circle cx="188.5" cy="524.8" r="0.4"/><circle cx="186.8" cy="526.6" r="0.4"/><circle cx="180.6" cy="524.9" r="0.4"/><circle cx="188.2" cy="524.2" r="0.4"/><circle cx="190.6" cy="530.6" r="0.4"/><circle cx="186.4" cy="522.0" r="0.4"/><circle cx="185.8" cy="525.3" r="0.4"/><circle cx="189.9" cy="522.3" r="0.4"/><circle cx="191.4" cy="521.8" r="0.4"/><circle cx="190.8" cy="526.4" r="0.4"/><circle cx="189.5" cy="531.8" r="0.4"/><circle cx="187.0" cy="524.5" r="0.4"/><circle cx="189.5" cy="527.7" r="0.4"/><circle cx="183.3" cy="525.9" r="0.4"/><circle cx="185.3" cy="527.0" r="0.4"/><circle cx="192.6" cy="525.2" r="0.4"/><circle cx="187.5" cy="525.6" r="0.4"/><circle cx="177.7" cy="527.4" r="0.4"/><circle cx="189.8" cy="525.5" r="0.4"/><circle cx="186.5" cy="522.7" r="0.4"/><circle cx="187.3" cy="528.8" r="0.4"/><circle cx="187.5" cy="529.3" r="0.4"/><circle cx="179.0" cy="523.5" r="0.4"/><circle cx="188.8" cy="525.0" r="0.4"/><circle cx="182.2" cy="522.9" r="0.4"/><circle cx="192.2" cy="520.9" r="0.4"/><circle cx="184.5" cy="521.5" r="0.4"/><circle cx="186.0" cy="527.0" r="0.4"/><circle cx="190.0" cy="518.6" r="0.4"/><circle cx="192.9" cy="523.1" r="0.4"/><circle cx="185.9" cy="530.3" r="0.4"/><circle cx="187.6" cy="521.1" r="0.4"/><circle cx="185.7" cy="522.7" r="0.4"/><circle cx="184.4" cy="523.9" r="0.4"/><circle cx="190.9" cy="526.1" r="0.4"/><circle cx="183.1" cy="533.8" r="0.4"/><circle cx="184.5" cy="525.4" r="0.4"/><circle cx="188.0" cy="527.4" r="0.4"/><circle cx="186.8" cy="526.4" r="0.4"/><circle cx="195.2" cy="525.3" r="0.4"/><circle cx="184.2" cy="526.0" r="0.4"/><circle cx="185.1" cy="523.8" r="0.4"/><circle cx="188.6" cy="526.1" r="0.4"/><circle cx="186.9" cy="527.7" r="0.4"/><circle cx="187.2" cy="520.9" r="0.4"/><circle cx="190.9" cy="523.8" r="0.4"/><circle cx="192.1" cy="522.9" r="0.4"/><circle cx="189.9" cy="526.0" r="0.4"/><circle cx="178.6" cy="520.3" r="0.4"/><circle cx="184.0" cy="529.5" r="0.4"/><circle cx="181.4" cy="527.9" r="0.4"/><circle cx="191.7" cy="526.6" r="0.4"/><circle cx="190.2" cy="523.4" r="0.4"/><circle cx="187.9" cy="525.7" r="0.4"/><circle cx="189.4" cy="527.2" r="0.4"/><circle cx="187.2" cy="522.8" r="0.4"/><circle cx="186.0" cy="526.3" r="0.4"/><circle cx="182.2" cy="521.0" r="0.4"/><circle cx="186.5" cy="523.2" r="0.4"/><circle cx="187.0" cy="516.6" r="0.4"/><circle cx="186.7" cy="524.2" r="0.4"/><circle cx="190.6" cy="518.7" r="0.4"/><circle cx="186.8" cy="526.5" r="0.4"/><circle cx="189.6" cy="528.8" r="0.4"/><circle cx="191.5" cy="521.7" r="0.4"/><circle cx="190.1" cy="523.9" r="0.4"/><circle cx="185.1" cy="529.9" r="0.4"/><circle cx="185.7" cy="522.3" r="0.4"/><circle cx="186.5" cy="522.3" r="0.4"/><circle cx="191.4" cy="526.2" r="0.4"/><circle cx="192.7" cy="526.3" r="0.4"/><circle cx="185.8" cy="528.3" r="0.4"/><circle cx="185.6" cy="523.5" r="0.4"/><circle cx="187.3" cy="525.1" r="0.4"/><circle cx="192.0" cy="523.1" r="0.4"/><circle cx="189.1" cy="524.9" r="0.4"/><circle cx="183.5" cy="521.5" r="0.4"/><circle cx="187.1" cy="526.3" r="0.4"/></g>
<g fill="#000" fill-opacity="0.28"><circle cx="199.6" cy="518.0" r="0.4"/><circle cx="198.8" cy="515.3" r="0.4"/><circle cx="200.0" cy="513.7" r="0.4"/><circle cx="194.2" cy="515.6" r="0.4"/><circle cx="193.9" cy="515.1" r="0.4"/><circle cx="196.2" cy="515.0" r="0.4"/><circle cx="198.5" cy="514.3" r="0.4"/><circle cx="197.2" cy="511.7" r="0.4"/><circle cx="199.1" cy="514.1" r="0.4"/><circle cx="199.9" cy="508.4" r="0.4"/><circle cx="196.0" cy="517.3" r="0.4"/><circle cx="190.6" cy="515.6" r="0.4"/><circle cx="198.9" cy="516.9" r="0.4"/><circle cx="193.7" cy="517.3" r="0.4"/><circle cx="199.1" cy="513.8" r="0.4"/><circle cx="201.0" cy="516.5" r="0.4"/><circle cx="198.7" cy="515.3" r="0.4"/><circle cx="200.4" cy="516.9" r="0.4"/><circle cx="202.3" cy="517.9" r="0.4"/><circle cx="196.6" cy="516.0" r="0.4"/><circle cx="201.6" cy="515.5" r="0.4"/><circle cx="199.9" cy="518.1" r="0.4"/><circle cx="198.0" cy="509.9" r="0.4"/><circle cx="199.0" cy="517.2" r="0.4"/><circle cx="199.0" cy="514.4" r="0.4"/><circle cx="202.6" cy="516.2" r="0.4"/><circle cx="196.6" cy="514.5" r="0.4"/><circle cx="199.8" cy="513.4" r="0.4"/><circle cx="195.3" cy="522.4" r="0.4"/><circle cx="202.9" cy="519.7" r="0.4"/><circle cx="203.1" cy="518.3" r="0.4"/><circle cx="193.1" cy="520.1" r="0.4"/><circle cx="202.7" cy="518.0" r="0.4"/><circle cx="192.2" cy="520.2" r="0.4"/><circle cx="203.1" cy="515.2" r="0.4"/><circle cx="199.0" cy="518.9" r="0.4"/><circle cx="198.3" cy="519.8" r="0.4"/><circle cx="198.9" cy="518.6" r="0.4"/><circle cx="198.9" cy="512.3" r="0.4"/><circle cx="195.3" cy="525.8" r="0.4"/><circle cx="199.5" cy="520.4" r="0.4"/><circle cx="202.4" cy="521.6" r="0.4"/><circle cx="200.4" cy="514.9" r="0.4"/><circle cx="198.7" cy="511.0" r="0.4"/><circle cx="198.0" cy="519.2" r="0.4"/><circle cx="191.5" cy="517.2" r="0.4"/><circle cx="201.3" cy="520.5" r="0.4"/><circle cx="195.5" cy="514.7" r="0.4"/><circle cx="192.4" cy="513.6" r="0.4"/><circle cx="200.4" cy="522.6" r="0.4"/><circle cx="194.8" cy="520.6" r="0.4"/><circle cx="200.0" cy="515.2" r="0.4"/><circle cx="205.8" cy="509.3" r="0.4"/><circle cx="198.4" cy="517.2" r="0.4"/><circle cx="205.6" cy="521.8" r="0.4"/><circle cx="206.1" cy="517.0" r="0.4"/><circle cx="201.8" cy="520.6" r="0.4"/><circle cx="200.3" cy="517.6" r="0.4"/><circle cx="198.0" cy="515.4" r="0.4"/><circle cx="194.5" cy="522.3" r="0.4"/><circle cx="197.1" cy="510.5" r="0.4"/><circle cx="199.5" cy="516.5" r="0.4"/><circle cx="199.2" cy="521.9" r="0.4"/><circle cx="198.2" cy="515.8" r="0.4"/><circle cx="196.1" cy="516.5" r="0.4"/><circle cx="197.1" cy="517.2" r="0.4"/><circle cx="208.9" cy="517.7" r="0.4"/><circle cx="195.8" cy="522.2" r="0.4"/><circle cx="201.5" cy="519.0" r="0.4"/><circle cx="201.0" cy="519.0" r="0.4"/><circle cx="200.8" cy="520.7" r="0.4"/><circle cx="201.9" cy="520.5" r="0.4"/><circle cx="196.9" cy="516.6" r="0.4"/><circle cx="196.2" cy="519.4" r="0.4"/><circle cx="201.4" cy="515.2" r="0.4"/><circle cx="200.5" cy="524.3" r="0.4"/><circle cx="202.7" cy="513.3" r="0.4"/><circle cx="198.3" cy="518.5" r="0.4"/><circle cx="198.5" cy="517.7" r="0.4"/><circle cx="202.5" cy="517.6" r="0.4"/><circle cx="195.0" cy="518.7" r="0.4"/><circle cx="198.3" cy="516.9" r="0.4"/><circle cx="196.7" cy="512.6" r="0.4"/><circle cx="194.5" cy="515.6" r="0.4"/><circle cx="195.1" cy="508.7" r="0.4"/><circle cx="202.4" cy="513.2" r="0.4"/><circle cx="196.2" cy="518.2" r="0.4"/><circle cx="190.6" cy="520.5" r="0.4"/><circle cx="196.1" cy="518.5" r="0.4"/><circle cx="197.0" cy="517.5" r="0.4"/><circle cx="198.9" cy="516.6" r="0.4"/><circle cx="192.6" cy="512.3" r="0.4"/><circle cx="198.5" cy="520.7" r="0.4"/><circle cx="196.8" cy="518.2" r="0.4"/><circle cx="199.1" cy="518.0" r="0.4"/><circle cx="201.9" cy="512.2" r="0.4"/><circle cx="199.5" cy="516.1" r="0.4"/><circle cx="197.6" cy="514.1" r="0.4"/><circle cx="196.0" cy="513.6" r="0.4"/><circle cx="195.0" cy="523.9" r="0.4"/><circle cx="204.2" cy="516.6" r="0.4"/><circle cx="201.1" cy="513.7" r="0.4"/><circle cx="189.4" cy="511.3" r="0.4"/><circle cx="199.1" cy="520.8" r="0.4"/><circle cx="198.5" cy="513.7" r="0.4"/><circle cx="197.8" cy="513.7" r="0.4"/><circle cx="194.0" cy="515.9" r="0.4"/><circle cx="197.3" cy="514.2" r="0.4"/><circle cx="195.7" cy="513.9" r="0.4"/><circle cx="199.4" cy="520.7" r="0.4"/><circle cx="197.9" cy="523.1" r="0.4"/><circle cx="193.2" cy="517.4" r="0.4"/><circle cx="194.8" cy="516.1" r="0.4"/><circle cx="198.9" cy="518.2" r="0.4"/><circle cx="202.3" cy="515.0" r="0.4"/><circle cx="194.5" cy="516.0" r="0.4"/><circle cx="199.6" cy="514.6" r="0.4"/><circle cx="201.6" cy="521.5" r="0.4"/><circle cx="193.9" cy="517.7" r="0.4"/><circle cx="202.0" cy="511.0" r="0.4"/><circle cx="199.3" cy="515.9" r="0.4"/><circle cx="193.9" cy="520.4" r="0.4"/><circle cx="199.3" cy="515.2" r="0.4"/><circle cx="200.1" cy="518.5" r="0.4"/><circle cx="201.1" cy="518.3" r="0.4"/><circle cx="200.0" cy="513.2" r="0.4"/><circle cx="197.2" cy="517.0" r="0.4"/><circle cx="189.4" cy="522.8" r="0.4"/><circle cx="197.3" cy="513.5" r="0.4"/><circle cx="192.6" cy="517.3" r="0.4"/><circle cx="198.7" cy="514.9" r="0.4"/><circle cx="197.2" cy="514.0" r="0.4"/><circle cx="196.1" cy="516.3" r="0.4"/><circle cx="196.5" cy="518.6" r="0.4"/><circle cx="198.1" cy="517.0" r="0.4"/><circle cx="199.9" cy="520.3" r="0.4"/><circle cx="200.6" cy="517.3" r="0.4"/><circle cx="198.1" cy="514.2" r="0.4"/><circle cx="197.5" cy="518.6" r="0.4"/><circle cx="199.4" cy="515.5" r="0.4"/><circle cx="194.2" cy="512.1" r="0.4"/><circle cx="199.7" cy="519.6" r="0.4"/><circle cx="199.8" cy="512.6" r="0.4"/><circle cx="197.9" cy="517.2" r="0.4"/><circle cx="195.6" cy="517.6" r="0.4"/><circle cx="197.9" cy="514.2" r="0.4"/><circle cx="194.5" cy="519.0" r="0.4"/><circle cx="199.8" cy="514.0" r="0.4"/><circle cx="195.2" cy="519.2" r="0.4"/><circle cx="200.6" cy="515.7" r="0.4"/><circle cx="203.9" cy="515.8" r="0.4"/><circle cx="195.1" cy="519.8" r="0.4"/><circle cx="198.0" cy="517.6" r="0.4"/><circle cx="198.7" cy="513.7" r="0.4"/><circle cx="194.7" cy="516.0" r="0.4"/><circle cx="203.3" cy="513.7" r="0.4"/><circle cx="203.1" cy="517.2" r="0.4"/><circle cx="194.9" cy="517.4" r="0.4"/><circle cx="200.5" cy="514.0" r="0.4"/><circle cx="191.5" cy="517.6" r="0.4"/><circle cx="194.9" cy="517.9" r="0.4"/><circle cx="192.3" cy="516.2" r="0.4"/><circle cx="195.9" cy="512.3" r="0.4"/><circle cx="197.8" cy="517.1" r="0.4"/><circle cx="196.8" cy="513.2" r="0.4"/><circle cx="199.3" cy="511.5" r="0.4"/><circle cx="200.4" cy="518.0" r="0.4"/><circle cx="204.1" cy="519.2" r="0.4"/><circle cx="199.8" cy="517.4" r="0.4"/><circle cx="198.7" cy="512.7" r="0.4"/><circle cx="203.4" cy="518.1" r="0.4"/><circle cx="197.7" cy="513.3" r="0.4"/><circle cx="203.5" cy="518.2" r="0.4"/><circle cx="194.7" cy="518.6" r="0.4"/><circle cx="204.9" cy="516.5" r="0.4"/><circle cx="199.9" cy="515.4" r="0.4"/><circle cx="196.5" cy="519.7" r="0.4"/><circle cx="208.8" cy="516.9" r="0.4"/><circle cx="198.2" cy="518.9" r="0.4"/><circle cx="197.6" cy="518.7" r="0.4"/><circle cx="201.3" cy="513.6" r="0.4"/><circle cx="195.1" cy="516.4" r="0.4"/><circle cx="201.3" cy="517.4" r="0.4"/><circle cx="202.7" cy="512.6" r="0.4"/><circle cx="200.2" cy="514.8" r="0.4"/><circle cx="198.9" cy="517.5" r="0.4"/><circle cx="195.4" cy="515.9" r="0.4"/><circle cx="194.8" cy="517.4" r="0.4"/><circle cx="195.8" cy="515.2" r="0.4"/><circle cx="199.3" cy="514.7" r="0.4"/><circle cx="202.4" cy="514.7" r="0.4"/><circle cx="201.4" cy="517.4" r="0.4"/><circle cx="195.2" cy="516.0" r="0.4"/><circle cx="195.8" cy="515.5" r="0.4"/><circle cx="197.7" cy="521.9" r="0.4"/><circle cx="197.2" cy="521.2" r="0.4"/><circle cx="200.1" cy="512.8" r="0.4"/><circle cx="191.0" cy="518.6" r="0.4"/><circle cx="192.0" cy="518.7" r="0.4"/><circle cx="202.0" cy="517.7" r="0.4"/><circle cx="197.9" cy="515.9" r="0.4"/><circle cx="199.5" cy="515.7" r="0.4"/><circle cx="196.8" cy="515.5" r="0.4"/><circle cx="202.5" cy="514.8" r="0.4"/><circle cx="199.9" cy="513.3" r="0.4"/><circle cx="196.3" cy="512.6" r="0.4"/><circle cx="197.9" cy="518.6" r="0.4"/><circle cx="199.6" cy="515.2" r="0.4"/><circle cx="200.6" cy="515.6" r="0.4"/><circle cx="199.8" cy="517.4" r="0.4"/><circle cx="200.4" cy="509.4" r="0.4"/><circle cx="194.3" cy="518.8" r="0.4"/><circle cx="198.2" cy="523.1" r="0.4"/><circle cx="197.8" cy="515.0" r="0.4"/><circle cx="203.5" cy="518.2" r="0.4"/><circle cx="204.8" cy="518.1" r="0.4"/><circle cx="197.9" cy="518.7" r="0.4"/><circle cx="196.0" cy="515.3" r="0.4"/><circle cx="196.8" cy="516.0" r="0.4"/><circle cx="201.2" cy="515.2" r="0.4"/><circle cx="199.7" cy="515.2" r="0.4"/><circle cx="201.5" cy="508.6" r="0.4"/><circle cx="197.9" cy="517.1" r="0.4"/><circle cx="195.1" cy="519.5" r="0.4"/><circle cx="199.3" cy="520.3" r="0.4"/><circle cx="201.8" cy="518.5" r="0.4"/><circle cx="198.1" cy="513.4" r="0.4"/><circle cx="197.9" cy="515.3" r="0.4"/><circle cx="199.4" cy="515.3" r="0.4"/><circle cx="208.6" cy="512.0" r="0.4"/><circle cx="202.5" cy="515.2" r="0.4"/><circle cx="197.8" cy="519.3" r="0.4"/><circle cx="198.6" cy="513.1" r="0.4"/><circle cx="200.0" cy="516.0" r="0.4"/><circle cx="191.8" cy="517.2" r="0.4"/><circle cx="195.1" cy="514.4" r="0.4"/><circle cx="200.2" cy="517.5" r="0.4"/><circle cx="197.6" cy="522.9" r="0.4"/><circle cx="200.0" cy="514.8" r="0.4"/><circle cx="199.4" cy="516.2" r="0.4"/><circle cx="191.4" cy="512.0" r="0.4"/><circle cx="194.0" cy="522.6" r="0.4"/><circle cx="198.0" cy="515.8" r="0.4"/><circle cx="196.7" cy="519.4" r="0.4"/><circle cx="198.7" cy="521.5" r="0.4"/><circle cx="201.2" cy="521.4" r="0.4"/><circle cx="198.2" cy="517.7" r="0.4"/><circle cx="197.2" cy="516.1" r="0.4"/><circle cx="192.9" cy="514.9" r="0.4"/><circle cx="195.5" cy="514.7" r="0.4"/><circle cx="202.6" cy="517.4" r="0.4"/><circle cx="202.6" cy="519.1" r="0.4"/><circle cx="201.6" cy="519.5" r="0.4"/><circle cx="196.6" cy="518.9" r="0.4"/><circle cx="197.5" cy="515.1" r="0.4"/><circle cx="202.5" cy="522.9" r="0.4"/><circle cx="195.4" cy="521.6" r="0.4"/><circle cx="201.3" cy="514.1" r="0.4"/><circle cx="199.5" cy="517.7" r="0.4"/><circle cx="199.8" cy="515.6" r="0.4"/><circle cx="194.4" cy="516.7" r="0.4"/><circle cx="201.4" cy="518.9" r="0.4"/><circle cx="200.8" cy="519.8" r="0.4"/><circle cx="195.4" cy="516.5" r="0.4"/><circle cx="199.7" cy="519.5" r="0.4"/><circle cx="199.1" cy="518.1" r="0.4"/><circle cx="199.0" cy="522.7" r="0.4"/><circle cx="191.4" cy="516.5" r="0.4"/><circle cx="206.7" cy="517.3" r="0.4"/><circle cx="192.6" cy="517.0" r="0.4"/><circle cx="193.9" cy="514.6" r="0.4"/><circle cx="199.3" cy="521.6" r="0.4"/><circle cx="200.1" cy="518.5" r="0.4"/><circle cx="201.9" cy="517.2" r="0.4"/><circle cx="195.8" cy="516.3" r="0.4"/><circle cx="199.7" cy="515.8" r="0.4"/><circle cx="196.4" cy="515.6" r="0.4"/><circle cx="193.7" cy="513.6" r="0.4"/><circle cx="198.3" cy="515.6" r="0.4"/><circle cx="198.7" cy="520.7" r="0.4"/><circle cx="199.6" cy="516.5" r="0.4"/><circle cx="194.8" cy="513.5" r="0.4"/><circle cx="199.8" cy="514.1" r="0.4"/><circle cx="200.0" cy="513.5" r="0.4"/><circle cx="199.0" cy="516.4" r="0.4"/><circle cx="201.9" cy="515.5" r="0.4"/><circle cx="197.4" cy="517.3" r="0.4"/><circle cx="198.8" cy="521.5" r="0.4"/><circle cx="197.8" cy="515.1" r="0.4"/><circle cx="197.6" cy="518.0" r="0.4"/><circle cx="199.4" cy="518.6" r="0.4"/><circle cx="194.1" cy="523.8" r="0.4"/><circle cx="204.6" cy="516.5" r="0.4"/><circle cx="194.6" cy="517.0" r="0.4"/><circle cx="200.0" cy="510.2" r="0.4"/><circle cx="198.6" cy="512.3" r="0.4"/><circle cx="200.1" cy="520.6" r="0.4"/><circle cx="202.0" cy="512.3" r="0.4"/><circle cx="203.1" cy="519.2" r="0.4"/><circle cx="197.4" cy="518.0" r="0.4"/></g>
<g fill="#000" fill-opacity="0.22"><circle cx="203.9" cy="521.7" r="0.4"/><circle cx="199.5" cy="521.2" r="0.4"/><circle cx="202.8" cy="517.5" r="0.4"/><circle cx="203.6" cy="520.3" r="0.4"/><circle cx="202.2" cy="518.7" r="0.4"/><circle cx="196.8" cy="521.1" r="0.4"/><circle cx="201.9" cy="518.8" r="0.4"/><circle cx="201.2" cy="521.0" r="0.4"/><circle cx="203.1" cy="521.8" r="0.4"/><circle cx="200.9" cy="522.1" r="0.4"/><circle cx="204.7" cy="521.7" r="0.4"/><circle cx="199.4" cy="527.1" r="0.4"/><circle cx="199.7" cy="524.1" r="0.4"/><circle cx="197.4" cy="523.0" r="0.4"/><circle cx="193.0" cy="522.7" r="0.4"/><circle cx="197.6" cy="519.0" r="0.4"/><circle cx="195.4" cy="525.1" r="0.4"/><circle cx="200.7" cy="519.0" r="0.4"/><circle cx="204.7" cy="520.9" r="0.4"/><circle cx="198.4" cy="523.1" r="0.4"/><circle cx="196.2" cy="518.8" r="0.4"/><circle cx="197.3" cy="525.2" r="0.4"/><circle cx="202.2" cy="518.9" r="0.4"/><circle cx="203.0" cy="522.6" r="0.4"/><circle cx="200.9" cy="522.6" r="0.4"/><circle cx="200.7" cy="520.2" r="0.4"/><circle cx="196.9" cy="520.9" r="0.4"/><circle cx="198.4" cy="523.9" r="0.4"/><circle cx="196.0" cy="526.2" r="0.4"/><circle cx="197.7" cy="521.1" r="0.4"/><circle cx="201.5" cy="523.5" r="0.4"/><circle cx="198.5" cy="520.0" r="0.4"/><circle cx="196.6" cy="518.8" r="0.4"/><circle cx="202.8" cy="525.0" r="0.4"/><circle cx="204.9" cy="523.7" r="0.4"/><circle cx="200.5" cy="524.2" r="0.4"/><circle cx="202.2" cy="521.9" r="0.4"/><circle cx="200.5" cy="527.5" r="0.4"/><circle cx="194.6" cy="519.3" r="0.4"/><circle cx="196.7" cy="524.2" r="0.4"/><circle cx="202.9" cy="521.7" r="0.4"/><circle cx="201.4" cy="522.4" r="0.4"/><circle cx="200.4" cy="521.3" r="0.4"/><circle cx="199.4" cy="522.5" r="0.4"/><circle cx="202.8" cy="527.7" r="0.4"/><circle cx="194.3" cy="523.7" r="0.4"/><circle cx="199.5" cy="524.7" r="0.4"/><circle cx="202.6" cy="524.3" r="0.4"/><circle cx="201.8" cy="520.3" r="0.4"/><circle cx="194.6" cy="526.4" r="0.4"/><circle cx="203.0" cy="520.3" r="0.4"/><circle cx="203.2" cy="524.0" r="0.4"/><circle cx="192.4" cy="524.6" r="0.4"/><circle cx="196.6" cy="525.2" r="0.4"/><circle cx="197.5" cy="520.8" r="0.4"/><circle cx="195.0" cy="522.0" r="0.4"/><circle cx="202.4" cy="520.9" r="0.4"/><circle cx="194.1" cy="527.5" r="0.4"/><circle cx="204.8" cy="524.1" r="0.4"/><circle cx="197.9" cy="519.7" r="0.4"/><circle cx="194.8" cy="523.8" r="0.4"/><circle cx="203.3" cy="520.0" r="0.4"/><circle cx="199.5" cy="521.9" r="0.4"/><circle cx="198.8" cy="523.7" r="0.4"/><circle cx="205.5" cy="521.0" r="0.4"/><circle cx="202.0" cy="525.0" r="0.4"/><circle cx="198.7" cy="522.2" r="0.4"/><circle cx="195.6" cy="525.0" r="0.4"/><circle cx="198.0" cy="521.0" r="0.4"/><circle cx="199.7" cy="520.5" r="0.4"/><circle cx="196.5" cy="521.8" r="0.4"/><circle cx="203.8" cy="522.0" r="0.4"/><circle cx="201.0" cy="519.1" r="0.4"/><circle cx="193.9" cy="526.7" r="0.4"/><circle cx="198.3" cy="518.9" r="0.4"/><circle cx="199.2" cy="523.9" r="0.4"/><circle cx="194.5" cy="520.5" r="0.4"/><circle cx="200.3" cy="520.4" r="0.4"/><circle cx="201.8" cy="524.7" r="0.4"/><circle cx="200.8" cy="521.5" r="0.4"/><circle cx="199.4" cy="521.0" r="0.4"/><circle cx="199.1" cy="523.2" r="0.4"/><circle cx="198.6" cy="524.8" r="0.4"/><circle cx="207.0" cy="521.2" r="0.4"/><circle cx="200.5" cy="524.4" r="0.4"/><circle cx="201.4" cy="521.9" r="0.4"/><circle cx="198.1" cy="524.8" r="0.4"/><circle cx="201.3" cy="523.7" r="0.4"/><circle cx="197.2" cy="524.0" r="0.4"/><circle cx="201.8" cy="522.1" r="0.4"/><circle cx="201.4" cy="527.5" r="0.4"/><circle cx="194.1" cy="523.9" r="0.4"/><circle cx="196.1" cy="519.3" r="0.4"/><circle cx="198.8" cy="523.8" r="0.4"/><circle cx="199.7" cy="519.8" r="0.4"/><circle cx="195.3" cy="521.2" r="0.4"/><circle cx="199.5" cy="520.6" r="0.4"/><circle cx="195.1" cy="526.6" r="0.4"/><circle cx="197.1" cy="522.1" r="0.4"/><circle cx="197.9" cy="521.1" r="0.4"/><circle cx="199.6" cy="521.8" r="0.4"/><circle cx="201.3" cy="519.7" r="0.4"/><circle cx="195.2" cy="527.0" r="0.4"/><circle cx="199.3" cy="524.3" r="0.4"/><circle cx="202.9" cy="523.8" r="0.4"/><circle cx="199.6" cy="518.9" r="0.4"/><circle cx="194.9" cy="524.8" r="0.4"/><circle cx="201.5" cy="523.8" r="0.4"/><circle cx="194.7" cy="517.5" r="0.4"/><circle cx="196.4" cy="519.8" r="0.4"/><circle cx="200.0" cy="520.1" r="0.4"/><circle cx="204.1" cy="521.1" r="0.4"/><circle cx="197.9" cy="524.5" r="0.4"/><circle cx="200.5" cy="520.4" r="0.4"/><circle cx="201.9" cy="527.0" r="0.4"/><circle cx="195.9" cy="521.9" r="0.4"/><circle cx="196.4" cy="518.0" r="0.4"/><circle cx="201.3" cy="524.1" r="0.4"/><circle cx="202.3" cy="523.5" r="0.4"/><circle cx="193.6" cy="522.4" r="0.4"/></g>
<ellipse cx="187.9" cy="525" rx="3.0" ry="2.7" fill="#111" fill-opacity="0.85" filter="url(#b2)"/>
<ellipse cx="198.6" cy="516.4" rx="3.0" ry="2.5" fill="#111" fill-opacity="0.85" filter="url(#b2)"/>
<rect x="194.30" y="519.70" width="11.20" height="8.20" fill="none" stroke="#444" stroke-width="0.8"/>
<text x="204.20" y="534.06" font-size="4.6" text-anchor="start" font-weight="bold" fill="#111" stroke="#111" stroke-width="0.15">12%</text>
<rect x="220.30" y="498.80" width="39.70" height="38.70" fill="none" stroke="#6a6a6a" stroke-width="0.9"/>
<line x1="218.50" y1="503.90" x2="220.30" y2="503.90" stroke="#333" stroke-width="0.9"/>
<line x1="218.50" y1="513.50" x2="220.30" y2="513.50" stroke="#333" stroke-width="0.9"/>
<line x1="218.50" y1="522.60" x2="220.30" y2="522.60" stroke="#333" stroke-width="0.9"/>
<line x1="218.50" y1="532.20" x2="220.30" y2="532.20" stroke="#333" stroke-width="0.9"/>
<line x1="223.80" y1="537.50" x2="223.80" y2="539.10" stroke="#444" stroke-width="0.8"/>
<line x1="228.70" y1="537.50" x2="228.70" y2="539.10" stroke="#444" stroke-width="0.8"/>
<line x1="233.60" y1="537.50" x2="233.60" y2="539.10" stroke="#444" stroke-width="0.8"/>
<line x1="238.50" y1="537.50" x2="238.50" y2="539.10" stroke="#444" stroke-width="0.8"/>
<line x1="243.40" y1="537.50" x2="243.40" y2="539.10" stroke="#444" stroke-width="0.8"/>
<line x1="248.30" y1="537.50" x2="248.30" y2="539.10" stroke="#444" stroke-width="0.8"/>
<line x1="253.20" y1="537.50" x2="253.20" y2="539.10" stroke="#444" stroke-width="0.8"/>
<line x1="258.10" y1="537.50" x2="258.10" y2="539.10" stroke="#444" stroke-width="0.8"/>
<text x="239.60" y="496.81" font-size="7.8" text-anchor="middle" fill="#111" stroke="#111" stroke-width="0.15">miR-28</text>
<g fill="#000" fill-opacity="0.18"><circle cx="232.8" cy="514.1" r="0.35"/><circle cx="229.4" cy="525.5" r="0.35"/><circle cx="235.7" cy="532.5" r="0.35"/><circle cx="241.7" cy="509.9" r="0.35"/><circle cx="244.9" cy="528.3" r="0.35"/><circle cx="238.2" cy="513.9" r="0.35"/><circle cx="251.7" cy="513.3" r="0.35"/><circle cx="237.3" cy="509.9" r="0.35"/><circle cx="228.2" cy="511.1" r="0.35"/><circle cx="246.5" cy="527.9" r="0.35"/><circle cx="234.8" cy="513.1" r="0.35"/><circle cx="237.5" cy="523.2" r="0.35"/><circle cx="226.1" cy="514.2" r="0.35"/><circle cx="237.2" cy="525.1" r="0.35"/><circle cx="238.6" cy="523.6" r="0.35"/><circle cx="228.3" cy="506.4" r="0.35"/><circle cx="240.4" cy="515.6" r="0.35"/><circle cx="237.0" cy="518.8" r="0.35"/><circle cx="241.7" cy="516.5" r="0.35"/><circle cx="249.3" cy="521.2" r="0.35"/><circle cx="242.1" cy="524.7" r="0.35"/><circle cx="246.1" cy="523.4" r="0.35"/><circle cx="224.3" cy="517.3" r="0.35"/><circle cx="252.5" cy="523.8" r="0.35"/><circle cx="242.4" cy="523.7" r="0.35"/><circle cx="233.0" cy="517.0" r="0.35"/><circle cx="232.9" cy="527.8" r="0.35"/><circle cx="240.8" cy="531.4" r="0.35"/><circle cx="241.9" cy="532.1" r="0.35"/><circle cx="241.6" cy="514.1" r="0.35"/><circle cx="251.6" cy="523.0" r="0.35"/><circle cx="247.3" cy="522.3" r="0.35"/><circle cx="235.4" cy="522.0" r="0.35"/><circle cx="229.2" cy="514.0" r="0.35"/><circle cx="231.0" cy="517.9" r="0.35"/><circle cx="227.4" cy="520.4" r="0.35"/><circle cx="240.4" cy="532.9" r="0.35"/><circle cx="252.4" cy="520.7" r="0.35"/><circle cx="244.9" cy="519.7" r="0.35"/><circle cx="241.1" cy="520.8" r="0.35"/><circle cx="233.8" cy="521.4" r="0.35"/><circle cx="226.4" cy="523.6" r="0.35"/><circle cx="235.7" cy="514.6" r="0.35"/><circle cx="235.2" cy="524.3" r="0.35"/><circle cx="232.7" cy="523.8" r="0.35"/><circle cx="242.5" cy="530.2" r="0.35"/><circle cx="229.4" cy="520.3" r="0.35"/><circle cx="242.0" cy="529.9" r="0.35"/><circle cx="240.1" cy="525.5" r="0.35"/><circle cx="226.4" cy="517.6" r="0.35"/><circle cx="251.1" cy="519.3" r="0.35"/><circle cx="255.0" cy="516.7" r="0.35"/><circle cx="235.8" cy="511.6" r="0.35"/><circle cx="243.0" cy="522.6" r="0.35"/><circle cx="253.9" cy="522.0" r="0.35"/><circle cx="236.0" cy="512.7" r="0.35"/><circle cx="237.4" cy="526.6" r="0.35"/><circle cx="243.8" cy="528.3" r="0.35"/><circle cx="244.8" cy="520.7" r="0.35"/><circle cx="242.8" cy="522.0" r="0.35"/><circle cx="227.5" cy="531.1" r="0.35"/><circle cx="241.0" cy="514.8" r="0.35"/><circle cx="241.0" cy="522.7" r="0.35"/><circle cx="245.9" cy="529.6" r="0.35"/><circle cx="214.0" cy="524.3" r="0.35"/><circle cx="250.1" cy="515.4" r="0.35"/><circle cx="223.3" cy="522.7" r="0.35"/><circle cx="240.7" cy="523.1" r="0.35"/><circle cx="229.2" cy="518.2" r="0.35"/><circle cx="239.5" cy="525.4" r="0.35"/><circle cx="255.4" cy="522.7" r="0.35"/><circle cx="233.2" cy="507.0" r="0.35"/><circle cx="246.5" cy="520.2" r="0.35"/><circle cx="237.1" cy="515.1" r="0.35"/><circle cx="243.8" cy="510.3" r="0.35"/><circle cx="238.9" cy="521.7" r="0.35"/><circle cx="240.4" cy="528.8" r="0.35"/><circle cx="237.2" cy="521.6" r="0.35"/><circle cx="244.8" cy="511.8" r="0.35"/><circle cx="235.7" cy="521.4" r="0.35"/><circle cx="245.6" cy="516.2" r="0.35"/><circle cx="244.4" cy="523.3" r="0.35"/><circle cx="226.2" cy="512.2" r="0.35"/><circle cx="226.6" cy="521.8" r="0.35"/><circle cx="239.6" cy="525.3" r="0.35"/><circle cx="244.5" cy="517.7" r="0.35"/><circle cx="246.5" cy="525.9" r="0.35"/><circle cx="241.7" cy="523.9" r="0.35"/><circle cx="227.8" cy="523.2" r="0.35"/><circle cx="229.8" cy="513.9" r="0.35"/><circle cx="235.2" cy="521.8" r="0.35"/><circle cx="237.6" cy="519.0" r="0.35"/><circle cx="230.0" cy="522.1" r="0.35"/><circle cx="232.1" cy="512.6" r="0.35"/><circle cx="238.7" cy="529.7" r="0.35"/><circle cx="234.8" cy="514.7" r="0.35"/><circle cx="249.0" cy="531.2" r="0.35"/><circle cx="235.7" cy="519.7" r="0.35"/><circle cx="239.7" cy="538.6" r="0.35"/><circle cx="239.1" cy="526.9" r="0.35"/><circle cx="241.5" cy="510.1" r="0.35"/><circle cx="229.2" cy="513.6" r="0.35"/><circle cx="241.4" cy="521.6" r="0.35"/><circle cx="252.3" cy="519.4" r="0.35"/><circle cx="240.5" cy="521.4" r="0.35"/><circle cx="239.1" cy="534.8" r="0.35"/><circle cx="240.3" cy="529.8" r="0.35"/><circle cx="248.3" cy="517.4" r="0.35"/><circle cx="243.5" cy="518.7" r="0.35"/><circle cx="238.9" cy="521.9" r="0.35"/><circle cx="238.2" cy="518.2" r="0.35"/><circle cx="250.4" cy="519.4" r="0.35"/><circle cx="243.6" cy="531.0" r="0.35"/><circle cx="243.0" cy="527.1" r="0.35"/><circle cx="249.1" cy="527.5" r="0.35"/><circle cx="251.7" cy="512.5" r="0.35"/><circle cx="253.6" cy="521.2" r="0.35"/><circle cx="224.1" cy="517.2" r="0.35"/><circle cx="226.9" cy="520.9" r="0.35"/><circle cx="226.1" cy="515.0" r="0.35"/></g>
<g fill="#000" fill-opacity="0.3"><circle cx="232.6" cy="526.7" r="0.4"/><circle cx="228.2" cy="525.5" r="0.4"/><circle cx="231.0" cy="526.4" r="0.4"/><circle cx="231.4" cy="525.5" r="0.4"/><circle cx="234.9" cy="521.1" r="0.4"/><circle cx="229.4" cy="526.6" r="0.4"/><circle cx="229.8" cy="524.4" r="0.4"/><circle cx="229.7" cy="526.9" r="0.4"/><circle cx="236.4" cy="525.6" r="0.4"/><circle cx="230.3" cy="527.3" r="0.4"/><circle cx="230.4" cy="520.0" r="0.4"/><circle cx="232.5" cy="525.0" r="0.4"/><circle cx="229.1" cy="528.2" r="0.4"/><circle cx="231.6" cy="524.4" r="0.4"/><circle cx="222.7" cy="520.7" r="0.4"/><circle cx="231.5" cy="525.8" r="0.4"/><circle cx="233.2" cy="526.9" r="0.4"/><circle cx="229.5" cy="522.2" r="0.4"/><circle cx="227.0" cy="525.8" r="0.4"/><circle cx="226.8" cy="528.6" r="0.4"/><circle cx="226.1" cy="520.5" r="0.4"/><circle cx="230.6" cy="520.5" r="0.4"/><circle cx="237.9" cy="523.0" r="0.4"/><circle cx="231.2" cy="525.4" r="0.4"/><circle cx="228.1" cy="520.5" r="0.4"/><circle cx="224.0" cy="529.0" r="0.4"/><circle cx="235.5" cy="533.1" r="0.4"/><circle cx="225.6" cy="528.0" r="0.4"/><circle cx="231.3" cy="528.9" r="0.4"/><circle cx="229.3" cy="528.5" r="0.4"/><circle cx="235.0" cy="528.1" r="0.4"/><circle cx="237.2" cy="525.6" r="0.4"/><circle cx="237.6" cy="524.0" r="0.4"/><circle cx="238.1" cy="517.4" r="0.4"/><circle cx="231.5" cy="523.6" r="0.4"/><circle cx="231.4" cy="529.5" r="0.4"/><circle cx="234.3" cy="526.5" r="0.4"/><circle cx="238.2" cy="521.5" r="0.4"/><circle cx="228.1" cy="531.0" r="0.4"/><circle cx="232.7" cy="519.6" r="0.4"/><circle cx="232.8" cy="522.4" r="0.4"/><circle cx="237.3" cy="529.9" r="0.4"/><circle cx="229.2" cy="530.3" r="0.4"/><circle cx="228.1" cy="529.1" r="0.4"/><circle cx="233.7" cy="525.8" r="0.4"/><circle cx="225.7" cy="525.3" r="0.4"/><circle cx="222.2" cy="524.4" r="0.4"/><circle cx="224.0" cy="530.1" r="0.4"/><circle cx="227.5" cy="518.4" r="0.4"/><circle cx="233.7" cy="527.4" r="0.4"/><circle cx="229.4" cy="533.0" r="0.4"/><circle cx="234.5" cy="526.4" r="0.4"/><circle cx="228.8" cy="516.7" r="0.4"/><circle cx="233.3" cy="529.3" r="0.4"/><circle cx="229.0" cy="521.7" r="0.4"/><circle cx="231.2" cy="520.8" r="0.4"/><circle cx="231.4" cy="528.7" r="0.4"/><circle cx="237.4" cy="527.0" r="0.4"/><circle cx="232.2" cy="528.6" r="0.4"/><circle cx="237.0" cy="525.2" r="0.4"/><circle cx="226.5" cy="523.7" r="0.4"/><circle cx="226.4" cy="523.4" r="0.4"/><circle cx="230.9" cy="527.3" r="0.4"/><circle cx="232.0" cy="526.4" r="0.4"/><circle cx="230.0" cy="527.6" r="0.4"/><circle cx="234.9" cy="528.6" r="0.4"/><circle cx="237.4" cy="525.3" r="0.4"/><circle cx="230.4" cy="531.6" r="0.4"/><circle cx="232.2" cy="527.5" r="0.4"/><circle cx="230.1" cy="529.3" r="0.4"/><circle cx="229.8" cy="523.0" r="0.4"/><circle cx="231.2" cy="524.8" r="0.4"/><circle cx="234.7" cy="525.0" r="0.4"/><circle cx="231.9" cy="525.5" r="0.4"/><circle cx="232.8" cy="524.2" r="0.4"/><circle cx="235.8" cy="521.6" r="0.4"/><circle cx="229.9" cy="523.9" r="0.4"/><circle cx="234.0" cy="526.3" r="0.4"/><circle cx="233.3" cy="525.1" r="0.4"/><circle cx="228.5" cy="522.6" r="0.4"/><circle cx="230.1" cy="524.5" r="0.4"/><circle cx="232.5" cy="527.3" r="0.4"/><circle cx="235.3" cy="525.9" r="0.4"/><circle cx="228.4" cy="522.8" r="0.4"/><circle cx="231.6" cy="527.4" r="0.4"/><circle cx="239.2" cy="526.8" r="0.4"/><circle cx="238.4" cy="532.2" r="0.4"/><circle cx="227.2" cy="530.1" r="0.4"/><circle cx="235.9" cy="530.5" r="0.4"/><circle cx="231.4" cy="529.3" r="0.4"/><circle cx="229.5" cy="526.0" r="0.4"/><circle cx="231.5" cy="531.9" r="0.4"/><circle cx="230.5" cy="529.3" r="0.4"/><circle cx="231.7" cy="523.9" r="0.4"/><circle cx="232.4" cy="528.3" r="0.4"/><circle cx="228.6" cy="528.2" r="0.4"/><circle cx="228.6" cy="523.4" r="0.4"/><circle cx="232.3" cy="525.4" r="0.4"/><circle cx="227.5" cy="521.0" r="0.4"/><circle cx="231.5" cy="527.0" r="0.4"/><circle cx="229.6" cy="526.8" r="0.4"/><circle cx="225.3" cy="527.5" r="0.4"/><circle cx="233.1" cy="527.1" r="0.4"/><circle cx="228.9" cy="526.5" r="0.4"/><circle cx="231.9" cy="529.6" r="0.4"/><circle cx="232.5" cy="527.0" r="0.4"/><circle cx="228.5" cy="529.0" r="0.4"/><circle cx="236.1" cy="524.6" r="0.4"/><circle cx="234.0" cy="527.2" r="0.4"/><circle cx="231.2" cy="522.1" r="0.4"/><circle cx="238.4" cy="520.2" r="0.4"/><circle cx="232.6" cy="525.0" r="0.4"/><circle cx="236.0" cy="524.8" r="0.4"/><circle cx="231.6" cy="528.2" r="0.4"/><circle cx="233.2" cy="524.5" r="0.4"/><circle cx="234.1" cy="527.5" r="0.4"/><circle cx="235.4" cy="524.6" r="0.4"/><circle cx="231.2" cy="525.0" r="0.4"/><circle cx="228.1" cy="527.0" r="0.4"/><circle cx="233.0" cy="530.7" r="0.4"/><circle cx="230.1" cy="527.4" r="0.4"/><circle cx="236.0" cy="525.8" r="0.4"/><circle cx="231.7" cy="526.6" r="0.4"/><circle cx="228.6" cy="523.0" r="0.4"/><circle cx="235.9" cy="526.8" r="0.4"/><circle cx="231.1" cy="522.2" r="0.4"/><circle cx="231.9" cy="529.9" r="0.4"/><circle cx="226.8" cy="523.4" r="0.4"/><circle cx="235.8" cy="530.8" r="0.4"/><circle cx="237.6" cy="524.4" r="0.4"/><circle cx="233.8" cy="523.8" r="0.4"/><circle cx="233.5" cy="525.0" r="0.4"/><circle cx="232.2" cy="530.5" r="0.4"/><circle cx="232.7" cy="525.4" r="0.4"/><circle cx="231.6" cy="527.0" r="0.4"/><circle cx="229.4" cy="526.9" r="0.4"/><circle cx="233.8" cy="531.2" r="0.4"/><circle cx="223.2" cy="522.4" r="0.4"/><circle cx="226.5" cy="529.0" r="0.4"/><circle cx="241.1" cy="526.8" r="0.4"/><circle cx="231.9" cy="529.8" r="0.4"/><circle cx="221.7" cy="525.6" r="0.4"/><circle cx="219.0" cy="526.7" r="0.4"/><circle cx="229.4" cy="524.7" r="0.4"/><circle cx="232.8" cy="524.3" r="0.4"/><circle cx="235.8" cy="526.2" r="0.4"/><circle cx="232.9" cy="534.3" r="0.4"/><circle cx="229.6" cy="529.1" r="0.4"/><circle cx="228.1" cy="530.2" r="0.4"/><circle cx="235.2" cy="526.6" r="0.4"/><circle cx="235.3" cy="531.3" r="0.4"/><circle cx="236.9" cy="526.2" r="0.4"/><circle cx="231.2" cy="529.7" r="0.4"/><circle cx="225.6" cy="524.3" r="0.4"/><circle cx="233.3" cy="528.0" r="0.4"/><circle cx="238.8" cy="531.8" r="0.4"/><circle cx="232.7" cy="527.6" r="0.4"/><circle cx="226.2" cy="525.6" r="0.4"/><circle cx="232.4" cy="525.5" r="0.4"/><circle cx="231.6" cy="528.1" r="0.4"/><circle cx="227.6" cy="524.4" r="0.4"/><circle cx="224.4" cy="529.8" r="0.4"/><circle cx="227.2" cy="520.8" r="0.4"/><circle cx="234.5" cy="525.5" r="0.4"/><circle cx="235.2" cy="525.0" r="0.4"/><circle cx="239.8" cy="528.5" r="0.4"/><circle cx="232.0" cy="526.6" r="0.4"/><circle cx="230.6" cy="528.8" r="0.4"/><circle cx="239.3" cy="524.9" r="0.4"/><circle cx="227.1" cy="528.1" r="0.4"/><circle cx="235.6" cy="521.5" r="0.4"/><circle cx="228.7" cy="523.0" r="0.4"/><circle cx="233.6" cy="527.8" r="0.4"/><circle cx="228.5" cy="522.6" r="0.4"/><circle cx="234.1" cy="519.7" r="0.4"/><circle cx="233.9" cy="525.7" r="0.4"/><circle cx="239.0" cy="529.3" r="0.4"/><circle cx="229.1" cy="525.3" r="0.4"/><circle cx="230.3" cy="523.9" r="0.4"/><circle cx="231.7" cy="529.2" r="0.4"/><circle cx="225.5" cy="525.5" r="0.4"/><circle cx="237.3" cy="528.5" r="0.4"/><circle cx="228.2" cy="523.7" r="0.4"/><circle cx="228.0" cy="521.1" r="0.4"/><circle cx="235.9" cy="526.4" r="0.4"/><circle cx="228.7" cy="521.7" r="0.4"/><circle cx="229.9" cy="524.6" r="0.4"/><circle cx="238.2" cy="524.8" r="0.4"/><circle cx="231.9" cy="529.6" r="0.4"/><circle cx="234.0" cy="525.6" r="0.4"/><circle cx="222.8" cy="530.6" r="0.4"/><circle cx="233.8" cy="524.8" r="0.4"/><circle cx="231.1" cy="523.2" r="0.4"/><circle cx="227.9" cy="521.5" r="0.4"/><circle cx="233.4" cy="527.8" r="0.4"/><circle cx="232.1" cy="528.7" r="0.4"/><circle cx="233.5" cy="526.6" r="0.4"/><circle cx="227.9" cy="528.1" r="0.4"/><circle cx="236.1" cy="528.2" r="0.4"/><circle cx="236.3" cy="524.7" r="0.4"/><circle cx="227.6" cy="530.1" r="0.4"/><circle cx="229.1" cy="527.0" r="0.4"/><circle cx="230.7" cy="526.3" r="0.4"/><circle cx="230.3" cy="524.5" r="0.4"/><circle cx="224.4" cy="532.2" r="0.4"/><circle cx="232.2" cy="520.2" r="0.4"/><circle cx="227.8" cy="522.7" r="0.4"/><circle cx="228.5" cy="518.2" r="0.4"/><circle cx="233.7" cy="531.3" r="0.4"/><circle cx="230.4" cy="528.5" r="0.4"/><circle cx="233.8" cy="522.3" r="0.4"/><circle cx="236.2" cy="520.9" r="0.4"/><circle cx="229.1" cy="525.1" r="0.4"/><circle cx="236.3" cy="526.6" r="0.4"/><circle cx="230.9" cy="523.7" r="0.4"/><circle cx="231.8" cy="526.3" r="0.4"/><circle cx="234.3" cy="530.6" r="0.4"/><circle cx="234.3" cy="526.3" r="0.4"/><circle cx="230.8" cy="531.2" r="0.4"/><circle cx="232.2" cy="526.1" r="0.4"/><circle cx="238.4" cy="531.1" r="0.4"/><circle cx="233.6" cy="525.9" r="0.4"/><circle cx="228.9" cy="529.5" r="0.4"/><circle cx="229.6" cy="529.2" r="0.4"/><circle cx="228.3" cy="526.5" r="0.4"/><circle cx="233.0" cy="526.7" r="0.4"/><circle cx="232.3" cy="527.4" r="0.4"/><circle cx="227.0" cy="522.7" r="0.4"/><circle cx="230.8" cy="531.8" r="0.4"/><circle cx="230.9" cy="523.3" r="0.4"/><circle cx="228.8" cy="526.3" r="0.4"/><circle cx="236.0" cy="524.4" r="0.4"/><circle cx="233.6" cy="526.8" r="0.4"/><circle cx="230.0" cy="523.2" r="0.4"/><circle cx="230.8" cy="523.9" r="0.4"/><circle cx="233.5" cy="520.7" r="0.4"/><circle cx="235.8" cy="528.6" r="0.4"/><circle cx="233.7" cy="530.9" r="0.4"/><circle cx="233.8" cy="520.9" r="0.4"/><circle cx="231.6" cy="527.6" r="0.4"/><circle cx="228.7" cy="522.7" r="0.4"/><circle cx="233.1" cy="527.8" r="0.4"/><circle cx="229.7" cy="525.4" r="0.4"/><circle cx="229.4" cy="524.4" r="0.4"/><circle cx="231.2" cy="529.6" r="0.4"/><circle cx="225.1" cy="525.1" r="0.4"/><circle cx="237.7" cy="527.2" r="0.4"/><circle cx="232.0" cy="528.8" r="0.4"/><circle cx="227.5" cy="522.4" r="0.4"/><circle cx="224.9" cy="521.6" r="0.4"/><circle cx="232.4" cy="528.9" r="0.4"/><circle cx="229.8" cy="524.1" r="0.4"/><circle cx="233.0" cy="528.1" r="0.4"/><circle cx="232.4" cy="520.3" r="0.4"/><circle cx="229.3" cy="518.3" r="0.4"/><circle cx="232.3" cy="523.6" r="0.4"/><circle cx="228.8" cy="530.9" r="0.4"/><circle cx="236.6" cy="527.7" r="0.4"/><circle cx="232.5" cy="526.7" r="0.4"/><circle cx="229.1" cy="526.0" r="0.4"/><circle cx="238.8" cy="523.5" r="0.4"/><circle cx="228.8" cy="526.7" r="0.4"/><circle cx="234.9" cy="528.8" r="0.4"/><circle cx="227.6" cy="525.8" r="0.4"/><circle cx="230.4" cy="522.4" r="0.4"/><circle cx="231.7" cy="524.7" r="0.4"/><circle cx="235.0" cy="527.5" r="0.4"/><circle cx="228.4" cy="526.5" r="0.4"/><circle cx="230.0" cy="524.2" r="0.4"/><circle cx="229.5" cy="529.5" r="0.4"/><circle cx="229.8" cy="520.9" r="0.4"/><circle cx="228.4" cy="528.7" r="0.4"/><circle cx="239.8" cy="522.9" r="0.4"/><circle cx="230.0" cy="525.2" r="0.4"/><circle cx="225.9" cy="527.5" r="0.4"/><circle cx="231.2" cy="527.1" r="0.4"/><circle cx="240.1" cy="525.4" r="0.4"/><circle cx="234.5" cy="528.8" r="0.4"/><circle cx="228.9" cy="524.4" r="0.4"/><circle cx="237.5" cy="528.4" r="0.4"/><circle cx="232.0" cy="522.8" r="0.4"/><circle cx="234.8" cy="527.8" r="0.4"/><circle cx="239.9" cy="530.8" r="0.4"/><circle cx="234.5" cy="527.0" r="0.4"/><circle cx="231.6" cy="524.5" r="0.4"/><circle cx="232.6" cy="527.0" r="0.4"/><circle cx="233.9" cy="529.6" r="0.4"/><circle cx="232.6" cy="524.5" r="0.4"/><circle cx="234.5" cy="531.0" r="0.4"/><circle cx="228.2" cy="527.5" r="0.4"/><circle cx="233.5" cy="527.9" r="0.4"/><circle cx="233.4" cy="525.9" r="0.4"/><circle cx="231.0" cy="531.4" r="0.4"/><circle cx="238.1" cy="521.8" r="0.4"/><circle cx="221.5" cy="527.6" r="0.4"/><circle cx="228.8" cy="524.6" r="0.4"/><circle cx="225.2" cy="527.3" r="0.4"/><circle cx="231.2" cy="524.5" r="0.4"/><circle cx="234.9" cy="533.8" r="0.4"/><circle cx="237.1" cy="529.9" r="0.4"/><circle cx="229.8" cy="528.2" r="0.4"/><circle cx="231.3" cy="529.8" r="0.4"/><circle cx="233.7" cy="526.1" r="0.4"/><circle cx="233.5" cy="524.0" r="0.4"/><circle cx="234.5" cy="530.9" r="0.4"/><circle cx="230.0" cy="527.9" r="0.4"/><circle cx="224.9" cy="529.1" r="0.4"/><circle cx="234.8" cy="523.0" r="0.4"/><circle cx="238.2" cy="526.6" r="0.4"/><circle cx="224.7" cy="521.9" r="0.4"/><circle cx="234.8" cy="525.4" r="0.4"/><circle cx="235.7" cy="521.4" r="0.4"/><circle cx="231.0" cy="529.2" r="0.4"/><circle cx="228.8" cy="528.3" r="0.4"/><circle cx="230.0" cy="527.3" r="0.4"/><circle cx="232.7" cy="533.1" r="0.4"/><circle cx="226.6" cy="528.6" r="0.4"/><circle cx="236.5" cy="522.7" r="0.4"/><circle cx="231.7" cy="533.4" r="0.4"/><circle cx="235.5" cy="517.0" r="0.4"/><circle cx="230.5" cy="520.9" r="0.4"/><circle cx="232.6" cy="523.9" r="0.4"/><circle cx="229.2" cy="523.6" r="0.4"/><circle cx="232.5" cy="524.8" r="0.4"/><circle cx="227.9" cy="525.5" r="0.4"/><circle cx="233.0" cy="523.5" r="0.4"/><circle cx="235.7" cy="521.0" r="0.4"/><circle cx="233.0" cy="525.0" r="0.4"/><circle cx="237.5" cy="524.2" r="0.4"/><circle cx="228.8" cy="522.0" r="0.4"/><circle cx="239.1" cy="528.1" r="0.4"/><circle cx="227.2" cy="525.2" r="0.4"/><circle cx="227.7" cy="530.9" r="0.4"/><circle cx="233.0" cy="519.9" r="0.4"/><circle cx="232.2" cy="529.0" r="0.4"/><circle cx="231.4" cy="527.7" r="0.4"/><circle cx="231.0" cy="526.8" r="0.4"/><circle cx="232.2" cy="524.0" r="0.4"/><circle cx="232.8" cy="526.7" r="0.4"/><circle cx="231.3" cy="524.1" r="0.4"/><circle cx="227.5" cy="527.0" r="0.4"/><circle cx="234.6" cy="518.7" r="0.4"/><circle cx="229.3" cy="530.4" r="0.4"/><circle cx="235.0" cy="524.0" r="0.4"/><circle cx="236.7" cy="523.1" r="0.4"/><circle cx="228.3" cy="532.2" r="0.4"/><circle cx="229.7" cy="525.5" r="0.4"/><circle cx="225.0" cy="523.1" r="0.4"/><circle cx="226.8" cy="525.8" r="0.4"/><circle cx="224.3" cy="529.5" r="0.4"/><circle cx="230.0" cy="524.3" r="0.4"/><circle cx="228.9" cy="528.5" r="0.4"/><circle cx="237.4" cy="524.9" r="0.4"/><circle cx="237.7" cy="531.2" r="0.4"/><circle cx="236.6" cy="527.1" r="0.4"/><circle cx="225.6" cy="528.3" r="0.4"/><circle cx="229.8" cy="526.8" r="0.4"/><circle cx="224.1" cy="525.3" r="0.4"/><circle cx="232.3" cy="523.3" r="0.4"/><circle cx="232.5" cy="531.4" r="0.4"/><circle cx="232.3" cy="524.1" r="0.4"/><circle cx="240.7" cy="519.5" r="0.4"/><circle cx="227.8" cy="527.5" r="0.4"/><circle cx="229.1" cy="519.1" r="0.4"/><circle cx="232.4" cy="528.8" r="0.4"/><circle cx="228.3" cy="530.8" r="0.4"/><circle cx="233.3" cy="529.9" r="0.4"/><circle cx="225.5" cy="526.2" r="0.4"/><circle cx="237.6" cy="532.5" r="0.4"/><circle cx="236.5" cy="526.2" r="0.4"/><circle cx="232.1" cy="524.2" r="0.4"/><circle cx="235.7" cy="524.0" r="0.4"/><circle cx="231.9" cy="519.8" r="0.4"/><circle cx="225.5" cy="531.7" r="0.4"/><circle cx="231.6" cy="526.9" r="0.4"/><circle cx="222.8" cy="526.1" r="0.4"/><circle cx="239.5" cy="521.5" r="0.4"/><circle cx="222.1" cy="525.7" r="0.4"/><circle cx="229.3" cy="525.5" r="0.4"/><circle cx="226.5" cy="522.0" r="0.4"/></g>
<g fill="#000" fill-opacity="0.28"><circle cx="239.8" cy="519.1" r="0.4"/><circle cx="244.2" cy="519.7" r="0.4"/><circle cx="240.4" cy="518.9" r="0.4"/><circle cx="242.8" cy="517.1" r="0.4"/><circle cx="247.9" cy="516.9" r="0.4"/><circle cx="243.1" cy="510.9" r="0.4"/><circle cx="244.6" cy="519.6" r="0.4"/><circle cx="242.1" cy="516.6" r="0.4"/><circle cx="237.8" cy="512.1" r="0.4"/><circle cx="245.9" cy="521.4" r="0.4"/><circle cx="243.2" cy="510.9" r="0.4"/><circle cx="243.0" cy="511.3" r="0.4"/><circle cx="243.4" cy="523.6" r="0.4"/><circle cx="245.5" cy="516.3" r="0.4"/><circle cx="248.3" cy="515.5" r="0.4"/><circle cx="245.6" cy="517.5" r="0.4"/><circle cx="246.1" cy="511.6" r="0.4"/><circle cx="247.0" cy="519.9" r="0.4"/><circle cx="235.9" cy="507.2" r="0.4"/><circle cx="241.1" cy="522.1" r="0.4"/><circle cx="244.5" cy="519.2" r="0.4"/><circle cx="246.5" cy="519.9" r="0.4"/><circle cx="242.0" cy="514.7" r="0.4"/><circle cx="245.8" cy="519.0" r="0.4"/><circle cx="246.5" cy="518.0" r="0.4"/><circle cx="242.6" cy="520.7" r="0.4"/><circle cx="246.2" cy="520.6" r="0.4"/><circle cx="234.9" cy="520.4" r="0.4"/><circle cx="235.3" cy="517.5" r="0.4"/><circle cx="241.9" cy="517.2" r="0.4"/><circle cx="242.6" cy="515.7" r="0.4"/><circle cx="245.1" cy="518.0" r="0.4"/><circle cx="241.4" cy="507.8" r="0.4"/><circle cx="241.5" cy="518.7" r="0.4"/><circle cx="241.2" cy="518.3" r="0.4"/><circle cx="243.0" cy="513.5" r="0.4"/><circle cx="248.8" cy="522.7" r="0.4"/><circle cx="244.0" cy="516.6" r="0.4"/><circle cx="248.0" cy="512.1" r="0.4"/><circle cx="241.1" cy="520.8" r="0.4"/><circle cx="247.8" cy="515.0" r="0.4"/><circle cx="241.5" cy="518.0" r="0.4"/><circle cx="239.1" cy="515.0" r="0.4"/><circle cx="243.5" cy="508.0" r="0.4"/><circle cx="246.6" cy="519.5" r="0.4"/><circle cx="248.4" cy="511.7" r="0.4"/><circle cx="239.6" cy="513.9" r="0.4"/><circle cx="239.5" cy="524.1" r="0.4"/><circle cx="240.7" cy="515.7" r="0.4"/><circle cx="245.2" cy="518.4" r="0.4"/><circle cx="249.9" cy="512.9" r="0.4"/><circle cx="247.7" cy="517.3" r="0.4"/><circle cx="240.0" cy="517.3" r="0.4"/><circle cx="239.1" cy="522.6" r="0.4"/><circle cx="241.7" cy="520.4" r="0.4"/><circle cx="249.3" cy="514.6" r="0.4"/><circle cx="241.0" cy="517.3" r="0.4"/><circle cx="240.4" cy="520.0" r="0.4"/><circle cx="245.1" cy="514.1" r="0.4"/><circle cx="241.8" cy="519.4" r="0.4"/><circle cx="238.9" cy="522.8" r="0.4"/><circle cx="241.4" cy="516.1" r="0.4"/><circle cx="240.9" cy="522.6" r="0.4"/><circle cx="247.5" cy="521.5" r="0.4"/><circle cx="246.9" cy="517.1" r="0.4"/><circle cx="250.8" cy="519.2" r="0.4"/><circle cx="246.0" cy="518.9" r="0.4"/><circle cx="247.2" cy="517.8" r="0.4"/><circle cx="243.8" cy="511.1" r="0.4"/><circle cx="252.2" cy="512.1" r="0.4"/><circle cx="236.3" cy="514.2" r="0.4"/><circle cx="251.7" cy="521.2" r="0.4"/><circle cx="242.1" cy="517.7" r="0.4"/><circle cx="244.3" cy="509.7" r="0.4"/><circle cx="243.1" cy="517.8" r="0.4"/><circle cx="248.8" cy="512.5" r="0.4"/><circle cx="235.9" cy="511.1" r="0.4"/><circle cx="245.7" cy="517.1" r="0.4"/><circle cx="245.0" cy="517.3" r="0.4"/><circle cx="243.0" cy="511.9" r="0.4"/><circle cx="246.1" cy="518.2" r="0.4"/><circle cx="246.6" cy="521.3" r="0.4"/><circle cx="239.7" cy="508.4" r="0.4"/><circle cx="237.6" cy="524.5" r="0.4"/><circle cx="240.9" cy="518.2" r="0.4"/><circle cx="244.3" cy="519.4" r="0.4"/><circle cx="256.6" cy="514.9" r="0.4"/><circle cx="243.8" cy="514.7" r="0.4"/><circle cx="245.3" cy="518.7" r="0.4"/><circle cx="240.7" cy="521.5" r="0.4"/><circle cx="248.8" cy="518.4" r="0.4"/><circle cx="244.0" cy="515.9" r="0.4"/><circle cx="238.2" cy="519.2" r="0.4"/><circle cx="240.7" cy="515.0" r="0.4"/><circle cx="248.2" cy="513.5" r="0.4"/><circle cx="242.4" cy="519.9" r="0.4"/><circle cx="251.5" cy="514.3" r="0.4"/><circle cx="248.6" cy="514.4" r="0.4"/><circle cx="245.9" cy="518.5" r="0.4"/><circle cx="240.1" cy="520.5" r="0.4"/><circle cx="251.2" cy="517.0" r="0.4"/><circle cx="245.4" cy="512.6" r="0.4"/><circle cx="251.2" cy="517.0" r="0.4"/><circle cx="239.6" cy="519.6" r="0.4"/><circle cx="238.8" cy="514.3" r="0.4"/><circle cx="236.3" cy="521.8" r="0.4"/><circle cx="252.8" cy="514.5" r="0.4"/><circle cx="241.9" cy="514.7" r="0.4"/><circle cx="242.3" cy="518.8" r="0.4"/><circle cx="249.9" cy="513.2" r="0.4"/><circle cx="246.1" cy="510.3" r="0.4"/><circle cx="250.2" cy="516.5" r="0.4"/><circle cx="241.7" cy="522.3" r="0.4"/><circle cx="244.0" cy="521.7" r="0.4"/><circle cx="248.5" cy="522.8" r="0.4"/><circle cx="241.4" cy="517.0" r="0.4"/><circle cx="245.8" cy="516.1" r="0.4"/><circle cx="250.2" cy="514.2" r="0.4"/><circle cx="248.2" cy="521.7" r="0.4"/><circle cx="237.0" cy="513.3" r="0.4"/><circle cx="241.0" cy="514.8" r="0.4"/><circle cx="245.9" cy="516.2" r="0.4"/><circle cx="244.7" cy="515.1" r="0.4"/><circle cx="244.1" cy="518.5" r="0.4"/><circle cx="247.2" cy="514.0" r="0.4"/><circle cx="244.0" cy="514.1" r="0.4"/><circle cx="243.7" cy="511.6" r="0.4"/><circle cx="248.0" cy="519.2" r="0.4"/><circle cx="243.9" cy="514.3" r="0.4"/><circle cx="242.7" cy="514.4" r="0.4"/><circle cx="238.5" cy="522.7" r="0.4"/><circle cx="256.9" cy="512.4" r="0.4"/><circle cx="240.0" cy="518.9" r="0.4"/><circle cx="246.7" cy="511.1" r="0.4"/><circle cx="237.1" cy="518.8" r="0.4"/><circle cx="236.8" cy="521.9" r="0.4"/><circle cx="242.5" cy="517.1" r="0.4"/><circle cx="244.4" cy="514.8" r="0.4"/><circle cx="243.9" cy="515.7" r="0.4"/><circle cx="249.1" cy="516.5" r="0.4"/><circle cx="244.3" cy="514.9" r="0.4"/><circle cx="242.0" cy="514.1" r="0.4"/><circle cx="244.4" cy="523.4" r="0.4"/><circle cx="248.6" cy="517.7" r="0.4"/><circle cx="250.7" cy="520.4" r="0.4"/><circle cx="245.2" cy="516.2" r="0.4"/><circle cx="240.2" cy="517.7" r="0.4"/><circle cx="243.2" cy="511.1" r="0.4"/><circle cx="239.5" cy="523.8" r="0.4"/><circle cx="245.2" cy="518.6" r="0.4"/><circle cx="245.2" cy="515.1" r="0.4"/><circle cx="246.2" cy="520.7" r="0.4"/><circle cx="243.2" cy="518.6" r="0.4"/><circle cx="248.3" cy="515.1" r="0.4"/><circle cx="245.0" cy="514.1" r="0.4"/><circle cx="246.7" cy="515.5" r="0.4"/><circle cx="248.8" cy="514.0" r="0.4"/><circle cx="250.8" cy="515.7" r="0.4"/><circle cx="241.2" cy="513.5" r="0.4"/><circle cx="246.9" cy="513.7" r="0.4"/><circle cx="251.3" cy="521.4" r="0.4"/><circle cx="246.4" cy="511.7" r="0.4"/><circle cx="244.3" cy="514.2" r="0.4"/><circle cx="237.5" cy="518.3" r="0.4"/><circle cx="252.8" cy="514.9" r="0.4"/><circle cx="247.5" cy="521.4" r="0.4"/><circle cx="240.7" cy="515.6" r="0.4"/><circle cx="245.4" cy="518.5" r="0.4"/><circle cx="240.0" cy="517.6" r="0.4"/><circle cx="244.0" cy="520.2" r="0.4"/><circle cx="238.3" cy="514.8" r="0.4"/><circle cx="242.5" cy="515.7" r="0.4"/><circle cx="247.1" cy="514.5" r="0.4"/><circle cx="254.8" cy="514.3" r="0.4"/><circle cx="247.6" cy="520.5" r="0.4"/><circle cx="248.1" cy="516.1" r="0.4"/><circle cx="241.2" cy="515.9" r="0.4"/><circle cx="246.9" cy="517.2" r="0.4"/><circle cx="246.6" cy="518.9" r="0.4"/><circle cx="241.0" cy="513.4" r="0.4"/><circle cx="249.9" cy="515.1" r="0.4"/><circle cx="238.4" cy="523.5" r="0.4"/><circle cx="241.2" cy="513.4" r="0.4"/><circle cx="248.1" cy="512.7" r="0.4"/><circle cx="241.1" cy="520.6" r="0.4"/><circle cx="241.3" cy="525.8" r="0.4"/><circle cx="244.8" cy="526.5" r="0.4"/><circle cx="244.9" cy="517.0" r="0.4"/><circle cx="242.0" cy="516.0" r="0.4"/><circle cx="242.5" cy="516.7" r="0.4"/><circle cx="247.3" cy="512.2" r="0.4"/><circle cx="240.9" cy="509.3" r="0.4"/><circle cx="250.1" cy="516.5" r="0.4"/><circle cx="244.3" cy="516.6" r="0.4"/><circle cx="248.2" cy="518.0" r="0.4"/><circle cx="247.6" cy="516.2" r="0.4"/><circle cx="243.9" cy="516.6" r="0.4"/><circle cx="237.3" cy="520.7" r="0.4"/><circle cx="238.4" cy="513.2" r="0.4"/><circle cx="246.9" cy="517.0" r="0.4"/><circle cx="247.5" cy="522.9" r="0.4"/><circle cx="251.5" cy="521.8" r="0.4"/><circle cx="243.5" cy="524.2" r="0.4"/><circle cx="241.1" cy="516.5" r="0.4"/><circle cx="248.2" cy="516.0" r="0.4"/><circle cx="243.9" cy="515.5" r="0.4"/><circle cx="249.6" cy="507.9" r="0.4"/><circle cx="249.2" cy="520.6" r="0.4"/><circle cx="244.1" cy="518.8" r="0.4"/><circle cx="240.7" cy="520.8" r="0.4"/><circle cx="256.0" cy="513.5" r="0.4"/><circle cx="249.7" cy="516.6" r="0.4"/><circle cx="243.1" cy="515.0" r="0.4"/><circle cx="243.7" cy="512.3" r="0.4"/><circle cx="239.2" cy="522.8" r="0.4"/><circle cx="244.3" cy="518.8" r="0.4"/><circle cx="245.6" cy="518.5" r="0.4"/><circle cx="238.6" cy="513.4" r="0.4"/><circle cx="246.8" cy="520.4" r="0.4"/><circle cx="240.1" cy="514.7" r="0.4"/><circle cx="240.3" cy="519.2" r="0.4"/><circle cx="245.7" cy="516.9" r="0.4"/><circle cx="241.9" cy="518.0" r="0.4"/><circle cx="244.5" cy="514.1" r="0.4"/><circle cx="245.7" cy="514.4" r="0.4"/><circle cx="248.0" cy="519.1" r="0.4"/><circle cx="241.8" cy="518.9" r="0.4"/><circle cx="244.7" cy="514.3" r="0.4"/><circle cx="240.9" cy="510.8" r="0.4"/><circle cx="240.1" cy="518.0" r="0.4"/><circle cx="249.0" cy="514.5" r="0.4"/><circle cx="245.0" cy="518.0" r="0.4"/><circle cx="247.4" cy="518.4" r="0.4"/><circle cx="249.1" cy="519.6" r="0.4"/><circle cx="241.5" cy="518.2" r="0.4"/><circle cx="235.5" cy="516.2" r="0.4"/><circle cx="244.5" cy="518.9" r="0.4"/><circle cx="243.3" cy="519.8" r="0.4"/><circle cx="249.4" cy="513.8" r="0.4"/><circle cx="242.3" cy="517.7" r="0.4"/><circle cx="246.3" cy="517.3" r="0.4"/><circle cx="247.6" cy="512.5" r="0.4"/><circle cx="247.3" cy="521.0" r="0.4"/><circle cx="248.6" cy="518.3" r="0.4"/><circle cx="243.5" cy="518.2" r="0.4"/><circle cx="244.1" cy="511.1" r="0.4"/><circle cx="242.1" cy="516.7" r="0.4"/><circle cx="242.4" cy="513.4" r="0.4"/><circle cx="243.5" cy="515.5" r="0.4"/><circle cx="244.7" cy="516.6" r="0.4"/><circle cx="245.1" cy="520.4" r="0.4"/><circle cx="244.9" cy="518.3" r="0.4"/><circle cx="239.8" cy="506.2" r="0.4"/><circle cx="242.9" cy="519.2" r="0.4"/><circle cx="243.1" cy="514.6" r="0.4"/><circle cx="239.7" cy="520.0" r="0.4"/><circle cx="242.4" cy="517.7" r="0.4"/><circle cx="248.7" cy="518.7" r="0.4"/><circle cx="252.9" cy="516.3" r="0.4"/><circle cx="248.0" cy="519.3" r="0.4"/><circle cx="241.9" cy="517.0" r="0.4"/><circle cx="242.3" cy="513.1" r="0.4"/><circle cx="245.5" cy="514.0" r="0.4"/><circle cx="250.8" cy="514.1" r="0.4"/><circle cx="242.3" cy="517.1" r="0.4"/><circle cx="242.4" cy="517.0" r="0.4"/><circle cx="242.1" cy="511.7" r="0.4"/><circle cx="235.2" cy="512.2" r="0.4"/><circle cx="250.2" cy="518.4" r="0.4"/><circle cx="245.0" cy="515.1" r="0.4"/><circle cx="243.8" cy="517.9" r="0.4"/><circle cx="239.1" cy="513.9" r="0.4"/><circle cx="241.0" cy="521.3" r="0.4"/><circle cx="240.4" cy="521.0" r="0.4"/><circle cx="242.6" cy="526.6" r="0.4"/><circle cx="244.1" cy="516.9" r="0.4"/><circle cx="249.5" cy="519.9" r="0.4"/><circle cx="248.0" cy="513.0" r="0.4"/><circle cx="248.7" cy="522.8" r="0.4"/><circle cx="244.0" cy="515.1" r="0.4"/><circle cx="240.3" cy="520.5" r="0.4"/><circle cx="245.5" cy="516.8" r="0.4"/><circle cx="239.7" cy="522.6" r="0.4"/><circle cx="247.7" cy="516.7" r="0.4"/><circle cx="250.0" cy="513.4" r="0.4"/><circle cx="247.8" cy="513.2" r="0.4"/><circle cx="249.8" cy="515.8" r="0.4"/><circle cx="249.0" cy="515.3" r="0.4"/><circle cx="245.9" cy="520.9" r="0.4"/><circle cx="241.0" cy="517.1" r="0.4"/><circle cx="241.2" cy="519.9" r="0.4"/><circle cx="242.1" cy="515.5" r="0.4"/><circle cx="243.6" cy="521.0" r="0.4"/><circle cx="240.4" cy="516.7" r="0.4"/><circle cx="243.2" cy="514.8" r="0.4"/><circle cx="241.4" cy="516.2" r="0.4"/><circle cx="245.1" cy="511.2" r="0.4"/><circle cx="245.3" cy="512.5" r="0.4"/><circle cx="244.5" cy="525.0" r="0.4"/><circle cx="240.7" cy="516.6" r="0.4"/><circle cx="243.4" cy="520.3" r="0.4"/><circle cx="242.6" cy="510.4" r="0.4"/><circle cx="238.3" cy="517.4" r="0.4"/><circle cx="245.4" cy="520.6" r="0.4"/><circle cx="242.4" cy="519.2" r="0.4"/><circle cx="240.4" cy="521.5" r="0.4"/><circle cx="244.1" cy="514.4" r="0.4"/><circle cx="245.1" cy="523.1" r="0.4"/><circle cx="241.2" cy="512.3" r="0.4"/><circle cx="240.5" cy="512.6" r="0.4"/><circle cx="244.2" cy="518.1" r="0.4"/><circle cx="243.8" cy="517.5" r="0.4"/><circle cx="248.9" cy="515.8" r="0.4"/><circle cx="239.6" cy="508.6" r="0.4"/><circle cx="245.3" cy="514.4" r="0.4"/><circle cx="243.5" cy="518.3" r="0.4"/><circle cx="246.2" cy="511.2" r="0.4"/><circle cx="240.8" cy="517.1" r="0.4"/><circle cx="243.9" cy="520.9" r="0.4"/><circle cx="242.5" cy="509.4" r="0.4"/><circle cx="248.8" cy="510.9" r="0.4"/><circle cx="240.7" cy="518.2" r="0.4"/><circle cx="240.4" cy="525.8" r="0.4"/><circle cx="245.3" cy="518.7" r="0.4"/><circle cx="242.7" cy="524.8" r="0.4"/><circle cx="246.5" cy="514.2" r="0.4"/><circle cx="249.2" cy="510.7" r="0.4"/><circle cx="242.2" cy="517.8" r="0.4"/><circle cx="244.9" cy="513.3" r="0.4"/><circle cx="250.4" cy="522.1" r="0.4"/><circle cx="240.8" cy="518.1" r="0.4"/><circle cx="242.0" cy="515.2" r="0.4"/><circle cx="248.1" cy="517.3" r="0.4"/><circle cx="244.0" cy="517.2" r="0.4"/><circle cx="239.9" cy="521.2" r="0.4"/><circle cx="241.5" cy="521.5" r="0.4"/><circle cx="242.7" cy="515.2" r="0.4"/><circle cx="250.0" cy="517.5" r="0.4"/><circle cx="242.0" cy="514.9" r="0.4"/><circle cx="246.7" cy="523.5" r="0.4"/><circle cx="246.7" cy="515.4" r="0.4"/><circle cx="240.1" cy="514.4" r="0.4"/><circle cx="243.9" cy="517.7" r="0.4"/><circle cx="241.9" cy="521.4" r="0.4"/><circle cx="240.8" cy="514.2" r="0.4"/><circle cx="246.3" cy="518.5" r="0.4"/><circle cx="242.9" cy="520.3" r="0.4"/><circle cx="239.0" cy="522.7" r="0.4"/><circle cx="252.7" cy="523.8" r="0.4"/><circle cx="244.9" cy="523.9" r="0.4"/><circle cx="244.6" cy="521.6" r="0.4"/><circle cx="243.6" cy="517.5" r="0.4"/><circle cx="246.4" cy="510.5" r="0.4"/><circle cx="243.6" cy="523.0" r="0.4"/><circle cx="233.3" cy="518.2" r="0.4"/><circle cx="247.9" cy="518.0" r="0.4"/><circle cx="245.1" cy="521.8" r="0.4"/><circle cx="245.7" cy="510.0" r="0.4"/><circle cx="240.8" cy="515.7" r="0.4"/><circle cx="244.9" cy="515.2" r="0.4"/><circle cx="244.0" cy="522.8" r="0.4"/><circle cx="233.3" cy="520.9" r="0.4"/><circle cx="248.0" cy="519.0" r="0.4"/><circle cx="244.5" cy="517.0" r="0.4"/><circle cx="245.8" cy="517.7" r="0.4"/><circle cx="241.7" cy="519.6" r="0.4"/><circle cx="241.3" cy="516.7" r="0.4"/><circle cx="243.0" cy="512.7" r="0.4"/><circle cx="246.7" cy="516.6" r="0.4"/><circle cx="240.0" cy="516.5" r="0.4"/><circle cx="239.2" cy="522.0" r="0.4"/><circle cx="246.4" cy="523.9" r="0.4"/><circle cx="242.2" cy="519.3" r="0.4"/><circle cx="240.7" cy="513.7" r="0.4"/><circle cx="244.1" cy="518.3" r="0.4"/><circle cx="247.9" cy="515.8" r="0.4"/><circle cx="248.6" cy="520.3" r="0.4"/><circle cx="241.1" cy="516.2" r="0.4"/><circle cx="240.9" cy="522.9" r="0.4"/><circle cx="242.3" cy="520.0" r="0.4"/></g>
<g fill="#000" fill-opacity="0.28"><circle cx="241.5" cy="517.8" r="0.4"/><circle cx="236.4" cy="523.8" r="0.4"/><circle cx="233.0" cy="522.1" r="0.4"/><circle cx="234.4" cy="525.5" r="0.4"/><circle cx="241.3" cy="523.8" r="0.4"/><circle cx="231.1" cy="528.8" r="0.4"/><circle cx="234.8" cy="527.5" r="0.4"/><circle cx="241.1" cy="519.3" r="0.4"/><circle cx="243.7" cy="515.7" r="0.4"/><circle cx="234.3" cy="521.6" r="0.4"/><circle cx="235.4" cy="524.0" r="0.4"/><circle cx="242.6" cy="521.3" r="0.4"/><circle cx="235.8" cy="521.2" r="0.4"/><circle cx="236.0" cy="522.0" r="0.4"/><circle cx="235.5" cy="522.5" r="0.4"/><circle cx="234.3" cy="524.5" r="0.4"/><circle cx="235.6" cy="523.0" r="0.4"/><circle cx="232.4" cy="526.6" r="0.4"/><circle cx="241.3" cy="520.6" r="0.4"/><circle cx="234.1" cy="521.5" r="0.4"/><circle cx="230.9" cy="524.1" r="0.4"/><circle cx="234.9" cy="523.2" r="0.4"/><circle cx="231.5" cy="528.9" r="0.4"/><circle cx="230.6" cy="525.8" r="0.4"/><circle cx="236.2" cy="525.4" r="0.4"/><circle cx="245.2" cy="514.4" r="0.4"/><circle cx="236.3" cy="521.8" r="0.4"/><circle cx="236.9" cy="521.9" r="0.4"/><circle cx="246.8" cy="511.0" r="0.4"/><circle cx="236.4" cy="520.6" r="0.4"/><circle cx="238.8" cy="519.4" r="0.4"/><circle cx="238.9" cy="517.7" r="0.4"/><circle cx="247.1" cy="514.4" r="0.4"/><circle cx="231.6" cy="528.9" r="0.4"/><circle cx="234.4" cy="521.2" r="0.4"/><circle cx="239.1" cy="519.1" r="0.4"/><circle cx="240.3" cy="518.0" r="0.4"/><circle cx="242.0" cy="518.6" r="0.4"/><circle cx="239.7" cy="520.5" r="0.4"/><circle cx="236.0" cy="522.2" r="0.4"/><circle cx="240.9" cy="521.1" r="0.4"/><circle cx="239.4" cy="526.7" r="0.4"/><circle cx="243.4" cy="513.7" r="0.4"/><circle cx="242.4" cy="517.6" r="0.4"/><circle cx="237.9" cy="519.4" r="0.4"/><circle cx="243.7" cy="514.3" r="0.4"/><circle cx="236.6" cy="520.6" r="0.4"/><circle cx="247.8" cy="516.8" r="0.4"/><circle cx="231.9" cy="525.4" r="0.4"/><circle cx="238.9" cy="519.5" r="0.4"/><circle cx="235.0" cy="521.0" r="0.4"/><circle cx="237.5" cy="518.8" r="0.4"/><circle cx="244.8" cy="522.6" r="0.4"/><circle cx="238.9" cy="525.4" r="0.4"/><circle cx="238.6" cy="519.1" r="0.4"/><circle cx="235.2" cy="521.1" r="0.4"/><circle cx="239.5" cy="522.3" r="0.4"/><circle cx="241.5" cy="517.8" r="0.4"/><circle cx="232.9" cy="525.5" r="0.4"/><circle cx="245.3" cy="516.1" r="0.4"/><circle cx="234.8" cy="518.3" r="0.4"/><circle cx="237.0" cy="523.9" r="0.4"/><circle cx="236.0" cy="527.0" r="0.4"/><circle cx="234.4" cy="522.0" r="0.4"/><circle cx="235.5" cy="523.4" r="0.4"/><circle cx="241.4" cy="517.1" r="0.4"/><circle cx="230.5" cy="527.6" r="0.4"/><circle cx="242.3" cy="522.2" r="0.4"/><circle cx="235.4" cy="527.9" r="0.4"/><circle cx="241.4" cy="519.9" r="0.4"/><circle cx="233.6" cy="522.7" r="0.4"/><circle cx="235.3" cy="526.4" r="0.4"/><circle cx="240.4" cy="522.5" r="0.4"/><circle cx="245.6" cy="515.2" r="0.4"/><circle cx="240.5" cy="524.8" r="0.4"/><circle cx="232.0" cy="525.3" r="0.4"/><circle cx="235.9" cy="522.2" r="0.4"/><circle cx="237.4" cy="519.6" r="0.4"/><circle cx="240.9" cy="515.2" r="0.4"/><circle cx="232.3" cy="521.6" r="0.4"/><circle cx="233.0" cy="527.4" r="0.4"/><circle cx="240.3" cy="519.0" r="0.4"/><circle cx="242.4" cy="519.6" r="0.4"/><circle cx="235.6" cy="523.5" r="0.4"/><circle cx="242.3" cy="523.5" r="0.4"/><circle cx="236.7" cy="523.7" r="0.4"/><circle cx="242.0" cy="521.6" r="0.4"/><circle cx="241.3" cy="521.8" r="0.4"/><circle cx="233.2" cy="524.8" r="0.4"/><circle cx="229.9" cy="528.2" r="0.4"/><circle cx="248.0" cy="513.8" r="0.4"/><circle cx="238.7" cy="521.6" r="0.4"/><circle cx="236.8" cy="518.8" r="0.4"/><circle cx="234.9" cy="523.6" r="0.4"/><circle cx="237.5" cy="519.5" r="0.4"/><circle cx="236.6" cy="520.7" r="0.4"/><circle cx="231.6" cy="525.0" r="0.4"/><circle cx="235.8" cy="525.7" r="0.4"/><circle cx="244.4" cy="517.8" r="0.4"/><circle cx="236.4" cy="521.3" r="0.4"/><circle cx="230.8" cy="526.1" r="0.4"/><circle cx="246.1" cy="518.0" r="0.4"/><circle cx="238.6" cy="520.3" r="0.4"/><circle cx="238.6" cy="522.2" r="0.4"/><circle cx="238.6" cy="522.2" r="0.4"/><circle cx="234.9" cy="524.3" r="0.4"/><circle cx="238.0" cy="524.5" r="0.4"/><circle cx="234.7" cy="528.0" r="0.4"/><circle cx="237.0" cy="521.0" r="0.4"/><circle cx="238.3" cy="521.6" r="0.4"/><circle cx="237.6" cy="523.0" r="0.4"/><circle cx="233.3" cy="520.7" r="0.4"/><circle cx="240.9" cy="519.0" r="0.4"/><circle cx="245.4" cy="516.3" r="0.4"/><circle cx="231.5" cy="530.5" r="0.4"/><circle cx="235.9" cy="524.8" r="0.4"/><circle cx="248.7" cy="515.6" r="0.4"/><circle cx="233.4" cy="525.2" r="0.4"/><circle cx="232.3" cy="528.2" r="0.4"/><circle cx="238.9" cy="517.9" r="0.4"/><circle cx="241.2" cy="521.5" r="0.4"/><circle cx="240.4" cy="517.6" r="0.4"/><circle cx="233.6" cy="522.1" r="0.4"/><circle cx="233.1" cy="526.5" r="0.4"/><circle cx="240.0" cy="523.5" r="0.4"/><circle cx="238.7" cy="520.0" r="0.4"/><circle cx="234.2" cy="529.0" r="0.4"/><circle cx="238.6" cy="520.9" r="0.4"/><circle cx="232.4" cy="523.3" r="0.4"/><circle cx="239.3" cy="517.7" r="0.4"/><circle cx="241.3" cy="520.5" r="0.4"/><circle cx="234.2" cy="520.2" r="0.4"/><circle cx="241.6" cy="522.4" r="0.4"/><circle cx="232.9" cy="522.3" r="0.4"/><circle cx="242.7" cy="518.0" r="0.4"/><circle cx="237.1" cy="525.7" r="0.4"/><circle cx="237.5" cy="523.2" r="0.4"/><circle cx="235.3" cy="521.7" r="0.4"/><circle cx="237.7" cy="519.3" r="0.4"/><circle cx="229.9" cy="526.8" r="0.4"/><circle cx="244.6" cy="519.0" r="0.4"/><circle cx="248.4" cy="515.6" r="0.4"/><circle cx="245.0" cy="516.3" r="0.4"/><circle cx="236.9" cy="523.8" r="0.4"/><circle cx="235.1" cy="526.0" r="0.4"/><circle cx="236.5" cy="523.5" r="0.4"/><circle cx="234.3" cy="524.3" r="0.4"/><circle cx="241.8" cy="517.8" r="0.4"/><circle cx="235.6" cy="524.3" r="0.4"/><circle cx="241.4" cy="518.1" r="0.4"/><circle cx="231.0" cy="523.0" r="0.4"/><circle cx="234.0" cy="527.9" r="0.4"/><circle cx="238.3" cy="522.6" r="0.4"/><circle cx="242.8" cy="518.2" r="0.4"/><circle cx="239.3" cy="519.0" r="0.4"/><circle cx="232.2" cy="528.1" r="0.4"/><circle cx="238.4" cy="522.8" r="0.4"/><circle cx="233.4" cy="525.0" r="0.4"/><circle cx="245.2" cy="513.1" r="0.4"/><circle cx="240.2" cy="523.3" r="0.4"/></g>
<g fill="#000" fill-opacity="0.22"><circle cx="244.8" cy="522.8" r="0.4"/><circle cx="238.8" cy="524.5" r="0.4"/><circle cx="244.1" cy="525.8" r="0.4"/><circle cx="245.2" cy="521.6" r="0.4"/><circle cx="246.9" cy="521.9" r="0.4"/><circle cx="243.9" cy="526.4" r="0.4"/><circle cx="248.6" cy="522.8" r="0.4"/><circle cx="248.0" cy="524.6" r="0.4"/><circle cx="247.3" cy="522.6" r="0.4"/><circle cx="245.7" cy="523.6" r="0.4"/><circle cx="247.3" cy="523.4" r="0.4"/><circle cx="243.8" cy="522.3" r="0.4"/><circle cx="246.9" cy="520.1" r="0.4"/><circle cx="245.5" cy="524.4" r="0.4"/><circle cx="246.0" cy="521.8" r="0.4"/><circle cx="245.4" cy="521.3" r="0.4"/><circle cx="248.6" cy="521.6" r="0.4"/><circle cx="240.3" cy="519.5" r="0.4"/><circle cx="246.4" cy="523.1" r="0.4"/><circle cx="244.0" cy="519.3" r="0.4"/><circle cx="245.0" cy="520.4" r="0.4"/><circle cx="243.4" cy="522.5" r="0.4"/><circle cx="243.1" cy="523.3" r="0.4"/><circle cx="243.2" cy="521.4" r="0.4"/><circle cx="244.8" cy="526.2" r="0.4"/><circle cx="250.4" cy="524.9" r="0.4"/><circle cx="243.2" cy="522.5" r="0.4"/><circle cx="248.4" cy="524.5" r="0.4"/><circle cx="240.4" cy="522.4" r="0.4"/><circle cx="243.2" cy="524.4" r="0.4"/><circle cx="247.5" cy="521.2" r="0.4"/><circle cx="252.2" cy="521.8" r="0.4"/><circle cx="253.2" cy="522.1" r="0.4"/><circle cx="245.2" cy="527.3" r="0.4"/><circle cx="243.9" cy="521.4" r="0.4"/><circle cx="250.1" cy="522.4" r="0.4"/><circle cx="247.0" cy="519.4" r="0.4"/><circle cx="251.1" cy="525.0" r="0.4"/><circle cx="246.6" cy="524.3" r="0.4"/><circle cx="243.9" cy="521.4" r="0.4"/><circle cx="240.6" cy="523.5" r="0.4"/><circle cx="249.4" cy="524.7" r="0.4"/><circle cx="248.4" cy="524.3" r="0.4"/><circle cx="242.6" cy="519.3" r="0.4"/><circle cx="247.5" cy="523.0" r="0.4"/><circle cx="248.6" cy="521.9" r="0.4"/><circle cx="242.7" cy="523.6" r="0.4"/><circle cx="243.8" cy="518.5" r="0.4"/><circle cx="243.6" cy="520.4" r="0.4"/><circle cx="242.0" cy="521.2" r="0.4"/><circle cx="248.5" cy="528.4" r="0.4"/><circle cx="250.9" cy="521.5" r="0.4"/><circle cx="249.1" cy="522.4" r="0.4"/><circle cx="246.8" cy="520.9" r="0.4"/><circle cx="245.3" cy="518.4" r="0.4"/><circle cx="251.1" cy="520.6" r="0.4"/><circle cx="247.3" cy="521.1" r="0.4"/><circle cx="246.3" cy="519.6" r="0.4"/><circle cx="244.3" cy="524.8" r="0.4"/><circle cx="247.4" cy="517.7" r="0.4"/><circle cx="248.2" cy="519.3" r="0.4"/><circle cx="246.4" cy="523.8" r="0.4"/><circle cx="243.5" cy="521.8" r="0.4"/><circle cx="244.7" cy="523.5" r="0.4"/><circle cx="248.4" cy="525.9" r="0.4"/><circle cx="246.5" cy="527.5" r="0.4"/><circle cx="242.5" cy="526.9" r="0.4"/><circle cx="244.7" cy="524.4" r="0.4"/><circle cx="245.1" cy="522.7" r="0.4"/><circle cx="242.6" cy="523.5" r="0.4"/><circle cx="251.8" cy="522.9" r="0.4"/><circle cx="245.4" cy="522.6" r="0.4"/><circle cx="247.7" cy="522.0" r="0.4"/><circle cx="245.5" cy="523.1" r="0.4"/><circle cx="249.6" cy="524.9" r="0.4"/><circle cx="242.2" cy="521.0" r="0.4"/><circle cx="245.6" cy="524.6" r="0.4"/><circle cx="248.5" cy="522.0" r="0.4"/><circle cx="252.2" cy="522.1" r="0.4"/><circle cx="249.9" cy="526.1" r="0.4"/><circle cx="250.5" cy="523.0" r="0.4"/><circle cx="247.3" cy="518.8" r="0.4"/><circle cx="239.9" cy="521.0" r="0.4"/><circle cx="247.8" cy="525.2" r="0.4"/><circle cx="245.2" cy="525.1" r="0.4"/><circle cx="247.3" cy="526.3" r="0.4"/><circle cx="240.5" cy="520.5" r="0.4"/><circle cx="242.5" cy="520.0" r="0.4"/><circle cx="250.7" cy="520.3" r="0.4"/><circle cx="242.9" cy="521.6" r="0.4"/><circle cx="248.3" cy="521.4" r="0.4"/><circle cx="247.8" cy="523.9" r="0.4"/><circle cx="243.5" cy="516.7" r="0.4"/><circle cx="242.6" cy="519.5" r="0.4"/><circle cx="250.6" cy="520.8" r="0.4"/><circle cx="242.1" cy="523.5" r="0.4"/><circle cx="245.7" cy="520.2" r="0.4"/><circle cx="248.9" cy="524.8" r="0.4"/><circle cx="246.4" cy="520.7" r="0.4"/><circle cx="242.8" cy="517.5" r="0.4"/><circle cx="246.7" cy="523.5" r="0.4"/><circle cx="242.6" cy="522.6" r="0.4"/><circle cx="255.8" cy="519.8" r="0.4"/><circle cx="240.1" cy="524.0" r="0.4"/><circle cx="244.2" cy="521.3" r="0.4"/><circle cx="247.5" cy="522.2" r="0.4"/><circle cx="248.6" cy="523.8" r="0.4"/><circle cx="249.1" cy="522.8" r="0.4"/><circle cx="238.7" cy="525.9" r="0.4"/><circle cx="240.2" cy="525.1" r="0.4"/><circle cx="246.3" cy="519.1" r="0.4"/><circle cx="245.7" cy="524.7" r="0.4"/><circle cx="242.3" cy="522.6" r="0.4"/><circle cx="243.2" cy="520.1" r="0.4"/><circle cx="243.6" cy="525.7" r="0.4"/><circle cx="247.7" cy="522.5" r="0.4"/><circle cx="245.2" cy="522.8" r="0.4"/><circle cx="246.4" cy="523.0" r="0.4"/><circle cx="240.1" cy="524.8" r="0.4"/><circle cx="242.8" cy="516.1" r="0.4"/></g>
<ellipse cx="231.4" cy="526.2" rx="3.6" ry="2.7" fill="#111" fill-opacity="0.9" filter="url(#b2)"/>
<ellipse cx="244.4" cy="516.8" rx="3.2" ry="3.0" fill="#111" fill-opacity="0.8" filter="url(#b2)"/>
<ellipse cx="238" cy="521.5" rx="4.5" ry="2.0" fill="#222" fill-opacity="0.7" transform="rotate(-40 238 521.5)" filter="url(#b2)"/>
<text x="248.20" y="533.86" font-size="4.6" text-anchor="start" font-weight="bold" fill="#111" stroke="#111" stroke-width="0.15">27%</text>
<text x="170.01" y="518.00" font-size="7" text-anchor="middle" fill="#111" stroke="#111" stroke-width="0.15" transform="rotate(-90 170.01 518.00)">7AAD</text>
<line x1="178.00" y1="548.20" x2="199.70" y2="548.20" stroke="#111" stroke-width="1.3"/>
<text x="218.00" y="550.83" font-size="7.3" text-anchor="middle" fill="#111" stroke="#111" stroke-width="0.15">Annexin V</text>
<line x1="236.00" y1="548.20" x2="256.50" y2="548.20" stroke="#111" stroke-width="1.3"/>
<path d="M260.3,548.2 L255.3,546 L255.3,550.4 Z" fill="#000"/>
<rect x="305.10" y="525.30" width="10.70" height="19.00" fill="#b3002d"/>
<rect x="321.20" y="504.40" width="10.60" height="39.90" fill="#2f5590"/>
<line x1="326.50" y1="504.40" x2="326.50" y2="500.60" stroke="#111" stroke-width="1.0"/>
<line x1="324.20" y1="500.60" x2="328.80" y2="500.60" stroke="#111" stroke-width="1.0"/>
<line x1="302.80" y1="493.80" x2="302.80" y2="544.80" stroke="#111" stroke-width="1.5"/>
<line x1="299.20" y1="544.30" x2="302.80" y2="544.30" stroke="#111" stroke-width="1.1"/>
<text x="296.20" y="546.32" font-size="5.6" text-anchor="end" font-weight="bold" fill="#111" stroke="#111" stroke-width="0.15">0.0</text>
<line x1="299.20" y1="534.80" x2="302.80" y2="534.80" stroke="#111" stroke-width="1.1"/>
<text x="296.20" y="536.82" font-size="5.6" text-anchor="end" font-weight="bold" fill="#111" stroke="#111" stroke-width="0.15">0.5</text>
<line x1="299.20" y1="525.30" x2="302.80" y2="525.30" stroke="#111" stroke-width="1.1"/>
<text x="296.20" y="527.32" font-size="5.6" text-anchor="end" font-weight="bold" fill="#111" stroke="#111" stroke-width="0.15">1.0</text>
<line x1="299.20" y1="515.80" x2="302.80" y2="515.80" stroke="#111" stroke-width="1.1"/>
<text x="296.20" y="517.82" font-size="5.6" text-anchor="end" font-weight="bold" fill="#111" stroke="#111" stroke-width="0.15">1.5</text>
<line x1="299.20" y1="506.30" x2="302.80" y2="506.30" stroke="#111" stroke-width="1.1"/>
<text x="296.20" y="508.32" font-size="5.6" text-anchor="end" font-weight="bold" fill="#111" stroke="#111" stroke-width="0.15">2.0</text>
<line x1="299.20" y1="496.80" x2="302.80" y2="496.80" stroke="#111" stroke-width="1.1"/>
<text x="296.20" y="498.82" font-size="5.6" text-anchor="end" font-weight="bold" fill="#111" stroke="#111" stroke-width="0.15">2.5</text>
<line x1="302.30" y1="544.30" x2="334.30" y2="544.30" stroke="#111" stroke-width="1.5"/>
<line x1="310.45" y1="544.30" x2="310.45" y2="547.90" stroke="#111" stroke-width="1.1"/>
<line x1="326.50" y1="544.30" x2="326.50" y2="547.90" stroke="#111" stroke-width="1.1"/>
<path d="M310.8,523.8 L310.8,496.2 L324.6,496.2 L324.6,498.2" fill="none" stroke="#111" stroke-width="1.0"/>
<text x="317.70" y="495.18" font-size="5.5" text-anchor="middle" font-weight="bold" fill="#111" stroke="#111" stroke-width="0.15">*</text>
<text x="283.18" y="519.70" font-size="7.2" text-anchor="middle" fill="#111" stroke="#111" stroke-width="0.15" transform="rotate(-90 283.18 519.70)">Annexin V<tspan font-size="4" dy="-2.2">+</tspan><tspan dy="2.2"> 7AAD</tspan><tspan font-size="4" dy="-2.2">+</tspan></text>
<text x="312.00" y="552.00" font-size="5.5" text-anchor="end" fill="#111" stroke="#111" stroke-width="0.15" transform="rotate(-45 312.00 552.00)">control</text>
<text x="328.00" y="552.00" font-size="5.5" text-anchor="end" fill="#111" stroke="#111" stroke-width="0.15" transform="rotate(-45 328.00 552.00)">miR-28</text>
<rect x="8.1" y="582.5" width="2.1" height="10.1" fill="#000"/>
<path d="M53.20,667.60 C53.33,667.53 53.32,669.25 54.00,667.20 C54.68,665.15 56.43,659.43 57.30,655.30 C58.17,651.17 58.57,646.68 59.20,642.40 C59.83,638.12 60.57,632.60 61.10,629.60 C61.63,626.60 62.02,625.37 62.40,624.40 C62.78,623.43 63.08,622.83 63.40,623.80 C63.72,624.77 63.93,629.45 64.30,630.20 C64.67,630.95 65.17,630.33 65.60,628.30 C66.03,626.27 66.47,620.68 66.90,618.00 C67.33,615.32 67.77,612.63 68.20,612.20 C68.63,611.77 69.07,614.00 69.50,615.40 C69.93,616.80 70.37,617.17 70.80,620.60 C71.23,624.03 71.68,630.87 72.10,636.00 C72.52,641.13 72.88,647.12 73.30,651.40 C73.72,655.68 74.05,659.13 74.60,661.70 C75.15,664.27 75.95,665.82 76.60,666.80 C77.25,667.78 78.18,667.47 78.50,667.60 Z" fill="#b7dc9e"/>
<path d="M53.20,667.60 C53.33,667.53 53.32,669.25 54.00,667.20 C54.68,665.15 56.43,659.43 57.30,655.30 C58.17,651.17 58.57,646.68 59.20,642.40 C59.83,638.12 60.57,632.60 61.10,629.60 C61.63,626.60 62.02,625.37 62.40,624.40 C62.78,623.43 63.08,622.83 63.40,623.80 C63.72,624.77 63.93,629.45 64.30,630.20 C64.67,630.95 65.17,630.33 65.60,628.30 C66.03,626.27 66.47,620.68 66.90,618.00 C67.33,615.32 67.77,612.63 68.20,612.20 C68.63,611.77 69.07,614.00 69.50,615.40 C69.93,616.80 70.37,617.17 70.80,620.60 C71.23,624.03 71.68,630.87 72.10,636.00 C72.52,641.13 72.88,647.12 73.30,651.40 C73.72,655.68 74.05,659.13 74.60,661.70 C75.15,664.27 75.95,665.82 76.60,666.80 C77.25,667.78 78.18,667.47 78.50,667.60" fill="none" stroke="#5f9f40" stroke-width="1.0"/>
<line x1="41.90" y1="609.20" x2="41.90" y2="668.20" stroke="#111" stroke-width="1.5"/>
<line x1="39.40" y1="667.60" x2="41.90" y2="667.60" stroke="#111" stroke-width="0.9"/>
<text x="36.60" y="669.51" font-size="5.3" text-anchor="end" fill="#111" stroke="#111" stroke-width="0.25">0</text>
<line x1="39.40" y1="659.64" x2="41.90" y2="659.64" stroke="#111" stroke-width="0.9"/>
<text x="36.60" y="661.55" font-size="5.3" text-anchor="end" fill="#111" stroke="#111" stroke-width="0.25">100</text>
<line x1="39.40" y1="651.68" x2="41.90" y2="651.68" stroke="#111" stroke-width="0.9"/>
<text x="36.60" y="653.59" font-size="5.3" text-anchor="end" fill="#111" stroke="#111" stroke-width="0.25">200</text>
<line x1="39.40" y1="643.72" x2="41.90" y2="643.72" stroke="#111" stroke-width="0.9"/>
<text x="36.60" y="645.63" font-size="5.3" text-anchor="end" fill="#111" stroke="#111" stroke-width="0.25">300</text>
<line x1="39.40" y1="635.76" x2="41.90" y2="635.76" stroke="#111" stroke-width="0.9"/>
<text x="36.60" y="637.67" font-size="5.3" text-anchor="end" fill="#111" stroke="#111" stroke-width="0.25">400</text>
<line x1="39.40" y1="627.80" x2="41.90" y2="627.80" stroke="#111" stroke-width="0.9"/>
<text x="36.60" y="629.71" font-size="5.3" text-anchor="end" fill="#111" stroke="#111" stroke-width="0.25">500</text>
<line x1="39.40" y1="619.84" x2="41.90" y2="619.84" stroke="#111" stroke-width="0.9"/>
<text x="36.60" y="621.75" font-size="5.3" text-anchor="end" fill="#111" stroke="#111" stroke-width="0.25">600</text>
<line x1="39.40" y1="611.88" x2="41.90" y2="611.88" stroke="#111" stroke-width="0.9"/>
<text x="36.60" y="613.79" font-size="5.3" text-anchor="end" fill="#111" stroke="#111" stroke-width="0.25">700</text>
<line x1="41.40" y1="667.60" x2="113.80" y2="667.60" stroke="#111" stroke-width="1.5"/>
<line x1="42.40" y1="667.60" x2="42.40" y2="669.20" stroke="#111" stroke-width="0.7"/>
<line x1="44.60" y1="667.60" x2="44.60" y2="669.20" stroke="#111" stroke-width="0.7"/>
<line x1="46.30" y1="667.60" x2="46.30" y2="669.20" stroke="#111" stroke-width="0.7"/>
<line x1="47.70" y1="667.60" x2="47.70" y2="669.20" stroke="#111" stroke-width="0.7"/>
<line x1="48.87" y1="667.60" x2="48.87" y2="669.20" stroke="#111" stroke-width="0.7"/>
<line x1="49.89" y1="667.60" x2="49.89" y2="669.20" stroke="#111" stroke-width="0.7"/>
<line x1="50.79" y1="667.60" x2="50.79" y2="669.20" stroke="#111" stroke-width="0.7"/>
<line x1="51.60" y1="667.60" x2="51.60" y2="670.20" stroke="#111" stroke-width="0.8"/>
<line x1="56.90" y1="667.60" x2="56.90" y2="669.20" stroke="#111" stroke-width="0.7"/>
<line x1="60.00" y1="667.60" x2="60.00" y2="669.20" stroke="#111" stroke-width="0.7"/>
<line x1="62.20" y1="667.60" x2="62.20" y2="669.20" stroke="#111" stroke-width="0.7"/>
<line x1="63.90" y1="667.60" x2="63.90" y2="669.20" stroke="#111" stroke-width="0.7"/>
<line x1="65.30" y1="667.60" x2="65.30" y2="669.20" stroke="#111" stroke-width="0.7"/>
<line x1="66.47" y1="667.60" x2="66.47" y2="669.20" stroke="#111" stroke-width="0.7"/>
<line x1="67.49" y1="667.60" x2="67.49" y2="669.20" stroke="#111" stroke-width="0.7"/>
<line x1="68.39" y1="667.60" x2="68.39" y2="669.20" stroke="#111" stroke-width="0.7"/>
<line x1="69.20" y1="667.60" x2="69.20" y2="670.20" stroke="#111" stroke-width="0.8"/>
<line x1="74.50" y1="667.60" x2="74.50" y2="669.20" stroke="#111" stroke-width="0.7"/>
<line x1="77.60" y1="667.60" x2="77.60" y2="669.20" stroke="#111" stroke-width="0.7"/>
<line x1="79.80" y1="667.60" x2="79.80" y2="669.20" stroke="#111" stroke-width="0.7"/>
<line x1="81.50" y1="667.60" x2="81.50" y2="669.20" stroke="#111" stroke-width="0.7"/>
<line x1="82.90" y1="667.60" x2="82.90" y2="669.20" stroke="#111" stroke-width="0.7"/>
<line x1="84.07" y1="667.60" x2="84.07" y2="669.20" stroke="#111" stroke-width="0.7"/>
<line x1="85.09" y1="667.60" x2="85.09" y2="669.20" stroke="#111" stroke-width="0.7"/>
<line x1="85.99" y1="667.60" x2="85.99" y2="669.20" stroke="#111" stroke-width="0.7"/>
<line x1="86.80" y1="667.60" x2="86.80" y2="670.20" stroke="#111" stroke-width="0.8"/>
<line x1="92.10" y1="667.60" x2="92.10" y2="669.20" stroke="#111" stroke-width="0.7"/>
<line x1="95.20" y1="667.60" x2="95.20" y2="669.20" stroke="#111" stroke-width="0.7"/>
<line x1="97.40" y1="667.60" x2="97.40" y2="669.20" stroke="#111" stroke-width="0.7"/>
<line x1="99.10" y1="667.60" x2="99.10" y2="669.20" stroke="#111" stroke-width="0.7"/>
<line x1="100.50" y1="667.60" x2="100.50" y2="669.20" stroke="#111" stroke-width="0.7"/>
<line x1="101.67" y1="667.60" x2="101.67" y2="669.20" stroke="#111" stroke-width="0.7"/>
<line x1="102.69" y1="667.60" x2="102.69" y2="669.20" stroke="#111" stroke-width="0.7"/>
<line x1="103.59" y1="667.60" x2="103.59" y2="669.20" stroke="#111" stroke-width="0.7"/>
<line x1="104.40" y1="667.60" x2="104.40" y2="670.20" stroke="#111" stroke-width="0.8"/>
<line x1="109.70" y1="667.60" x2="109.70" y2="669.20" stroke="#111" stroke-width="0.7"/>
<line x1="112.80" y1="667.60" x2="112.80" y2="669.20" stroke="#111" stroke-width="0.7"/>
<text x="51.60" y="679.71" font-size="5.3" text-anchor="middle" fill="#111" stroke="#111" stroke-width="0.15">10<tspan font-size="3.2" dy="-1.8">0</tspan></text>
<text x="69.20" y="679.71" font-size="5.3" text-anchor="middle" fill="#111" stroke="#111" stroke-width="0.15">10<tspan font-size="3.2" dy="-1.8">1</tspan></text>
<text x="86.90" y="679.71" font-size="5.3" text-anchor="middle" fill="#111" stroke="#111" stroke-width="0.15">10<tspan font-size="3.2" dy="-1.8">2</tspan></text>
<text x="104.40" y="679.71" font-size="5.3" text-anchor="middle" fill="#111" stroke="#111" stroke-width="0.15">10<tspan font-size="3.2" dy="-1.8">3</tspan></text>
<text x="76.80" y="606.19" font-size="7.2" text-anchor="middle" fill="#111" stroke="#111" stroke-width="0.15">stauro</text>
<text x="97.30" y="620.27" font-size="5.2" text-anchor="start" fill="#111" stroke="#111" stroke-width="0.3">62%</text>
<path d="M160.50,667.60 C160.63,667.53 160.80,667.92 161.30,667.20 C161.80,666.48 162.78,666.42 163.50,663.30 C164.22,660.18 164.97,656.27 165.60,648.50 C166.23,640.73 166.77,623.05 167.30,616.70 C167.83,610.35 168.32,610.85 168.80,610.40 C169.28,609.95 169.85,612.60 170.20,614.00 C170.55,615.40 170.53,614.47 170.90,618.80 C171.27,623.13 171.88,633.65 172.40,640.00 C172.92,646.35 173.45,653.18 174.00,656.90 C174.55,660.62 175.12,661.35 175.70,662.30 C176.28,663.25 176.90,662.40 177.50,662.60 C178.10,662.80 178.65,663.03 179.30,663.50 C179.95,663.97 180.52,664.72 181.40,665.40 C182.28,666.08 184.07,667.23 184.60,667.60 Z" fill="#d98b84"/>
<path d="M160.50,667.60 C160.63,667.53 160.80,667.92 161.30,667.20 C161.80,666.48 162.78,666.42 163.50,663.30 C164.22,660.18 164.97,656.27 165.60,648.50 C166.23,640.73 166.77,623.05 167.30,616.70 C167.83,610.35 168.32,610.85 168.80,610.40 C169.28,609.95 169.85,612.60 170.20,614.00 C170.55,615.40 170.53,614.47 170.90,618.80 C171.27,623.13 171.88,633.65 172.40,640.00 C172.92,646.35 173.45,653.18 174.00,656.90 C174.55,660.62 175.12,661.35 175.70,662.30 C176.28,663.25 176.90,662.40 177.50,662.60 C178.10,662.80 178.65,663.03 179.30,663.50 C179.95,663.97 180.52,664.72 181.40,665.40 C182.28,666.08 184.07,667.23 184.60,667.60" fill="none" stroke="#8e1a2e" stroke-width="1.0"/>
<line x1="149.10" y1="609.20" x2="149.10" y2="668.20" stroke="#111" stroke-width="1.5"/>
<line x1="146.60" y1="667.60" x2="149.10" y2="667.60" stroke="#111" stroke-width="0.9"/>
<text x="143.80" y="669.51" font-size="5.3" text-anchor="end" fill="#111" stroke="#111" stroke-width="0.25">0</text>
<line x1="146.60" y1="656.90" x2="149.10" y2="656.90" stroke="#111" stroke-width="0.9"/>
<text x="143.80" y="658.81" font-size="5.3" text-anchor="end" fill="#111" stroke="#111" stroke-width="0.25">250</text>
<line x1="146.60" y1="646.60" x2="149.10" y2="646.60" stroke="#111" stroke-width="0.9"/>
<text x="143.80" y="648.51" font-size="5.3" text-anchor="end" fill="#111" stroke="#111" stroke-width="0.25">500</text>
<line x1="146.60" y1="635.80" x2="149.10" y2="635.80" stroke="#111" stroke-width="0.9"/>
<text x="143.80" y="637.71" font-size="5.3" text-anchor="end" fill="#111" stroke="#111" stroke-width="0.25">750</text>
<line x1="146.60" y1="625.20" x2="149.10" y2="625.20" stroke="#111" stroke-width="0.9"/>
<text x="143.80" y="627.11" font-size="5.3" text-anchor="end" fill="#111" stroke="#111" stroke-width="0.25">1,000</text>
<line x1="146.60" y1="614.60" x2="149.10" y2="614.60" stroke="#111" stroke-width="0.9"/>
<text x="143.80" y="616.51" font-size="5.3" text-anchor="end" fill="#111" stroke="#111" stroke-width="0.25">1,250</text>
<line x1="148.60" y1="667.60" x2="215.90" y2="667.60" stroke="#111" stroke-width="1.5"/>
<line x1="151.08" y1="667.60" x2="151.08" y2="669.20" stroke="#111" stroke-width="0.7"/>
<line x1="152.81" y1="667.60" x2="152.81" y2="669.20" stroke="#111" stroke-width="0.7"/>
<line x1="154.23" y1="667.60" x2="154.23" y2="669.20" stroke="#111" stroke-width="0.7"/>
<line x1="155.43" y1="667.60" x2="155.43" y2="669.20" stroke="#111" stroke-width="0.7"/>
<line x1="156.47" y1="667.60" x2="156.47" y2="669.20" stroke="#111" stroke-width="0.7"/>
<line x1="157.38" y1="667.60" x2="157.38" y2="669.20" stroke="#111" stroke-width="0.7"/>
<line x1="158.20" y1="667.60" x2="158.20" y2="670.20" stroke="#111" stroke-width="0.8"/>
<line x1="163.59" y1="667.60" x2="163.59" y2="669.20" stroke="#111" stroke-width="0.7"/>
<line x1="166.74" y1="667.60" x2="166.74" y2="669.20" stroke="#111" stroke-width="0.7"/>
<line x1="168.98" y1="667.60" x2="168.98" y2="669.20" stroke="#111" stroke-width="0.7"/>
<line x1="170.71" y1="667.60" x2="170.71" y2="669.20" stroke="#111" stroke-width="0.7"/>
<line x1="172.13" y1="667.60" x2="172.13" y2="669.20" stroke="#111" stroke-width="0.7"/>
<line x1="173.33" y1="667.60" x2="173.33" y2="669.20" stroke="#111" stroke-width="0.7"/>
<line x1="174.37" y1="667.60" x2="174.37" y2="669.20" stroke="#111" stroke-width="0.7"/>
<line x1="175.28" y1="667.60" x2="175.28" y2="669.20" stroke="#111" stroke-width="0.7"/>
<line x1="176.10" y1="667.60" x2="176.10" y2="670.20" stroke="#111" stroke-width="0.8"/>
<line x1="181.49" y1="667.60" x2="181.49" y2="669.20" stroke="#111" stroke-width="0.7"/>
<line x1="184.64" y1="667.60" x2="184.64" y2="669.20" stroke="#111" stroke-width="0.7"/>
<line x1="186.88" y1="667.60" x2="186.88" y2="669.20" stroke="#111" stroke-width="0.7"/>
<line x1="188.61" y1="667.60" x2="188.61" y2="669.20" stroke="#111" stroke-width="0.7"/>
<line x1="190.03" y1="667.60" x2="190.03" y2="669.20" stroke="#111" stroke-width="0.7"/>
<line x1="191.23" y1="667.60" x2="191.23" y2="669.20" stroke="#111" stroke-width="0.7"/>
<line x1="192.27" y1="667.60" x2="192.27" y2="669.20" stroke="#111" stroke-width="0.7"/>
<line x1="193.18" y1="667.60" x2="193.18" y2="669.20" stroke="#111" stroke-width="0.7"/>
<line x1="194.00" y1="667.60" x2="194.00" y2="670.20" stroke="#111" stroke-width="0.8"/>
<line x1="199.39" y1="667.60" x2="199.39" y2="669.20" stroke="#111" stroke-width="0.7"/>
<line x1="202.54" y1="667.60" x2="202.54" y2="669.20" stroke="#111" stroke-width="0.7"/>
<line x1="204.78" y1="667.60" x2="204.78" y2="669.20" stroke="#111" stroke-width="0.7"/>
<line x1="206.51" y1="667.60" x2="206.51" y2="669.20" stroke="#111" stroke-width="0.7"/>
<line x1="207.93" y1="667.60" x2="207.93" y2="669.20" stroke="#111" stroke-width="0.7"/>
<line x1="209.13" y1="667.60" x2="209.13" y2="669.20" stroke="#111" stroke-width="0.7"/>
<line x1="210.17" y1="667.60" x2="210.17" y2="669.20" stroke="#111" stroke-width="0.7"/>
<line x1="211.08" y1="667.60" x2="211.08" y2="669.20" stroke="#111" stroke-width="0.7"/>
<line x1="211.90" y1="667.60" x2="211.90" y2="670.20" stroke="#111" stroke-width="0.8"/>
<text x="158.20" y="679.71" font-size="5.3" text-anchor="middle" fill="#111" stroke="#111" stroke-width="0.15">10<tspan font-size="3.2" dy="-1.8">0</tspan></text>
<text x="176.10" y="679.71" font-size="5.3" text-anchor="middle" fill="#111" stroke="#111" stroke-width="0.15">10<tspan font-size="3.2" dy="-1.8">1</tspan></text>
<text x="194.00" y="679.71" font-size="5.3" text-anchor="middle" fill="#111" stroke="#111" stroke-width="0.15">10<tspan font-size="3.2" dy="-1.8">2</tspan></text>
<text x="211.90" y="679.71" font-size="5.3" text-anchor="middle" fill="#111" stroke="#111" stroke-width="0.15">10<tspan font-size="3.2" dy="-1.8">3</tspan></text>
<text x="184.60" y="606.19" font-size="7.2" text-anchor="middle" fill="#111" stroke="#111" stroke-width="0.15">control</text>
<text x="204.70" y="620.27" font-size="5.2" text-anchor="start" fill="#111" stroke="#111" stroke-width="0.3">7%</text>
<path d="M266.80,667.60 C266.95,667.53 267.20,668.63 267.70,667.20 C268.20,665.77 269.10,663.88 269.80,659.00 C270.50,654.12 271.27,644.95 271.90,637.90 C272.53,630.85 273.13,621.12 273.60,616.70 C274.07,612.28 274.27,611.05 274.70,611.40 C275.13,611.75 275.68,614.38 276.20,618.80 C276.72,623.22 277.28,632.32 277.80,637.90 C278.32,643.48 278.77,649.58 279.30,652.30 C279.83,655.02 280.40,653.38 281.00,654.20 C281.60,655.02 282.23,655.68 282.90,657.20 C283.57,658.72 284.18,661.65 285.00,663.30 C285.82,664.95 287.13,666.38 287.80,667.10 C288.47,667.82 288.80,667.52 289.00,667.60 Z" fill="#8e9acb"/>
<path d="M266.80,667.60 C266.95,667.53 267.20,668.63 267.70,667.20 C268.20,665.77 269.10,663.88 269.80,659.00 C270.50,654.12 271.27,644.95 271.90,637.90 C272.53,630.85 273.13,621.12 273.60,616.70 C274.07,612.28 274.27,611.05 274.70,611.40 C275.13,611.75 275.68,614.38 276.20,618.80 C276.72,623.22 277.28,632.32 277.80,637.90 C278.32,643.48 278.77,649.58 279.30,652.30 C279.83,655.02 280.40,653.38 281.00,654.20 C281.60,655.02 282.23,655.68 282.90,657.20 C283.57,658.72 284.18,661.65 285.00,663.30 C285.82,664.95 287.13,666.38 287.80,667.10 C288.47,667.82 288.80,667.52 289.00,667.60" fill="none" stroke="#26366e" stroke-width="1.0"/>
<line x1="252.90" y1="609.20" x2="252.90" y2="668.20" stroke="#111" stroke-width="1.5"/>
<line x1="250.40" y1="667.60" x2="252.90" y2="667.60" stroke="#111" stroke-width="0.9"/>
<text x="247.60" y="669.51" font-size="5.3" text-anchor="end" fill="#111" stroke="#111" stroke-width="0.25">0</text>
<line x1="250.40" y1="656.90" x2="252.90" y2="656.90" stroke="#111" stroke-width="0.9"/>
<text x="247.60" y="658.81" font-size="5.3" text-anchor="end" fill="#111" stroke="#111" stroke-width="0.25">500</text>
<line x1="250.40" y1="646.60" x2="252.90" y2="646.60" stroke="#111" stroke-width="0.9"/>
<text x="247.60" y="648.51" font-size="5.3" text-anchor="end" fill="#111" stroke="#111" stroke-width="0.25">1,000</text>
<line x1="250.40" y1="635.80" x2="252.90" y2="635.80" stroke="#111" stroke-width="0.9"/>
<text x="247.60" y="637.71" font-size="5.3" text-anchor="end" fill="#111" stroke="#111" stroke-width="0.25">1,500</text>
<line x1="250.40" y1="625.00" x2="252.90" y2="625.00" stroke="#111" stroke-width="0.9"/>
<text x="247.60" y="626.91" font-size="5.3" text-anchor="end" fill="#111" stroke="#111" stroke-width="0.25">2,000</text>
<line x1="250.40" y1="614.60" x2="252.90" y2="614.60" stroke="#111" stroke-width="0.9"/>
<text x="247.60" y="616.51" font-size="5.3" text-anchor="end" fill="#111" stroke="#111" stroke-width="0.25">2,500</text>
<line x1="252.40" y1="667.60" x2="319.60" y2="667.60" stroke="#111" stroke-width="1.5"/>
<line x1="252.99" y1="667.60" x2="252.99" y2="669.20" stroke="#111" stroke-width="0.7"/>
<line x1="255.22" y1="667.60" x2="255.22" y2="669.20" stroke="#111" stroke-width="0.7"/>
<line x1="256.94" y1="667.60" x2="256.94" y2="669.20" stroke="#111" stroke-width="0.7"/>
<line x1="258.35" y1="667.60" x2="258.35" y2="669.20" stroke="#111" stroke-width="0.7"/>
<line x1="259.54" y1="667.60" x2="259.54" y2="669.20" stroke="#111" stroke-width="0.7"/>
<line x1="260.58" y1="667.60" x2="260.58" y2="669.20" stroke="#111" stroke-width="0.7"/>
<line x1="261.49" y1="667.60" x2="261.49" y2="669.20" stroke="#111" stroke-width="0.7"/>
<line x1="262.30" y1="667.60" x2="262.30" y2="670.20" stroke="#111" stroke-width="0.8"/>
<line x1="267.66" y1="667.60" x2="267.66" y2="669.20" stroke="#111" stroke-width="0.7"/>
<line x1="270.79" y1="667.60" x2="270.79" y2="669.20" stroke="#111" stroke-width="0.7"/>
<line x1="273.02" y1="667.60" x2="273.02" y2="669.20" stroke="#111" stroke-width="0.7"/>
<line x1="274.74" y1="667.60" x2="274.74" y2="669.20" stroke="#111" stroke-width="0.7"/>
<line x1="276.15" y1="667.60" x2="276.15" y2="669.20" stroke="#111" stroke-width="0.7"/>
<line x1="277.34" y1="667.60" x2="277.34" y2="669.20" stroke="#111" stroke-width="0.7"/>
<line x1="278.38" y1="667.60" x2="278.38" y2="669.20" stroke="#111" stroke-width="0.7"/>
<line x1="279.29" y1="667.60" x2="279.29" y2="669.20" stroke="#111" stroke-width="0.7"/>
<line x1="280.10" y1="667.60" x2="280.10" y2="670.20" stroke="#111" stroke-width="0.8"/>
<line x1="285.46" y1="667.60" x2="285.46" y2="669.20" stroke="#111" stroke-width="0.7"/>
<line x1="288.59" y1="667.60" x2="288.59" y2="669.20" stroke="#111" stroke-width="0.7"/>
<line x1="290.82" y1="667.60" x2="290.82" y2="669.20" stroke="#111" stroke-width="0.7"/>
<line x1="292.54" y1="667.60" x2="292.54" y2="669.20" stroke="#111" stroke-width="0.7"/>
<line x1="293.95" y1="667.60" x2="293.95" y2="669.20" stroke="#111" stroke-width="0.7"/>
<line x1="295.14" y1="667.60" x2="295.14" y2="669.20" stroke="#111" stroke-width="0.7"/>
<line x1="296.18" y1="667.60" x2="296.18" y2="669.20" stroke="#111" stroke-width="0.7"/>
<line x1="297.09" y1="667.60" x2="297.09" y2="669.20" stroke="#111" stroke-width="0.7"/>
<line x1="297.90" y1="667.60" x2="297.90" y2="670.20" stroke="#111" stroke-width="0.8"/>
<line x1="303.26" y1="667.60" x2="303.26" y2="669.20" stroke="#111" stroke-width="0.7"/>
<line x1="306.39" y1="667.60" x2="306.39" y2="669.20" stroke="#111" stroke-width="0.7"/>
<line x1="308.62" y1="667.60" x2="308.62" y2="669.20" stroke="#111" stroke-width="0.7"/>
<line x1="310.34" y1="667.60" x2="310.34" y2="669.20" stroke="#111" stroke-width="0.7"/>
<line x1="311.75" y1="667.60" x2="311.75" y2="669.20" stroke="#111" stroke-width="0.7"/>
<line x1="312.94" y1="667.60" x2="312.94" y2="669.20" stroke="#111" stroke-width="0.7"/>
<line x1="313.98" y1="667.60" x2="313.98" y2="669.20" stroke="#111" stroke-width="0.7"/>
<line x1="314.89" y1="667.60" x2="314.89" y2="669.20" stroke="#111" stroke-width="0.7"/>
<line x1="315.70" y1="667.60" x2="315.70" y2="670.20" stroke="#111" stroke-width="0.8"/>
<text x="262.30" y="679.71" font-size="5.3" text-anchor="middle" fill="#111" stroke="#111" stroke-width="0.15">10<tspan font-size="3.2" dy="-1.8">0</tspan></text>
<text x="280.10" y="679.71" font-size="5.3" text-anchor="middle" fill="#111" stroke="#111" stroke-width="0.15">10<tspan font-size="3.2" dy="-1.8">1</tspan></text>
<text x="297.90" y="679.71" font-size="5.3" text-anchor="middle" fill="#111" stroke="#111" stroke-width="0.15">10<tspan font-size="3.2" dy="-1.8">2</tspan></text>
<text x="315.70" y="679.71" font-size="5.3" text-anchor="middle" fill="#111" stroke="#111" stroke-width="0.15">10<tspan font-size="3.2" dy="-1.8">3</tspan></text>
<text x="287.80" y="606.19" font-size="7.2" text-anchor="middle" fill="#111" stroke="#111" stroke-width="0.15">miR-28</text>
<text x="305.90" y="620.27" font-size="5.2" text-anchor="start" fill="#111" stroke="#111" stroke-width="0.3">18%</text>
<text x="21.38" y="638.50" font-size="7.2" text-anchor="middle" fill="#111" stroke="#111" stroke-width="0.15" transform="rotate(-90 21.38 638.50)">Cell count</text>
<line x1="41.90" y1="688.20" x2="163.80" y2="688.20" stroke="#111" stroke-width="1.3"/>
<text x="181.80" y="690.83" font-size="7.3" text-anchor="middle" fill="#111" stroke="#111" stroke-width="0.15">Caspase 3</text>
<line x1="199.80" y1="688.20" x2="315.00" y2="688.20" stroke="#111" stroke-width="1.3"/>
<path d="M319.5,688.2 L314.3,686 L314.3,690.4 Z" fill="#000"/>
<rect x="387.90" y="658.86" width="9.40" height="8.24" fill="none" stroke="#a8203f" stroke-width="1.3"/>
<rect x="404.60" y="641.70" width="10.00" height="26.00" fill="#2f5590"/>
<circle cx="392.10" cy="649.40" r="0.9" fill="#a8203f"/>
<circle cx="392.10" cy="655.60" r="0.9" fill="#a8203f"/>
<circle cx="389.90" cy="665.00" r="0.9" fill="#a8203f"/>
<circle cx="394.20" cy="665.00" r="0.9" fill="#a8203f"/>
<circle cx="409.40" cy="620.50" r="0.95" fill="#33508f"/>
<circle cx="409.40" cy="627.90" r="0.95" fill="#33508f"/>
<circle cx="409.40" cy="634.80" r="0.95" fill="#33508f"/>
<circle cx="409.40" cy="649.00" r="0.6" fill="#8ea0d0"/>
<circle cx="409.40" cy="654.20" r="0.6" fill="#8ea0d0"/>
<circle cx="409.40" cy="664.60" r="0.6" fill="#8ea0d0"/>
<line x1="383.30" y1="613.50" x2="383.30" y2="668.20" stroke="#111" stroke-width="1.5"/>
<line x1="379.70" y1="667.70" x2="383.30" y2="667.70" stroke="#111" stroke-width="1.1"/>
<text x="376.70" y="669.72" font-size="5.6" text-anchor="end" font-weight="bold" fill="#111" stroke="#111" stroke-width="0.15">0</text>
<line x1="379.70" y1="657.30" x2="383.30" y2="657.30" stroke="#111" stroke-width="1.1"/>
<text x="376.70" y="659.32" font-size="5.6" text-anchor="end" font-weight="bold" fill="#111" stroke="#111" stroke-width="0.15">10</text>
<line x1="379.70" y1="646.90" x2="383.30" y2="646.90" stroke="#111" stroke-width="1.1"/>
<text x="376.70" y="648.92" font-size="5.6" text-anchor="end" font-weight="bold" fill="#111" stroke="#111" stroke-width="0.15">20</text>
<line x1="379.70" y1="636.50" x2="383.30" y2="636.50" stroke="#111" stroke-width="1.1"/>
<text x="376.70" y="638.52" font-size="5.6" text-anchor="end" font-weight="bold" fill="#111" stroke="#111" stroke-width="0.15">30</text>
<line x1="379.70" y1="626.10" x2="383.30" y2="626.10" stroke="#111" stroke-width="1.1"/>
<text x="376.70" y="628.12" font-size="5.6" text-anchor="end" font-weight="bold" fill="#111" stroke="#111" stroke-width="0.15">40</text>
<line x1="379.70" y1="615.70" x2="383.30" y2="615.70" stroke="#111" stroke-width="1.1"/>
<text x="376.70" y="617.72" font-size="5.6" text-anchor="end" font-weight="bold" fill="#111" stroke="#111" stroke-width="0.15">50</text>
<line x1="382.80" y1="667.70" x2="419.30" y2="667.70" stroke="#111" stroke-width="1.5"/>
<line x1="392.60" y1="667.70" x2="392.60" y2="671.30" stroke="#111" stroke-width="1.1"/>
<line x1="409.60" y1="667.70" x2="409.60" y2="671.30" stroke="#111" stroke-width="1.1"/>
<path d="M392.1,639.5 L392.1,617.5 L407.7,617.5 L407.7,619.3" fill="none" stroke="#111" stroke-width="1.0"/>
<text x="400.30" y="615.98" font-size="5.5" text-anchor="middle" font-weight="bold" fill="#111" stroke="#111" stroke-width="0.15">*</text>
<text x="365.68" y="642.30" font-size="6.9" text-anchor="middle" fill="#111" stroke="#111" stroke-width="0.15" transform="rotate(-90 365.68 642.30)">Caspase 3<tspan font-size="4" dy="-2.2">+</tspan><tspan dy="2.2"> cells(%)</tspan></text>
<text x="395.50" y="674.50" font-size="5.5" text-anchor="end" fill="#111" stroke="#111" stroke-width="0.15" transform="rotate(-45 395.50 674.50)">control</text>
<text x="415.50" y="674.50" font-size="5.5" text-anchor="end" fill="#111" stroke="#111" stroke-width="0.15" transform="rotate(-45 415.50 674.50)">miR-28</text>
<rect x="0.00" y="0.00" width="520.00" height="1.15" fill="#000"/>
<rect x="0.00" y="0.00" width="1.15" height="700.00" fill="#000"/>
<rect x="518.50" y="0.00" width="1.50" height="700.00" fill="#000"/>
<rect x="0.00" y="698.50" width="520.00" height="1.50" fill="#000"/>
</svg></body></html>
